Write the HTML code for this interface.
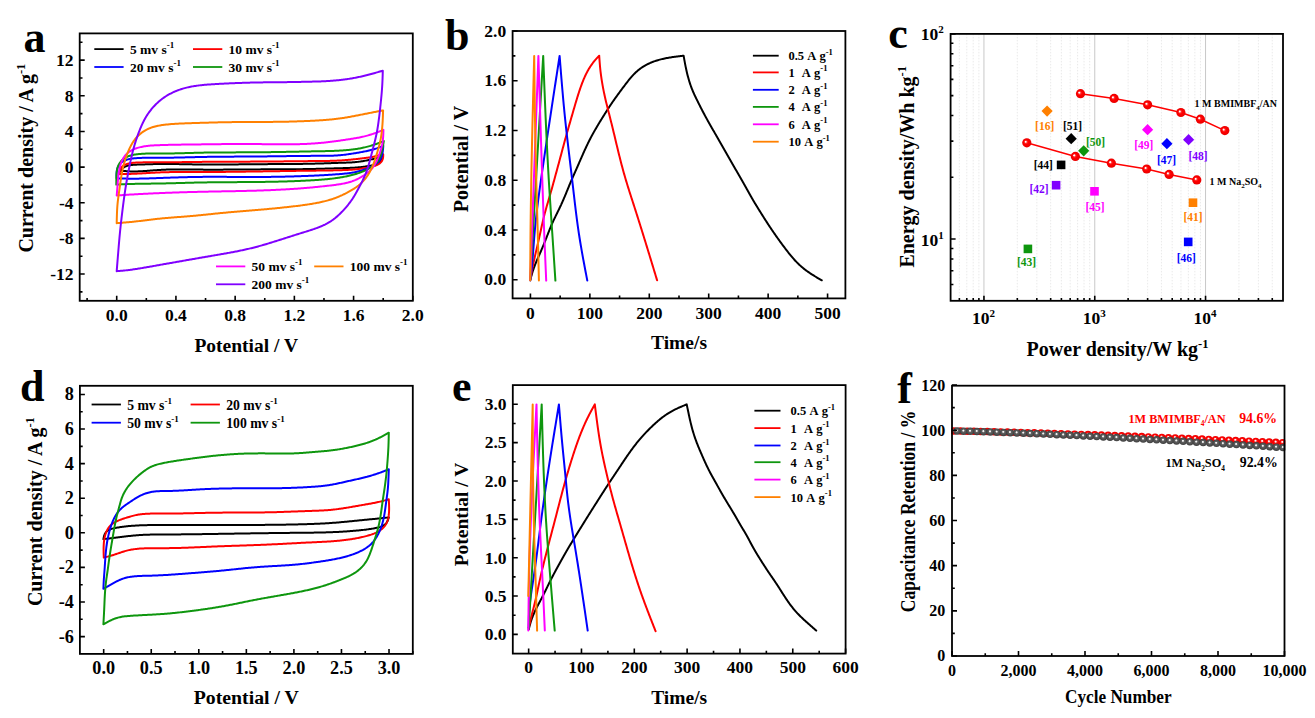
<!DOCTYPE html>
<html><head><meta charset="utf-8"><style>
html,body{margin:0;padding:0;background:#fff;}
svg{display:block;}
text{font-family:'Liberation Serif', serif;}
</style></head><body>
<svg width="1315" height="718" viewBox="0 0 1315 718" font-family="'Liberation Serif', serif">
<defs>
<radialGradient id="gr" cx="0.5" cy="0.5" r="0.5" fx="0.34" fy="0.36"><stop offset="0" stop-color="#fff"/><stop offset="0.12" stop-color="#fff"/><stop offset="0.3" stop-color="#ff3030"/><stop offset="0.5" stop-color="#ff0000"/><stop offset="1" stop-color="#e80000"/></radialGradient>
<radialGradient id="fr" cx="0.5" cy="0.5" r="0.5" fx="0.45" fy="0.36"><stop offset="0" stop-color="#fff"/><stop offset="0.16" stop-color="#ffecec"/><stop offset="0.38" stop-color="#ff1a1a"/><stop offset="0.6" stop-color="#ff0000"/><stop offset="1" stop-color="#e60000"/></radialGradient>
<radialGradient id="fg" cx="0.5" cy="0.5" r="0.5" fx="0.45" fy="0.4"><stop offset="0" stop-color="#fff"/><stop offset="0.16" stop-color="#ececec"/><stop offset="0.38" stop-color="#606060"/><stop offset="0.7" stop-color="#505050"/><stop offset="1" stop-color="#3e3e3e"/></radialGradient>
</defs>
<rect width="1315" height="718" fill="#fff"/>
<path d="M120.40,170.60 L121.01,169.85 L121.64,169.14 L122.31,168.47 L123.04,167.87 L123.82,167.33 L124.64,166.86 L125.51,166.45 L126.41,166.10 L127.34,165.80 L128.29,165.54 L129.26,165.33 L130.24,165.16 L131.24,165.02 L132.25,164.90 L133.26,164.82 L134.29,164.75 L135.32,164.70 L136.35,164.66 L137.38,164.62 L138.41,164.59 L139.43,164.56 L140.46,164.52 L141.48,164.49 L142.50,164.46 L143.51,164.42 L144.52,164.39 L145.54,164.36 L146.54,164.32 L147.55,164.29 L148.56,164.26 L149.56,164.23 L150.57,164.20 L151.57,164.17 L152.57,164.15 L153.57,164.12 L154.57,164.10 L155.57,164.08 L156.57,164.06 L157.57,164.04 L158.57,164.02 L159.57,164.01 L160.57,164.00 L161.57,163.99 L162.57,163.98 L163.57,163.98 L164.57,163.98 L165.58,163.97 L166.58,163.98 L167.58,163.98 L168.59,163.98 L169.59,163.99 L170.59,164.00 L171.60,164.01 L172.60,164.02 L173.61,164.03 L174.61,164.05 L175.62,164.06 L176.63,164.08 L177.63,164.09 L178.64,164.11 L179.65,164.13 L180.65,164.14 L181.66,164.16 L182.67,164.18 L183.68,164.20 L184.68,164.22 L185.69,164.24 L186.70,164.26 L187.71,164.28 L188.71,164.30 L189.72,164.32 L190.73,164.34 L191.74,164.36 L192.75,164.38 L193.76,164.40 L194.76,164.42 L195.77,164.44 L196.78,164.45 L197.79,164.47 L198.80,164.48 L199.80,164.50 L200.81,164.51 L201.82,164.52 L202.83,164.53 L203.83,164.54 L204.84,164.54 L205.85,164.55 L206.86,164.56 L207.86,164.56 L208.87,164.56 L209.88,164.57 L210.88,164.57 L211.89,164.57 L212.90,164.57 L213.90,164.57 L214.91,164.57 L215.92,164.56 L216.92,164.56 L217.93,164.56 L218.94,164.55 L219.94,164.55 L220.95,164.54 L221.95,164.53 L222.96,164.53 L223.97,164.52 L224.97,164.51 L225.98,164.50 L226.98,164.50 L227.99,164.49 L228.99,164.48 L230.00,164.47 L231.01,164.46 L232.01,164.45 L233.02,164.44 L234.02,164.42 L235.03,164.41 L236.03,164.40 L237.04,164.39 L238.05,164.38 L239.05,164.37 L240.06,164.36 L241.06,164.34 L242.07,164.33 L243.07,164.32 L244.08,164.31 L245.08,164.30 L246.09,164.29 L247.10,164.28 L248.10,164.27 L249.11,164.26 L250.11,164.25 L251.12,164.24 L252.12,164.23 L253.13,164.22 L254.14,164.21 L255.14,164.20 L256.15,164.19 L257.15,164.18 L258.16,164.18 L259.17,164.17 L260.17,164.16 L261.18,164.16 L262.18,164.15 L263.19,164.15 L264.20,164.14 L265.20,164.14 L266.21,164.13 L267.22,164.13 L268.22,164.12 L269.23,164.12 L270.23,164.11 L271.24,164.11 L272.25,164.11 L273.25,164.10 L274.26,164.10 L275.27,164.09 L276.27,164.09 L277.28,164.08 L278.29,164.08 L279.29,164.08 L280.30,164.07 L281.30,164.07 L282.31,164.06 L283.32,164.06 L284.32,164.05 L285.33,164.04 L286.34,164.04 L287.34,164.03 L288.35,164.03 L289.36,164.02 L290.36,164.01 L291.37,164.00 L292.37,163.99 L293.38,163.99 L294.39,163.98 L295.39,163.97 L296.40,163.96 L297.41,163.95 L298.41,163.93 L299.42,163.92 L300.42,163.91 L301.43,163.90 L302.44,163.88 L303.44,163.87 L304.45,163.85 L305.45,163.83 L306.46,163.82 L307.47,163.80 L308.47,163.78 L309.48,163.76 L310.48,163.74 L311.49,163.72 L312.49,163.70 L313.50,163.67 L314.51,163.65 L315.51,163.62 L316.52,163.60 L317.52,163.57 L318.53,163.54 L319.53,163.51 L320.54,163.48 L321.54,163.45 L322.55,163.42 L323.55,163.38 L324.56,163.35 L325.56,163.31 L326.57,163.28 L327.57,163.24 L328.58,163.21 L329.58,163.17 L330.59,163.13 L331.59,163.10 L332.60,163.06 L333.60,163.03 L334.61,162.99 L335.62,162.96 L336.62,162.92 L337.63,162.89 L338.64,162.86 L339.64,162.83 L340.65,162.80 L341.66,162.77 L342.67,162.74 L343.68,162.71 L344.68,162.68 L345.69,162.65 L346.70,162.61 L347.71,162.57 L348.71,162.53 L349.72,162.48 L350.73,162.43 L351.73,162.38 L352.73,162.31 L353.74,162.24 L354.74,162.16 L355.74,162.07 L356.74,161.98 L357.74,161.87 L358.74,161.76 L359.73,161.63 L360.73,161.49 L361.72,161.34 L362.71,161.18 L363.70,161.00 L364.69,160.82 L365.68,160.63 L366.66,160.43 L367.65,160.23 L368.63,160.02 L369.62,159.80 L370.60,159.59 L371.59,159.37 L372.57,159.15 L373.55,158.94 L374.54,158.72 L375.52,158.50 L376.50,158.29 L377.48,158.07 L378.47,157.86 L379.45,157.64 L380.43,157.43 L381.42,157.21 L382.40,157.00 M382.40,157.00 L382.00,157.93 L381.59,158.85 L381.15,159.73 L380.67,160.57 L380.14,161.35 L379.53,162.05 L378.85,162.67 L378.10,163.21 L377.28,163.68 L376.41,164.08 L375.49,164.43 L374.53,164.73 L373.55,165.00 L372.55,165.23 L371.55,165.45 L370.54,165.65 L369.53,165.85 L368.52,166.03 L367.51,166.20 L366.50,166.36 L365.50,166.52 L364.49,166.66 L363.48,166.79 L362.48,166.92 L361.47,167.03 L360.47,167.14 L359.46,167.24 L358.46,167.34 L357.45,167.42 L356.45,167.50 L355.44,167.58 L354.44,167.64 L353.44,167.71 L352.43,167.76 L351.43,167.82 L350.43,167.86 L349.42,167.91 L348.42,167.95 L347.42,167.99 L346.42,168.02 L345.41,168.05 L344.41,168.08 L343.41,168.11 L342.40,168.14 L341.40,168.17 L340.40,168.20 L339.39,168.23 L338.39,168.25 L337.39,168.28 L336.38,168.31 L335.38,168.34 L334.37,168.37 L333.37,168.40 L332.37,168.42 L331.36,168.45 L330.36,168.48 L329.35,168.51 L328.35,168.54 L327.34,168.57 L326.34,168.60 L325.34,168.62 L324.33,168.65 L323.33,168.68 L322.32,168.71 L321.32,168.73 L320.31,168.76 L319.31,168.79 L318.30,168.81 L317.30,168.84 L316.29,168.86 L315.29,168.88 L314.28,168.91 L313.28,168.93 L312.27,168.95 L311.27,168.97 L310.26,168.99 L309.26,169.01 L308.25,169.03 L307.25,169.05 L306.24,169.07 L305.24,169.08 L304.23,169.10 L303.23,169.11 L302.22,169.13 L301.22,169.14 L300.21,169.15 L299.21,169.17 L298.20,169.18 L297.20,169.19 L296.19,169.20 L295.19,169.21 L294.18,169.22 L293.18,169.23 L292.17,169.24 L291.17,169.24 L290.16,169.25 L289.16,169.26 L288.15,169.26 L287.15,169.27 L286.14,169.28 L285.14,169.28 L284.13,169.29 L283.13,169.29 L282.12,169.30 L281.12,169.30 L280.11,169.31 L279.11,169.31 L278.10,169.31 L277.10,169.32 L276.09,169.32 L275.09,169.33 L274.08,169.33 L273.08,169.33 L272.07,169.33 L271.07,169.34 L270.07,169.34 L269.06,169.34 L268.06,169.35 L267.05,169.35 L266.05,169.35 L265.04,169.36 L264.04,169.36 L263.03,169.36 L262.03,169.37 L261.02,169.37 L260.02,169.38 L259.01,169.38 L258.01,169.39 L257.00,169.39 L256.00,169.40 L254.99,169.40 L253.99,169.41 L252.98,169.41 L251.98,169.42 L250.97,169.43 L249.97,169.43 L248.96,169.44 L247.96,169.45 L246.95,169.45 L245.95,169.46 L244.94,169.47 L243.94,169.48 L242.93,169.49 L241.93,169.49 L240.92,169.50 L239.92,169.51 L238.91,169.52 L237.91,169.53 L236.90,169.53 L235.90,169.54 L234.89,169.55 L233.89,169.56 L232.88,169.56 L231.88,169.57 L230.87,169.58 L229.87,169.59 L228.86,169.59 L227.86,169.60 L226.85,169.60 L225.85,169.61 L224.84,169.62 L223.84,169.62 L222.83,169.63 L221.83,169.63 L220.82,169.64 L219.82,169.64 L218.81,169.64 L217.81,169.65 L216.80,169.65 L215.80,169.65 L214.80,169.65 L213.79,169.65 L212.79,169.65 L211.78,169.65 L210.78,169.65 L209.77,169.65 L208.77,169.65 L207.76,169.64 L206.76,169.64 L205.75,169.64 L204.75,169.63 L203.74,169.63 L202.74,169.62 L201.73,169.61 L200.73,169.60 L199.72,169.59 L198.72,169.58 L197.71,169.57 L196.71,169.56 L195.70,169.55 L194.70,169.54 L193.69,169.53 L192.69,169.51 L191.68,169.50 L190.68,169.49 L189.67,169.48 L188.67,169.47 L187.67,169.46 L186.66,169.45 L185.66,169.44 L184.65,169.43 L183.65,169.42 L182.64,169.42 L181.64,169.41 L180.63,169.41 L179.63,169.41 L178.62,169.41 L177.62,169.42 L176.61,169.42 L175.61,169.43 L174.60,169.44 L173.60,169.45 L172.59,169.46 L171.59,169.48 L170.58,169.50 L169.58,169.52 L168.57,169.55 L167.57,169.58 L166.56,169.61 L165.56,169.65 L164.55,169.68 L163.55,169.73 L162.54,169.78 L161.54,169.83 L160.53,169.88 L159.53,169.94 L158.52,170.00 L157.52,170.07 L156.51,170.14 L155.51,170.22 L154.50,170.29 L153.49,170.37 L152.49,170.44 L151.48,170.52 L150.48,170.60 L149.47,170.68 L148.47,170.76 L147.46,170.83 L146.46,170.90 L145.45,170.97 L144.45,171.04 L143.45,171.11 L142.44,171.17 L141.44,171.22 L140.43,171.28 L139.43,171.32 L138.43,171.36 L137.42,171.39 L136.42,171.42 L135.42,171.44 L134.41,171.45 L133.41,171.45 L132.41,171.44 L131.41,171.43 L130.40,171.40 L129.40,171.36 L128.40,171.32 L127.40,171.26 L126.40,171.18 L125.40,171.10 L124.40,171.01 L123.40,170.92 L122.40,170.81 L121.40,170.71 L120.40,170.60" fill="none" stroke="#000000" stroke-width="2.0" stroke-linejoin="round" stroke-linecap="round"/>
<path d="M119.70,174.10 L119.75,173.08 L119.83,172.07 L119.96,171.08 L120.16,170.13 L120.46,169.23 L120.85,168.37 L121.34,167.59 L121.93,166.87 L122.60,166.23 L123.36,165.66 L124.19,165.17 L125.07,164.73 L126.00,164.35 L126.95,164.02 L127.93,163.74 L128.91,163.50 L129.91,163.29 L130.92,163.12 L131.94,162.97 L132.96,162.86 L133.99,162.76 L135.02,162.68 L136.05,162.62 L137.08,162.57 L138.11,162.52 L139.14,162.48 L140.16,162.45 L141.19,162.42 L142.21,162.39 L143.22,162.37 L144.24,162.35 L145.25,162.33 L146.26,162.32 L147.27,162.31 L148.27,162.30 L149.28,162.30 L150.28,162.29 L151.29,162.29 L152.29,162.29 L153.29,162.29 L154.29,162.29 L155.29,162.29 L156.29,162.29 L157.29,162.29 L158.29,162.29 L159.29,162.29 L160.29,162.29 L161.29,162.29 L162.29,162.29 L163.29,162.29 L164.30,162.29 L165.30,162.28 L166.30,162.28 L167.31,162.27 L168.31,162.26 L169.31,162.26 L170.32,162.25 L171.32,162.24 L172.33,162.23 L173.33,162.22 L174.34,162.21 L175.35,162.20 L176.35,162.19 L177.36,162.18 L178.37,162.17 L179.37,162.16 L180.38,162.15 L181.39,162.13 L182.40,162.12 L183.41,162.11 L184.41,162.09 L185.42,162.08 L186.43,162.07 L187.44,162.06 L188.45,162.04 L189.46,162.03 L190.47,162.02 L191.47,162.00 L192.48,161.99 L193.49,161.98 L194.50,161.96 L195.51,161.95 L196.52,161.94 L197.53,161.93 L198.53,161.92 L199.54,161.91 L200.55,161.89 L201.56,161.88 L202.57,161.87 L203.58,161.86 L204.58,161.86 L205.59,161.85 L206.60,161.84 L207.61,161.83 L208.62,161.82 L209.62,161.81 L210.63,161.81 L211.64,161.80 L212.64,161.79 L213.65,161.79 L214.66,161.78 L215.67,161.77 L216.67,161.77 L217.68,161.76 L218.69,161.76 L219.69,161.75 L220.70,161.75 L221.71,161.74 L222.71,161.74 L223.72,161.73 L224.73,161.73 L225.73,161.72 L226.74,161.72 L227.75,161.71 L228.75,161.71 L229.76,161.71 L230.76,161.70 L231.77,161.70 L232.78,161.69 L233.78,161.69 L234.79,161.69 L235.80,161.68 L236.80,161.68 L237.81,161.68 L238.81,161.67 L239.82,161.67 L240.83,161.66 L241.83,161.66 L242.84,161.66 L243.84,161.65 L244.85,161.65 L245.85,161.64 L246.86,161.64 L247.87,161.64 L248.87,161.63 L249.88,161.63 L250.88,161.62 L251.89,161.62 L252.90,161.61 L253.90,161.61 L254.91,161.60 L255.91,161.59 L256.92,161.59 L257.93,161.58 L258.93,161.58 L259.94,161.57 L260.94,161.56 L261.95,161.56 L262.96,161.55 L263.96,161.54 L264.97,161.53 L265.98,161.53 L266.98,161.52 L267.99,161.51 L268.99,161.50 L270.00,161.50 L271.01,161.49 L272.01,161.48 L273.02,161.47 L274.03,161.46 L275.03,161.45 L276.04,161.44 L277.04,161.44 L278.05,161.43 L279.06,161.42 L280.06,161.41 L281.07,161.40 L282.08,161.39 L283.08,161.38 L284.09,161.37 L285.10,161.36 L286.10,161.35 L287.11,161.34 L288.12,161.33 L289.12,161.32 L290.13,161.31 L291.14,161.30 L292.14,161.29 L293.15,161.28 L294.16,161.27 L295.16,161.26 L296.17,161.25 L297.18,161.24 L298.18,161.23 L299.19,161.22 L300.20,161.21 L301.20,161.20 L302.21,161.19 L303.22,161.18 L304.22,161.17 L305.23,161.16 L306.24,161.14 L307.24,161.13 L308.25,161.12 L309.26,161.11 L310.27,161.10 L311.27,161.09 L312.28,161.08 L313.29,161.07 L314.29,161.06 L315.30,161.05 L316.31,161.04 L317.32,161.03 L318.32,161.02 L319.33,161.01 L320.34,161.00 L321.34,160.99 L322.35,160.98 L323.36,160.97 L324.37,160.96 L325.37,160.95 L326.38,160.93 L327.39,160.92 L328.39,160.90 L329.40,160.88 L330.41,160.86 L331.41,160.84 L332.42,160.81 L333.43,160.78 L334.43,160.75 L335.44,160.71 L336.44,160.67 L337.45,160.62 L338.45,160.58 L339.46,160.52 L340.46,160.46 L341.46,160.40 L342.47,160.33 L343.47,160.26 L344.47,160.18 L345.48,160.10 L346.48,160.02 L347.48,159.93 L348.49,159.84 L349.49,159.74 L350.49,159.65 L351.49,159.55 L352.49,159.45 L353.49,159.34 L354.50,159.24 L355.50,159.13 L356.50,159.02 L357.50,158.91 L358.50,158.80 L359.50,158.68 L360.51,158.57 L361.51,158.46 L362.51,158.34 L363.51,158.22 L364.51,158.11 L365.51,157.98 L366.51,157.85 L367.51,157.72 L368.51,157.58 L369.50,157.43 L370.50,157.27 L371.49,157.10 L372.48,156.92 L373.46,156.73 L374.45,156.52 L375.43,156.30 L376.41,156.07 L377.38,155.82 L378.35,155.57 L379.33,155.31 L380.30,155.03 L381.26,154.76 L382.23,154.48 L383.20,154.20 M383.20,154.20 L383.21,155.22 L383.18,156.23 L383.11,157.22 L382.96,158.19 L382.72,159.12 L382.39,160.01 L381.97,160.85 L381.46,161.63 L380.85,162.35 L380.16,163.00 L379.40,163.60 L378.58,164.13 L377.72,164.62 L376.82,165.05 L375.90,165.45 L374.95,165.80 L373.99,166.11 L373.00,166.40 L372.00,166.65 L370.99,166.89 L369.98,167.10 L368.96,167.30 L367.94,167.49 L366.93,167.68 L365.92,167.86 L364.91,168.03 L363.91,168.20 L362.90,168.36 L361.90,168.51 L360.90,168.66 L359.91,168.80 L358.91,168.93 L357.92,169.06 L356.92,169.17 L355.93,169.28 L354.93,169.39 L353.93,169.48 L352.93,169.57 L351.94,169.65 L350.94,169.73 L349.93,169.79 L348.93,169.85 L347.93,169.91 L346.92,169.96 L345.92,170.01 L344.91,170.05 L343.91,170.09 L342.90,170.12 L341.90,170.15 L340.89,170.18 L339.88,170.21 L338.88,170.24 L337.87,170.27 L336.87,170.29 L335.86,170.31 L334.85,170.34 L333.85,170.36 L332.84,170.38 L331.84,170.40 L330.83,170.42 L329.82,170.44 L328.82,170.45 L327.81,170.47 L326.81,170.49 L325.80,170.50 L324.80,170.52 L323.79,170.53 L322.79,170.55 L321.78,170.56 L320.77,170.57 L319.77,170.59 L318.76,170.60 L317.76,170.61 L316.75,170.62 L315.75,170.63 L314.74,170.65 L313.74,170.66 L312.73,170.67 L311.73,170.68 L310.72,170.69 L309.72,170.70 L308.71,170.72 L307.71,170.73 L306.70,170.74 L305.69,170.75 L304.69,170.77 L303.68,170.78 L302.68,170.79 L301.67,170.81 L300.67,170.82 L299.66,170.83 L298.66,170.85 L297.65,170.86 L296.65,170.87 L295.64,170.89 L294.64,170.90 L293.63,170.92 L292.62,170.93 L291.62,170.95 L290.61,170.96 L289.61,170.98 L288.60,170.99 L287.60,171.01 L286.59,171.02 L285.59,171.03 L284.58,171.05 L283.57,171.07 L282.57,171.08 L281.56,171.10 L280.56,171.11 L279.55,171.13 L278.55,171.14 L277.54,171.16 L276.53,171.17 L275.53,171.19 L274.52,171.20 L273.52,171.22 L272.51,171.23 L271.51,171.25 L270.50,171.26 L269.50,171.28 L268.49,171.30 L267.48,171.31 L266.48,171.33 L265.47,171.34 L264.47,171.36 L263.46,171.37 L262.46,171.39 L261.45,171.40 L260.45,171.42 L259.44,171.43 L258.43,171.45 L257.43,171.46 L256.42,171.48 L255.42,171.49 L254.41,171.51 L253.41,171.52 L252.40,171.54 L251.40,171.55 L250.39,171.57 L249.38,171.58 L248.38,171.60 L247.37,171.61 L246.37,171.62 L245.36,171.64 L244.36,171.65 L243.35,171.67 L242.35,171.68 L241.34,171.69 L240.33,171.71 L239.33,171.72 L238.32,171.73 L237.32,171.74 L236.31,171.76 L235.31,171.77 L234.30,171.78 L233.30,171.79 L232.29,171.80 L231.28,171.81 L230.28,171.82 L229.27,171.84 L228.27,171.85 L227.26,171.86 L226.26,171.87 L225.25,171.88 L224.25,171.88 L223.24,171.89 L222.23,171.90 L221.23,171.91 L220.22,171.92 L219.22,171.93 L218.21,171.93 L217.21,171.94 L216.20,171.95 L215.20,171.95 L214.19,171.96 L213.18,171.96 L212.18,171.97 L211.17,171.97 L210.17,171.98 L209.16,171.98 L208.16,171.99 L207.15,171.99 L206.14,171.99 L205.14,171.99 L204.13,172.00 L203.13,172.00 L202.12,172.00 L201.12,172.00 L200.11,172.00 L199.10,172.00 L198.10,172.00 L197.09,172.00 L196.09,171.99 L195.08,171.99 L194.07,171.99 L193.07,171.99 L192.06,171.99 L191.06,171.99 L190.05,171.98 L189.04,171.98 L188.04,171.98 L187.03,171.98 L186.03,171.98 L185.02,171.98 L184.02,171.98 L183.01,171.98 L182.00,171.99 L181.00,171.99 L179.99,172.00 L178.99,172.00 L177.98,172.01 L176.98,172.02 L175.97,172.03 L174.96,172.04 L173.96,172.05 L172.95,172.06 L171.95,172.08 L170.94,172.09 L169.94,172.11 L168.93,172.13 L167.93,172.16 L166.92,172.18 L165.92,172.21 L164.91,172.23 L163.91,172.26 L162.90,172.30 L161.90,172.33 L160.89,172.37 L159.89,172.41 L158.88,172.45 L157.88,172.50 L156.87,172.54 L155.87,172.59 L154.86,172.64 L153.86,172.70 L152.85,172.75 L151.85,172.81 L150.85,172.86 L149.84,172.92 L148.84,172.98 L147.83,173.03 L146.83,173.09 L145.82,173.15 L144.82,173.21 L143.82,173.27 L142.81,173.32 L141.81,173.38 L140.80,173.44 L139.80,173.49 L138.79,173.55 L137.79,173.60 L136.78,173.65 L135.78,173.70 L134.78,173.75 L133.77,173.79 L132.77,173.83 L131.76,173.87 L130.76,173.91 L129.75,173.94 L128.75,173.98 L127.74,174.00 L126.74,174.03 L125.73,174.05 L124.73,174.07 L123.72,174.08 L122.72,174.09 L121.71,174.09 L120.71,174.10 L119.70,174.10" fill="none" stroke="#FF0000" stroke-width="2.0" stroke-linejoin="round" stroke-linecap="round"/>
<path d="M116.60,178.30 L116.57,177.26 L116.55,176.22 L116.54,175.19 L116.56,174.16 L116.60,173.15 L116.67,172.14 L116.78,171.14 L116.94,170.16 L117.15,169.21 L117.41,168.28 L117.75,167.38 L118.15,166.52 L118.61,165.69 L119.14,164.91 L119.72,164.17 L120.37,163.47 L121.07,162.83 L121.82,162.23 L122.62,161.68 L123.45,161.18 L124.33,160.73 L125.23,160.32 L126.16,159.95 L127.11,159.63 L128.08,159.34 L129.06,159.10 L130.05,158.88 L131.05,158.70 L132.06,158.54 L133.07,158.41 L134.09,158.30 L135.12,158.21 L136.14,158.14 L137.17,158.07 L138.20,158.02 L139.22,157.97 L140.24,157.92 L141.26,157.89 L142.28,157.86 L143.30,157.83 L144.31,157.81 L145.32,157.79 L146.33,157.78 L147.34,157.77 L148.35,157.76 L149.36,157.75 L150.37,157.75 L151.37,157.75 L152.38,157.75 L153.38,157.76 L154.39,157.76 L155.39,157.76 L156.39,157.77 L157.40,157.77 L158.40,157.77 L159.40,157.77 L160.40,157.77 L161.41,157.77 L162.41,157.77 L163.41,157.76 L164.42,157.75 L165.42,157.75 L166.42,157.74 L167.43,157.72 L168.43,157.71 L169.43,157.70 L170.44,157.68 L171.44,157.67 L172.45,157.65 L173.45,157.63 L174.46,157.61 L175.46,157.59 L176.46,157.57 L177.47,157.55 L178.47,157.52 L179.48,157.50 L180.48,157.48 L181.49,157.45 L182.49,157.43 L183.50,157.40 L184.50,157.38 L185.51,157.35 L186.51,157.33 L187.52,157.30 L188.53,157.28 L189.53,157.25 L190.54,157.23 L191.54,157.20 L192.55,157.18 L193.55,157.15 L194.56,157.13 L195.56,157.10 L196.57,157.08 L197.57,157.06 L198.58,157.04 L199.59,157.01 L200.59,156.99 L201.60,156.97 L202.60,156.95 L203.61,156.94 L204.61,156.92 L205.62,156.90 L206.62,156.89 L207.63,156.87 L208.63,156.85 L209.64,156.84 L210.64,156.83 L211.65,156.81 L212.65,156.80 L213.66,156.79 L214.67,156.78 L215.67,156.77 L216.68,156.76 L217.68,156.75 L218.69,156.74 L219.69,156.73 L220.70,156.72 L221.70,156.71 L222.71,156.70 L223.71,156.69 L224.72,156.69 L225.72,156.68 L226.73,156.67 L227.73,156.67 L228.74,156.66 L229.74,156.65 L230.75,156.65 L231.75,156.64 L232.76,156.64 L233.76,156.63 L234.77,156.62 L235.77,156.62 L236.78,156.61 L237.78,156.61 L238.78,156.60 L239.79,156.60 L240.79,156.59 L241.80,156.59 L242.80,156.58 L243.81,156.57 L244.81,156.57 L245.82,156.56 L246.82,156.56 L247.83,156.55 L248.83,156.54 L249.84,156.54 L250.84,156.53 L251.85,156.52 L252.85,156.52 L253.86,156.51 L254.86,156.50 L255.86,156.49 L256.87,156.48 L257.87,156.47 L258.88,156.46 L259.88,156.45 L260.89,156.44 L261.89,156.43 L262.90,156.42 L263.90,156.41 L264.91,156.40 L265.91,156.39 L266.91,156.38 L267.92,156.37 L268.92,156.35 L269.93,156.34 L270.93,156.33 L271.94,156.32 L272.94,156.30 L273.95,156.29 L274.95,156.28 L275.95,156.27 L276.96,156.25 L277.96,156.24 L278.97,156.23 L279.97,156.21 L280.98,156.20 L281.98,156.19 L282.99,156.17 L283.99,156.16 L285.00,156.15 L286.00,156.14 L287.01,156.12 L288.01,156.11 L289.02,156.10 L290.02,156.09 L291.03,156.07 L292.03,156.06 L293.04,156.05 L294.04,156.04 L295.05,156.03 L296.05,156.01 L297.06,156.00 L298.06,155.99 L299.07,155.98 L300.07,155.97 L301.08,155.96 L302.08,155.95 L303.09,155.94 L304.09,155.93 L305.10,155.92 L306.10,155.91 L307.11,155.90 L308.11,155.89 L309.12,155.89 L310.13,155.88 L311.13,155.87 L312.14,155.87 L313.14,155.86 L314.15,155.85 L315.15,155.85 L316.16,155.84 L317.17,155.84 L318.17,155.84 L319.18,155.83 L320.19,155.83 L321.19,155.83 L322.20,155.82 L323.20,155.82 L324.21,155.82 L325.22,155.81 L326.22,155.80 L327.23,155.79 L328.23,155.78 L329.24,155.76 L330.25,155.74 L331.25,155.72 L332.25,155.69 L333.26,155.65 L334.26,155.61 L335.26,155.56 L336.27,155.51 L337.27,155.44 L338.27,155.37 L339.27,155.29 L340.27,155.20 L341.27,155.11 L342.27,155.00 L343.26,154.88 L344.26,154.76 L345.26,154.64 L346.25,154.50 L347.25,154.37 L348.25,154.22 L349.24,154.08 L350.24,153.93 L351.23,153.78 L352.23,153.63 L353.22,153.47 L354.21,153.31 L355.21,153.15 L356.20,152.99 L357.19,152.83 L358.19,152.66 L359.18,152.48 L360.17,152.31 L361.16,152.13 L362.15,151.94 L363.13,151.75 L364.12,151.56 L365.11,151.36 L366.09,151.15 L367.07,150.94 L368.05,150.72 L369.03,150.50 L370.01,150.27 L370.98,150.03 L371.96,149.78 L372.92,149.52 L373.89,149.25 L374.85,148.96 L375.81,148.66 L376.76,148.35 L377.70,148.01 L378.64,147.67 L379.58,147.31 L380.51,146.94 L381.44,146.57 L382.37,146.18 L383.30,145.80 M383.30,145.80 L383.22,146.83 L383.14,147.86 L383.04,148.88 L382.94,149.91 L382.83,150.92 L382.69,151.93 L382.53,152.93 L382.34,153.92 L382.11,154.88 L381.85,155.83 L381.53,156.75 L381.17,157.65 L380.75,158.52 L380.28,159.36 L379.75,160.16 L379.18,160.93 L378.55,161.65 L377.87,162.34 L377.14,162.99 L376.38,163.60 L375.58,164.19 L374.75,164.74 L373.90,165.27 L373.03,165.78 L372.15,166.26 L371.24,166.73 L370.33,167.17 L369.41,167.60 L368.47,168.01 L367.53,168.40 L366.57,168.77 L365.62,169.13 L364.65,169.47 L363.69,169.80 L362.72,170.12 L361.75,170.42 L360.78,170.71 L359.80,170.98 L358.82,171.24 L357.84,171.49 L356.86,171.73 L355.87,171.95 L354.89,172.16 L353.90,172.36 L352.91,172.54 L351.91,172.71 L350.92,172.87 L349.92,173.02 L348.93,173.16 L347.93,173.29 L346.93,173.41 L345.93,173.52 L344.93,173.62 L343.93,173.72 L342.92,173.81 L341.92,173.90 L340.92,173.98 L339.91,174.06 L338.91,174.14 L337.91,174.22 L336.90,174.29 L335.90,174.37 L334.89,174.44 L333.89,174.51 L332.89,174.58 L331.88,174.64 L330.88,174.71 L329.87,174.78 L328.87,174.84 L327.86,174.90 L326.86,174.96 L325.85,175.02 L324.85,175.08 L323.84,175.13 L322.84,175.19 L321.84,175.24 L320.83,175.30 L319.82,175.35 L318.82,175.40 L317.81,175.45 L316.81,175.50 L315.80,175.54 L314.80,175.59 L313.79,175.64 L312.79,175.68 L311.78,175.73 L310.78,175.77 L309.77,175.81 L308.77,175.85 L307.76,175.89 L306.75,175.93 L305.75,175.97 L304.74,176.01 L303.74,176.05 L302.73,176.09 L301.73,176.12 L300.72,176.16 L299.71,176.20 L298.71,176.23 L297.70,176.26 L296.70,176.30 L295.69,176.33 L294.69,176.36 L293.68,176.39 L292.67,176.42 L291.67,176.45 L290.66,176.48 L289.66,176.50 L288.65,176.53 L287.64,176.56 L286.64,176.58 L285.63,176.61 L284.63,176.63 L283.62,176.65 L282.61,176.68 L281.61,176.70 L280.60,176.72 L279.60,176.74 L278.59,176.76 L277.58,176.78 L276.58,176.79 L275.57,176.81 L274.56,176.83 L273.56,176.84 L272.55,176.86 L271.55,176.87 L270.54,176.89 L269.53,176.90 L268.53,176.91 L267.52,176.92 L266.51,176.93 L265.51,176.94 L264.50,176.95 L263.49,176.96 L262.49,176.97 L261.48,176.97 L260.48,176.98 L259.47,176.98 L258.46,176.99 L257.46,176.99 L256.45,177.00 L255.44,177.00 L254.44,177.00 L253.43,177.00 L252.42,177.00 L251.42,177.00 L250.41,177.00 L249.41,177.00 L248.40,176.99 L247.39,176.99 L246.39,176.99 L245.38,176.98 L244.37,176.98 L243.37,176.97 L242.36,176.97 L241.35,176.96 L240.35,176.96 L239.34,176.95 L238.33,176.95 L237.33,176.94 L236.32,176.93 L235.32,176.93 L234.31,176.92 L233.30,176.92 L232.30,176.91 L231.29,176.90 L230.28,176.90 L229.28,176.89 L228.27,176.88 L227.26,176.88 L226.26,176.87 L225.25,176.87 L224.25,176.86 L223.24,176.86 L222.23,176.85 L221.23,176.85 L220.22,176.84 L219.21,176.84 L218.21,176.84 L217.20,176.83 L216.20,176.83 L215.19,176.83 L214.18,176.83 L213.18,176.83 L212.17,176.83 L211.16,176.83 L210.16,176.83 L209.15,176.84 L208.15,176.84 L207.14,176.84 L206.13,176.85 L205.13,176.86 L204.12,176.86 L203.12,176.87 L202.11,176.88 L201.10,176.89 L200.10,176.90 L199.09,176.91 L198.09,176.93 L197.08,176.94 L196.07,176.96 L195.07,176.98 L194.06,176.99 L193.06,177.01 L192.05,177.03 L191.04,177.05 L190.04,177.07 L189.03,177.10 L188.03,177.12 L187.02,177.14 L186.01,177.17 L185.01,177.20 L184.00,177.22 L183.00,177.25 L181.99,177.28 L180.99,177.31 L179.98,177.33 L178.97,177.36 L177.97,177.39 L176.96,177.43 L175.96,177.46 L174.95,177.49 L173.94,177.52 L172.94,177.55 L171.93,177.59 L170.93,177.62 L169.92,177.65 L168.91,177.69 L167.91,177.72 L166.90,177.76 L165.90,177.79 L164.89,177.83 L163.88,177.87 L162.88,177.90 L161.87,177.94 L160.87,177.97 L159.86,178.01 L158.85,178.05 L157.85,178.08 L156.84,178.12 L155.83,178.15 L154.83,178.19 L153.82,178.23 L152.82,178.26 L151.81,178.29 L150.80,178.33 L149.80,178.36 L148.79,178.39 L147.78,178.42 L146.78,178.45 L145.77,178.48 L144.77,178.51 L143.76,178.53 L142.75,178.55 L141.75,178.58 L140.74,178.60 L139.73,178.61 L138.73,178.63 L137.72,178.64 L136.72,178.65 L135.71,178.66 L134.70,178.67 L133.70,178.68 L132.69,178.68 L131.69,178.68 L130.68,178.67 L129.67,178.67 L128.67,178.66 L127.66,178.64 L126.66,178.63 L125.65,178.61 L124.64,178.58 L123.64,178.56 L122.63,178.53 L121.63,178.49 L120.62,178.46 L119.62,178.42 L118.61,178.38 L117.61,178.34 L116.60,178.30" fill="none" stroke="#0000FF" stroke-width="2.0" stroke-linejoin="round" stroke-linecap="round"/>
<path d="M116.30,184.60 L116.31,183.58 L116.32,182.57 L116.33,181.55 L116.34,180.53 L116.35,179.51 L116.36,178.49 L116.38,177.47 L116.41,176.45 L116.44,175.43 L116.49,174.42 L116.56,173.41 L116.65,172.40 L116.77,171.40 L116.92,170.42 L117.11,169.44 L117.34,168.47 L117.62,167.52 L117.94,166.58 L118.30,165.67 L118.71,164.77 L119.17,163.91 L119.68,163.07 L120.24,162.27 L120.84,161.50 L121.49,160.77 L122.18,160.07 L122.91,159.42 L123.68,158.81 L124.49,158.25 L125.32,157.73 L126.19,157.25 L127.08,156.81 L128.00,156.41 L128.93,156.04 L129.88,155.72 L130.84,155.43 L131.82,155.18 L132.80,154.95 L133.80,154.75 L134.80,154.58 L135.81,154.42 L136.81,154.29 L137.82,154.17 L138.84,154.06 L139.85,153.97 L140.86,153.89 L141.87,153.81 L142.88,153.75 L143.89,153.70 L144.90,153.65 L145.91,153.62 L146.92,153.59 L147.92,153.56 L148.93,153.55 L149.94,153.53 L150.95,153.53 L151.96,153.52 L152.97,153.52 L153.98,153.53 L154.98,153.53 L155.99,153.54 L157.00,153.54 L158.01,153.55 L159.01,153.55 L160.02,153.55 L161.03,153.56 L162.03,153.55 L163.04,153.55 L164.05,153.54 L165.05,153.54 L166.06,153.53 L167.06,153.52 L168.07,153.50 L169.07,153.49 L170.08,153.47 L171.08,153.46 L172.09,153.44 L173.09,153.42 L174.10,153.40 L175.10,153.37 L176.11,153.35 L177.11,153.33 L178.11,153.30 L179.12,153.27 L180.12,153.25 L181.13,153.22 L182.13,153.19 L183.13,153.16 L184.14,153.14 L185.14,153.11 L186.15,153.08 L187.15,153.05 L188.15,153.02 L189.16,152.99 L190.16,152.96 L191.16,152.93 L192.17,152.91 L193.17,152.88 L194.17,152.85 L195.18,152.82 L196.18,152.80 L197.19,152.77 L198.19,152.75 L199.19,152.72 L200.20,152.70 L201.20,152.68 L202.20,152.66 L203.21,152.64 L204.21,152.62 L205.22,152.61 L206.22,152.59 L207.22,152.57 L208.23,152.56 L209.23,152.54 L210.24,152.53 L211.24,152.52 L212.25,152.51 L213.25,152.50 L214.26,152.49 L215.26,152.48 L216.26,152.47 L217.27,152.46 L218.27,152.45 L219.28,152.44 L220.28,152.44 L221.29,152.43 L222.29,152.43 L223.30,152.42 L224.30,152.41 L225.31,152.41 L226.31,152.41 L227.32,152.40 L228.32,152.40 L229.33,152.39 L230.33,152.39 L231.34,152.39 L232.34,152.39 L233.34,152.38 L234.35,152.38 L235.35,152.38 L236.36,152.37 L237.36,152.37 L238.37,152.37 L239.37,152.37 L240.38,152.36 L241.38,152.36 L242.39,152.36 L243.39,152.36 L244.40,152.35 L245.40,152.35 L246.41,152.34 L247.41,152.34 L248.42,152.34 L249.42,152.33 L250.43,152.33 L251.43,152.32 L252.44,152.31 L253.44,152.31 L254.45,152.30 L255.45,152.29 L256.45,152.29 L257.46,152.28 L258.46,152.27 L259.47,152.26 L260.47,152.25 L261.48,152.24 L262.48,152.23 L263.49,152.22 L264.49,152.20 L265.50,152.19 L266.50,152.18 L267.50,152.17 L268.51,152.15 L269.51,152.14 L270.52,152.13 L271.52,152.11 L272.53,152.10 L273.53,152.08 L274.53,152.07 L275.54,152.05 L276.54,152.03 L277.55,152.02 L278.55,152.00 L279.56,151.98 L280.56,151.97 L281.56,151.95 L282.57,151.93 L283.57,151.91 L284.58,151.89 L285.58,151.88 L286.59,151.86 L287.59,151.84 L288.59,151.82 L289.60,151.80 L290.60,151.78 L291.61,151.76 L292.61,151.74 L293.62,151.72 L294.62,151.70 L295.62,151.68 L296.63,151.67 L297.63,151.65 L298.64,151.63 L299.64,151.61 L300.65,151.59 L301.65,151.57 L302.66,151.55 L303.66,151.53 L304.67,151.51 L305.67,151.49 L306.67,151.47 L307.68,151.45 L308.68,151.43 L309.69,151.41 L310.69,151.39 L311.70,151.37 L312.70,151.35 L313.71,151.33 L314.71,151.31 L315.72,151.29 L316.72,151.27 L317.73,151.25 L318.73,151.24 L319.74,151.22 L320.75,151.20 L321.75,151.18 L322.76,151.16 L323.76,151.15 L324.77,151.13 L325.77,151.11 L326.78,151.09 L327.78,151.06 L328.79,151.04 L329.79,151.01 L330.80,150.99 L331.80,150.96 L332.81,150.93 L333.81,150.89 L334.82,150.85 L335.82,150.81 L336.83,150.77 L337.83,150.72 L338.83,150.67 L339.84,150.62 L340.84,150.56 L341.84,150.50 L342.84,150.43 L343.85,150.36 L344.85,150.28 L345.85,150.20 L346.85,150.11 L347.85,150.02 L348.85,149.92 L349.85,149.82 L350.85,149.71 L351.85,149.59 L352.85,149.46 L353.85,149.33 L354.85,149.19 L355.84,149.05 L356.84,148.89 L357.83,148.73 L358.82,148.56 L359.81,148.39 L360.80,148.20 L361.79,148.01 L362.77,147.80 L363.75,147.59 L364.73,147.37 L365.71,147.14 L366.69,146.90 L367.66,146.65 L368.63,146.39 L369.59,146.12 L370.56,145.84 L371.52,145.54 L372.47,145.24 L373.43,144.93 L374.38,144.61 L375.33,144.28 L376.27,143.95 L377.22,143.60 L378.16,143.26 L379.10,142.90 L380.05,142.55 L380.98,142.19 L381.92,141.83 L382.86,141.46 L383.80,141.10 M383.80,141.10 L383.64,142.09 L383.48,143.08 L383.31,144.07 L383.13,145.05 L382.95,146.04 L382.75,147.02 L382.55,148.01 L382.32,148.99 L382.09,149.97 L381.84,150.94 L381.58,151.92 L381.30,152.89 L381.01,153.85 L380.69,154.81 L380.35,155.76 L379.99,156.69 L379.60,157.61 L379.18,158.52 L378.73,159.40 L378.25,160.26 L377.74,161.09 L377.18,161.90 L376.59,162.67 L375.96,163.41 L375.29,164.10 L374.57,164.77 L373.82,165.39 L373.04,165.99 L372.23,166.56 L371.40,167.11 L370.54,167.63 L369.68,168.14 L368.80,168.63 L367.91,169.11 L367.01,169.57 L366.10,170.02 L365.19,170.45 L364.27,170.87 L363.34,171.28 L362.40,171.67 L361.46,172.05 L360.52,172.41 L359.57,172.75 L358.62,173.09 L357.66,173.40 L356.70,173.71 L355.73,174.00 L354.77,174.29 L353.80,174.56 L352.83,174.82 L351.85,175.07 L350.88,175.31 L349.90,175.55 L348.92,175.78 L347.94,175.99 L346.96,176.21 L345.97,176.41 L344.99,176.61 L344.00,176.80 L343.01,176.98 L342.02,177.16 L341.03,177.33 L340.04,177.50 L339.05,177.65 L338.06,177.81 L337.07,177.96 L336.07,178.10 L335.08,178.24 L334.08,178.37 L333.09,178.49 L332.09,178.62 L331.09,178.73 L330.10,178.85 L329.10,178.96 L328.10,179.06 L327.10,179.16 L326.10,179.26 L325.10,179.35 L324.10,179.44 L323.10,179.53 L322.09,179.61 L321.09,179.69 L320.09,179.77 L319.09,179.84 L318.09,179.91 L317.08,179.98 L316.08,180.05 L315.08,180.11 L314.07,180.17 L313.07,180.23 L312.06,180.29 L311.06,180.35 L310.06,180.41 L309.05,180.46 L308.05,180.51 L307.05,180.57 L306.04,180.62 L305.04,180.67 L304.03,180.72 L303.03,180.76 L302.03,180.81 L301.02,180.86 L300.02,180.90 L299.02,180.94 L298.01,180.99 L297.01,181.03 L296.00,181.07 L295.00,181.11 L294.00,181.14 L292.99,181.18 L291.99,181.22 L290.99,181.25 L289.98,181.29 L288.98,181.32 L287.97,181.35 L286.97,181.39 L285.97,181.42 L284.96,181.45 L283.96,181.47 L282.96,181.50 L281.95,181.53 L280.95,181.56 L279.94,181.58 L278.94,181.61 L277.94,181.63 L276.93,181.65 L275.93,181.68 L274.93,181.70 L273.92,181.72 L272.92,181.74 L271.91,181.76 L270.91,181.78 L269.91,181.80 L268.90,181.81 L267.90,181.83 L266.89,181.85 L265.89,181.86 L264.89,181.88 L263.88,181.89 L262.88,181.91 L261.88,181.92 L260.87,181.93 L259.87,181.95 L258.86,181.96 L257.86,181.97 L256.86,181.98 L255.85,181.99 L254.85,182.00 L253.84,182.01 L252.84,182.02 L251.84,182.03 L250.83,182.04 L249.83,182.04 L248.82,182.05 L247.82,182.06 L246.81,182.07 L245.81,182.07 L244.81,182.08 L243.80,182.09 L242.80,182.09 L241.79,182.10 L240.79,182.10 L239.79,182.11 L238.78,182.12 L237.78,182.12 L236.77,182.13 L235.77,182.13 L234.76,182.14 L233.76,182.14 L232.76,182.15 L231.75,182.16 L230.75,182.16 L229.74,182.17 L228.74,182.17 L227.73,182.18 L226.73,182.19 L225.73,182.19 L224.72,182.20 L223.72,182.21 L222.71,182.21 L221.71,182.22 L220.71,182.23 L219.70,182.24 L218.70,182.25 L217.69,182.25 L216.69,182.26 L215.68,182.27 L214.68,182.28 L213.68,182.30 L212.67,182.31 L211.67,182.32 L210.66,182.33 L209.66,182.34 L208.66,182.36 L207.65,182.37 L206.65,182.39 L205.64,182.40 L204.64,182.42 L203.63,182.44 L202.63,182.45 L201.63,182.47 L200.62,182.49 L199.62,182.51 L198.62,182.53 L197.61,182.55 L196.61,182.58 L195.60,182.60 L194.60,182.62 L193.60,182.65 L192.59,182.67 L191.59,182.70 L190.58,182.72 L189.58,182.75 L188.58,182.78 L187.57,182.80 L186.57,182.83 L185.56,182.86 L184.56,182.89 L183.56,182.91 L182.55,182.94 L181.55,182.97 L180.55,183.00 L179.54,183.02 L178.54,183.05 L177.53,183.08 L176.53,183.11 L175.53,183.13 L174.52,183.16 L173.52,183.19 L172.52,183.21 L171.51,183.24 L170.51,183.26 L169.50,183.29 L168.50,183.31 L167.50,183.34 L166.49,183.36 L165.49,183.38 L164.48,183.40 L163.48,183.43 L162.48,183.45 L161.47,183.47 L160.47,183.48 L159.46,183.50 L158.46,183.52 L157.45,183.53 L156.45,183.55 L155.45,183.56 L154.44,183.58 L153.44,183.59 L152.43,183.60 L151.43,183.62 L150.42,183.63 L149.42,183.64 L148.42,183.65 L147.41,183.67 L146.41,183.68 L145.40,183.69 L144.40,183.71 L143.40,183.72 L142.39,183.73 L141.39,183.75 L140.38,183.77 L139.38,183.78 L138.37,183.80 L137.37,183.82 L136.37,183.84 L135.36,183.86 L134.36,183.88 L133.36,183.91 L132.35,183.93 L131.35,183.96 L130.34,183.99 L129.34,184.02 L128.34,184.05 L127.33,184.09 L126.33,184.13 L125.33,184.16 L124.32,184.21 L123.32,184.25 L122.32,184.30 L121.31,184.34 L120.31,184.39 L119.31,184.44 L118.31,184.50 L117.30,184.55 L116.30,184.60" fill="none" stroke="#0E960E" stroke-width="2.0" stroke-linejoin="round" stroke-linecap="round"/>
<path d="M116.70,195.50 L116.79,194.50 L116.88,193.50 L116.96,192.49 L117.05,191.49 L117.13,190.49 L117.21,189.48 L117.29,188.48 L117.37,187.47 L117.44,186.47 L117.52,185.46 L117.59,184.46 L117.67,183.45 L117.75,182.44 L117.83,181.44 L117.92,180.43 L118.00,179.42 L118.10,178.42 L118.20,177.41 L118.31,176.40 L118.42,175.39 L118.54,174.39 L118.67,173.38 L118.82,172.38 L118.98,171.37 L119.15,170.37 L119.33,169.38 L119.54,168.38 L119.76,167.39 L120.00,166.41 L120.27,165.44 L120.56,164.47 L120.87,163.51 L121.21,162.57 L121.58,161.64 L121.98,160.72 L122.42,159.82 L122.88,158.94 L123.38,158.09 L123.92,157.25 L124.48,156.45 L125.09,155.67 L125.72,154.92 L126.40,154.20 L127.10,153.52 L127.84,152.87 L128.61,152.25 L129.40,151.67 L130.23,151.12 L131.08,150.61 L131.95,150.13 L132.84,149.69 L133.75,149.28 L134.67,148.90 L135.61,148.54 L136.57,148.21 L137.53,147.91 L138.50,147.63 L139.47,147.36 L140.45,147.12 L141.44,146.90 L142.44,146.70 L143.43,146.51 L144.43,146.34 L145.43,146.19 L146.44,146.05 L147.44,145.92 L148.45,145.81 L149.45,145.70 L150.46,145.61 L151.47,145.53 L152.48,145.46 L153.49,145.39 L154.50,145.34 L155.51,145.29 L156.52,145.24 L157.53,145.20 L158.54,145.16 L159.55,145.13 L160.56,145.09 L161.57,145.06 L162.58,145.03 L163.59,145.00 L164.60,144.97 L165.61,144.95 L166.62,144.92 L167.63,144.89 L168.64,144.87 L169.64,144.85 L170.65,144.82 L171.66,144.80 L172.67,144.78 L173.67,144.76 L174.68,144.74 L175.69,144.72 L176.69,144.70 L177.70,144.69 L178.71,144.67 L179.71,144.65 L180.72,144.64 L181.73,144.62 L182.73,144.61 L183.74,144.59 L184.74,144.58 L185.75,144.57 L186.75,144.55 L187.76,144.54 L188.76,144.53 L189.77,144.52 L190.77,144.50 L191.78,144.49 L192.78,144.48 L193.79,144.47 L194.79,144.46 L195.80,144.44 L196.80,144.43 L197.81,144.42 L198.82,144.41 L199.82,144.40 L200.83,144.38 L201.83,144.37 L202.84,144.36 L203.84,144.35 L204.85,144.33 L205.85,144.32 L206.86,144.31 L207.86,144.29 L208.87,144.28 L209.87,144.27 L210.88,144.25 L211.89,144.24 L212.89,144.23 L213.90,144.22 L214.90,144.20 L215.91,144.19 L216.92,144.18 L217.92,144.17 L218.93,144.15 L219.93,144.14 L220.94,144.13 L221.95,144.12 L222.95,144.11 L223.96,144.10 L224.96,144.09 L225.97,144.08 L226.98,144.07 L227.98,144.06 L228.99,144.05 L230.00,144.04 L231.00,144.03 L232.01,144.03 L233.02,144.02 L234.03,144.01 L235.03,144.01 L236.04,144.00 L237.05,144.00 L238.05,143.99 L239.06,143.99 L240.07,143.99 L241.08,143.99 L242.08,143.99 L243.09,143.99 L244.10,143.99 L245.10,143.99 L246.11,143.99 L247.12,143.99 L248.13,144.00 L249.14,144.00 L250.14,144.01 L251.15,144.02 L252.16,144.02 L253.17,144.03 L254.18,144.04 L255.18,144.05 L256.19,144.06 L257.20,144.07 L258.21,144.08 L259.22,144.10 L260.22,144.11 L261.23,144.12 L262.24,144.13 L263.25,144.15 L264.26,144.16 L265.27,144.17 L266.27,144.18 L267.28,144.20 L268.29,144.21 L269.30,144.22 L270.31,144.23 L271.31,144.25 L272.32,144.26 L273.33,144.27 L274.34,144.28 L275.35,144.29 L276.36,144.29 L277.36,144.30 L278.37,144.31 L279.38,144.31 L280.39,144.32 L281.39,144.32 L282.40,144.33 L283.41,144.33 L284.42,144.33 L285.42,144.33 L286.43,144.32 L287.44,144.32 L288.44,144.31 L289.45,144.31 L290.46,144.30 L291.47,144.29 L292.47,144.28 L293.48,144.26 L294.48,144.25 L295.49,144.23 L296.50,144.21 L297.50,144.18 L298.51,144.16 L299.51,144.13 L300.52,144.10 L301.52,144.07 L302.53,144.04 L303.53,144.00 L304.54,143.96 L305.54,143.92 L306.55,143.88 L307.55,143.83 L308.56,143.78 L309.56,143.73 L310.56,143.67 L311.57,143.61 L312.57,143.55 L313.57,143.48 L314.58,143.42 L315.58,143.34 L316.58,143.27 L317.58,143.19 L318.58,143.11 L319.59,143.02 L320.59,142.93 L321.59,142.84 L322.59,142.74 L323.59,142.64 L324.59,142.54 L325.59,142.43 L326.59,142.32 L327.59,142.21 L328.59,142.09 L329.59,141.97 L330.59,141.85 L331.59,141.73 L332.59,141.60 L333.58,141.47 L334.58,141.34 L335.58,141.21 L336.58,141.07 L337.58,140.93 L338.57,140.79 L339.57,140.65 L340.57,140.51 L341.57,140.36 L342.56,140.22 L343.56,140.07 L344.56,139.92 L345.55,139.77 L346.55,139.61 L347.54,139.46 L348.54,139.31 L349.54,139.15 L350.53,139.00 L351.53,138.84 L352.52,138.68 L353.52,138.52 L354.51,138.36 L355.51,138.19 L356.50,138.02 L357.49,137.84 L358.48,137.66 L359.47,137.46 L360.45,137.27 L361.44,137.06 L362.42,136.85 L363.40,136.62 L364.37,136.39 L365.35,136.14 L366.32,135.89 L367.29,135.62 L368.26,135.35 L369.22,135.07 L370.18,134.77 L371.14,134.47 L372.10,134.16 L373.05,133.84 L374.00,133.52 L374.95,133.18 L375.90,132.84 L376.84,132.49 L377.78,132.13 L378.72,131.77 L379.66,131.40 L380.60,131.03 L381.53,130.65 L382.47,130.28 L383.40,129.90 M383.40,129.90 L383.38,130.91 L383.35,131.91 L383.32,132.92 L383.29,133.92 L383.25,134.92 L383.20,135.93 L383.14,136.93 L383.07,137.92 L382.98,138.92 L382.88,139.91 L382.76,140.90 L382.63,141.89 L382.47,142.88 L382.30,143.86 L382.10,144.83 L381.89,145.81 L381.65,146.78 L381.40,147.74 L381.13,148.71 L380.84,149.67 L380.55,150.63 L380.25,151.59 L379.94,152.55 L379.62,153.51 L379.29,154.46 L378.94,155.41 L378.59,156.36 L378.23,157.30 L377.85,158.23 L377.46,159.16 L377.06,160.08 L376.65,161.00 L376.21,161.90 L375.76,162.79 L375.29,163.67 L374.79,164.53 L374.27,165.37 L373.73,166.20 L373.15,167.00 L372.55,167.78 L371.92,168.54 L371.26,169.28 L370.58,169.99 L369.87,170.69 L369.14,171.37 L368.39,172.03 L367.63,172.67 L366.85,173.30 L366.05,173.91 L365.24,174.50 L364.42,175.07 L363.58,175.63 L362.73,176.17 L361.87,176.70 L361.00,177.21 L360.12,177.70 L359.24,178.18 L358.34,178.64 L357.44,179.08 L356.52,179.51 L355.61,179.92 L354.68,180.31 L353.75,180.68 L352.81,181.04 L351.86,181.38 L350.91,181.69 L349.95,181.99 L348.99,182.27 L348.02,182.54 L347.05,182.78 L346.07,183.01 L345.09,183.23 L344.11,183.44 L343.12,183.63 L342.14,183.81 L341.15,183.99 L340.15,184.15 L339.16,184.31 L338.17,184.47 L337.17,184.61 L336.18,184.75 L335.18,184.89 L334.18,185.02 L333.19,185.15 L332.19,185.27 L331.19,185.39 L330.19,185.51 L329.19,185.62 L328.19,185.73 L327.20,185.84 L326.20,185.95 L325.20,186.06 L324.20,186.17 L323.20,186.27 L322.20,186.38 L321.20,186.49 L320.20,186.59 L319.20,186.69 L318.21,186.80 L317.21,186.90 L316.21,187.00 L315.21,187.10 L314.21,187.19 L313.21,187.29 L312.21,187.39 L311.21,187.48 L310.21,187.57 L309.21,187.66 L308.22,187.75 L307.22,187.84 L306.22,187.93 L305.22,188.01 L304.22,188.09 L303.22,188.17 L302.22,188.25 L301.21,188.33 L300.21,188.41 L299.21,188.49 L298.21,188.56 L297.21,188.63 L296.21,188.71 L295.21,188.78 L294.21,188.84 L293.21,188.91 L292.21,188.98 L291.20,189.04 L290.20,189.11 L289.20,189.17 L288.20,189.23 L287.20,189.29 L286.19,189.35 L285.19,189.41 L284.19,189.46 L283.19,189.52 L282.19,189.57 L281.18,189.62 L280.18,189.68 L279.18,189.73 L278.18,189.78 L277.17,189.83 L276.17,189.87 L275.17,189.92 L274.16,189.97 L273.16,190.01 L272.16,190.05 L271.16,190.10 L270.15,190.14 L269.15,190.18 L268.15,190.22 L267.14,190.26 L266.14,190.29 L265.14,190.33 L264.13,190.37 L263.13,190.40 L262.13,190.44 L261.12,190.47 L260.12,190.51 L259.12,190.54 L258.11,190.57 L257.11,190.60 L256.11,190.63 L255.10,190.66 L254.10,190.69 L253.10,190.72 L252.09,190.74 L251.09,190.77 L250.08,190.80 L249.08,190.82 L248.08,190.85 L247.07,190.87 L246.07,190.90 L245.07,190.92 L244.06,190.94 L243.06,190.97 L242.06,190.99 L241.05,191.01 L240.05,191.03 L239.05,191.05 L238.04,191.07 L237.04,191.09 L236.04,191.11 L235.03,191.13 L234.03,191.15 L233.02,191.17 L232.02,191.19 L231.02,191.21 L230.01,191.23 L229.01,191.24 L228.01,191.26 L227.00,191.28 L226.00,191.30 L225.00,191.32 L223.99,191.33 L222.99,191.35 L221.99,191.37 L220.98,191.39 L219.98,191.41 L218.98,191.42 L217.97,191.44 L216.97,191.46 L215.97,191.48 L214.96,191.50 L213.96,191.51 L212.96,191.53 L211.95,191.55 L210.95,191.57 L209.95,191.59 L208.94,191.61 L207.94,191.63 L206.94,191.65 L205.93,191.67 L204.93,191.69 L203.93,191.71 L202.92,191.74 L201.92,191.76 L200.92,191.78 L199.91,191.80 L198.91,191.83 L197.91,191.85 L196.90,191.88 L195.90,191.90 L194.90,191.93 L193.89,191.95 L192.89,191.98 L191.89,192.01 L190.88,192.04 L189.88,192.06 L188.88,192.09 L187.87,192.12 L186.87,192.15 L185.87,192.18 L184.86,192.21 L183.86,192.24 L182.86,192.27 L181.85,192.31 L180.85,192.34 L179.85,192.37 L178.85,192.40 L177.84,192.44 L176.84,192.47 L175.84,192.51 L174.83,192.54 L173.83,192.58 L172.83,192.61 L171.82,192.65 L170.82,192.69 L169.82,192.72 L168.82,192.76 L167.81,192.80 L166.81,192.84 L165.81,192.87 L164.80,192.91 L163.80,192.95 L162.80,192.99 L161.79,193.03 L160.79,193.07 L159.79,193.11 L158.79,193.16 L157.78,193.20 L156.78,193.24 L155.78,193.28 L154.77,193.33 L153.77,193.37 L152.77,193.41 L151.77,193.46 L150.76,193.50 L149.76,193.55 L148.76,193.60 L147.76,193.64 L146.75,193.69 L145.75,193.74 L144.75,193.79 L143.75,193.84 L142.74,193.89 L141.74,193.94 L140.74,193.99 L139.74,194.05 L138.73,194.10 L137.73,194.15 L136.73,194.21 L135.73,194.26 L134.73,194.32 L133.72,194.38 L132.72,194.44 L131.72,194.50 L130.72,194.56 L129.72,194.62 L128.72,194.68 L127.71,194.75 L126.71,194.81 L125.71,194.88 L124.71,194.94 L123.71,195.01 L122.71,195.08 L121.71,195.15 L120.70,195.22 L119.70,195.29 L118.70,195.36 L117.70,195.43 L116.70,195.50" fill="none" stroke="#FF00FF" stroke-width="2.0" stroke-linejoin="round" stroke-linecap="round"/>
<path d="M116.70,223.20 L116.72,222.19 L116.74,221.19 L116.76,220.18 L116.79,219.18 L116.81,218.17 L116.84,217.17 L116.87,216.16 L116.90,215.16 L116.93,214.16 L116.97,213.15 L117.01,212.15 L117.06,211.15 L117.11,210.15 L117.16,209.14 L117.23,208.14 L117.29,207.14 L117.36,206.14 L117.44,205.14 L117.53,204.14 L117.62,203.15 L117.73,202.15 L117.83,201.15 L117.95,200.16 L118.07,199.16 L118.20,198.17 L118.34,197.18 L118.47,196.18 L118.61,195.19 L118.76,194.20 L118.90,193.20 L119.04,192.21 L119.19,191.22 L119.33,190.22 L119.46,189.23 L119.60,188.24 L119.73,187.24 L119.87,186.25 L120.00,185.25 L120.13,184.26 L120.27,183.26 L120.41,182.27 L120.55,181.27 L120.69,180.28 L120.84,179.29 L120.99,178.29 L121.15,177.30 L121.31,176.31 L121.48,175.32 L121.65,174.33 L121.83,173.34 L122.02,172.36 L122.22,171.37 L122.42,170.39 L122.63,169.40 L122.85,168.42 L123.07,167.44 L123.31,166.47 L123.55,165.49 L123.80,164.52 L124.06,163.54 L124.33,162.58 L124.62,161.61 L124.91,160.64 L125.21,159.68 L125.51,158.72 L125.83,157.76 L126.16,156.81 L126.50,155.86 L126.85,154.91 L127.21,153.96 L127.57,153.02 L127.95,152.09 L128.34,151.15 L128.74,150.23 L129.15,149.30 L129.58,148.39 L130.01,147.48 L130.46,146.58 L130.92,145.68 L131.40,144.80 L131.89,143.92 L132.40,143.06 L132.93,142.21 L133.48,141.38 L134.05,140.56 L134.64,139.76 L135.25,138.98 L135.89,138.21 L136.54,137.46 L137.22,136.73 L137.91,136.02 L138.63,135.33 L139.36,134.65 L140.11,134.00 L140.87,133.37 L141.66,132.76 L142.46,132.17 L143.27,131.60 L144.10,131.06 L144.95,130.54 L145.81,130.05 L146.69,129.59 L147.58,129.15 L148.48,128.74 L149.40,128.35 L150.33,127.98 L151.26,127.64 L152.21,127.32 L153.16,127.02 L154.13,126.74 L155.10,126.48 L156.07,126.23 L157.05,126.01 L158.04,125.80 L159.02,125.61 L160.02,125.43 L161.01,125.26 L162.01,125.10 L163.01,124.96 L164.01,124.83 L165.01,124.70 L166.02,124.59 L167.02,124.48 L168.03,124.38 L169.03,124.28 L170.04,124.20 L171.04,124.11 L172.05,124.04 L173.05,123.96 L174.06,123.89 L175.07,123.83 L176.07,123.77 L177.08,123.71 L178.08,123.65 L179.09,123.60 L180.09,123.55 L181.10,123.51 L182.10,123.46 L183.10,123.42 L184.11,123.38 L185.11,123.34 L186.12,123.31 L187.12,123.27 L188.13,123.24 L189.13,123.20 L190.13,123.17 L191.14,123.14 L192.14,123.11 L193.15,123.07 L194.15,123.04 L195.15,123.01 L196.16,122.98 L197.16,122.95 L198.17,122.92 L199.17,122.90 L200.17,122.87 L201.18,122.84 L202.18,122.81 L203.19,122.78 L204.19,122.75 L205.19,122.72 L206.20,122.69 L207.20,122.67 L208.21,122.64 L209.21,122.61 L210.21,122.58 L211.22,122.55 L212.22,122.52 L213.22,122.50 L214.23,122.47 L215.23,122.44 L216.24,122.41 L217.24,122.39 L218.24,122.36 L219.25,122.34 L220.25,122.32 L221.26,122.30 L222.26,122.28 L223.27,122.26 L224.27,122.24 L225.27,122.22 L226.28,122.20 L227.28,122.19 L228.29,122.17 L229.29,122.16 L230.30,122.15 L231.30,122.13 L232.30,122.12 L233.31,122.11 L234.31,122.10 L235.32,122.09 L236.32,122.08 L237.33,122.07 L238.33,122.07 L239.33,122.06 L240.34,122.05 L241.34,122.04 L242.35,122.04 L243.35,122.03 L244.36,122.03 L245.36,122.02 L246.37,122.02 L247.37,122.01 L248.37,122.01 L249.38,122.00 L250.38,122.00 L251.39,121.99 L252.39,121.99 L253.40,121.99 L254.40,121.98 L255.41,121.98 L256.41,121.97 L257.42,121.97 L258.42,121.97 L259.42,121.96 L260.43,121.96 L261.43,121.95 L262.44,121.95 L263.44,121.94 L264.45,121.94 L265.45,121.93 L266.46,121.92 L267.46,121.92 L268.46,121.91 L269.47,121.90 L270.47,121.90 L271.48,121.89 L272.48,121.88 L273.49,121.87 L274.49,121.86 L275.49,121.85 L276.50,121.83 L277.50,121.82 L278.51,121.81 L279.51,121.79 L280.52,121.78 L281.52,121.76 L282.52,121.75 L283.53,121.73 L284.53,121.71 L285.54,121.69 L286.54,121.67 L287.55,121.65 L288.55,121.63 L289.55,121.60 L290.56,121.58 L291.56,121.55 L292.57,121.52 L293.57,121.49 L294.57,121.46 L295.58,121.43 L296.58,121.40 L297.59,121.37 L298.59,121.33 L299.59,121.30 L300.60,121.26 L301.60,121.23 L302.61,121.19 L303.61,121.15 L304.61,121.11 L305.62,121.07 L306.62,121.03 L307.62,120.98 L308.63,120.94 L309.63,120.90 L310.64,120.85 L311.64,120.80 L312.64,120.75 L313.65,120.70 L314.65,120.65 L315.65,120.60 L316.66,120.54 L317.66,120.48 L318.66,120.42 L319.66,120.36 L320.67,120.30 L321.67,120.23 L322.67,120.16 L323.67,120.09 L324.67,120.02 L325.68,119.94 L326.68,119.86 L327.68,119.78 L328.68,119.69 L329.68,119.60 L330.68,119.51 L331.68,119.41 L332.68,119.31 L333.68,119.20 L334.67,119.10 L335.67,118.98 L336.67,118.86 L337.66,118.74 L338.66,118.61 L339.65,118.48 L340.65,118.34 L341.64,118.19 L342.64,118.05 L343.63,117.89 L344.62,117.73 L345.61,117.57 L346.60,117.41 L347.59,117.24 L348.58,117.06 L349.57,116.89 L350.56,116.71 L351.54,116.53 L352.53,116.35 L353.52,116.16 L354.51,115.97 L355.49,115.78 L356.48,115.59 L357.47,115.40 L358.45,115.21 L359.44,115.02 L360.42,114.82 L361.41,114.63 L362.39,114.43 L363.38,114.24 L364.37,114.04 L365.35,113.85 L366.34,113.65 L367.32,113.46 L368.31,113.26 L369.29,113.07 L370.28,112.87 L371.26,112.68 L372.25,112.48 L373.24,112.29 L374.22,112.10 L375.21,111.91 L376.19,111.72 L377.18,111.53 L378.17,111.34 L379.15,111.15 L380.14,110.96 L381.13,110.78 L382.11,110.59 L383.10,110.40 M383.10,110.40 L383.07,111.40 L383.03,112.41 L383.00,113.41 L382.96,114.42 L382.93,115.42 L382.89,116.42 L382.85,117.43 L382.80,118.43 L382.75,119.43 L382.70,120.44 L382.65,121.44 L382.59,122.44 L382.52,123.44 L382.46,124.44 L382.38,125.44 L382.30,126.45 L382.22,127.44 L382.13,128.44 L382.03,129.44 L381.93,130.44 L381.82,131.43 L381.70,132.43 L381.57,133.42 L381.44,134.42 L381.29,135.41 L381.14,136.39 L380.97,137.38 L380.80,138.37 L380.61,139.35 L380.41,140.33 L380.20,141.31 L379.99,142.28 L379.76,143.26 L379.52,144.23 L379.27,145.20 L379.01,146.17 L378.75,147.14 L378.48,148.10 L378.21,149.07 L377.93,150.04 L377.65,151.00 L377.37,151.97 L377.09,152.93 L376.80,153.90 L376.51,154.86 L376.21,155.82 L375.91,156.78 L375.61,157.74 L375.29,158.70 L374.98,159.65 L374.65,160.61 L374.32,161.56 L373.98,162.50 L373.63,163.45 L373.27,164.38 L372.89,165.32 L372.51,166.24 L372.11,167.17 L371.69,168.08 L371.27,168.99 L370.83,169.89 L370.37,170.78 L369.90,171.66 L369.41,172.54 L368.90,173.40 L368.38,174.25 L367.85,175.10 L367.29,175.93 L366.72,176.75 L366.13,177.55 L365.53,178.35 L364.91,179.12 L364.27,179.89 L363.61,180.64 L362.94,181.37 L362.25,182.09 L361.55,182.79 L360.82,183.47 L360.09,184.14 L359.33,184.79 L358.57,185.43 L357.78,186.05 L356.99,186.65 L356.18,187.23 L355.35,187.80 L354.52,188.36 L353.68,188.91 L352.83,189.44 L351.97,189.96 L351.11,190.47 L350.24,190.97 L349.36,191.47 L348.48,191.95 L347.59,192.43 L346.70,192.90 L345.80,193.35 L344.90,193.81 L344.00,194.25 L343.09,194.68 L342.18,195.11 L341.26,195.52 L340.34,195.93 L339.42,196.33 L338.49,196.72 L337.56,197.10 L336.63,197.47 L335.69,197.84 L334.76,198.19 L333.81,198.53 L332.87,198.86 L331.92,199.19 L330.97,199.50 L330.01,199.79 L329.05,200.08 L328.09,200.36 L327.12,200.62 L326.15,200.88 L325.18,201.13 L324.21,201.36 L323.23,201.59 L322.26,201.82 L321.28,202.03 L320.30,202.24 L319.32,202.45 L318.33,202.65 L317.35,202.84 L316.36,203.03 L315.38,203.21 L314.39,203.39 L313.40,203.57 L312.41,203.74 L311.42,203.91 L310.43,204.07 L309.44,204.23 L308.45,204.38 L307.46,204.54 L306.46,204.68 L305.47,204.83 L304.48,204.97 L303.48,205.11 L302.48,205.25 L301.49,205.38 L300.49,205.51 L299.49,205.64 L298.50,205.76 L297.50,205.89 L296.50,206.01 L295.50,206.13 L294.50,206.25 L293.51,206.36 L292.51,206.48 L291.51,206.59 L290.51,206.70 L289.51,206.82 L288.51,206.93 L287.51,207.04 L286.52,207.14 L285.52,207.25 L284.52,207.36 L283.52,207.46 L282.52,207.57 L281.52,207.67 L280.52,207.78 L279.52,207.88 L278.53,207.98 L277.53,208.08 L276.53,208.18 L275.53,208.28 L274.53,208.38 L273.53,208.47 L272.53,208.57 L271.53,208.67 L270.54,208.76 L269.54,208.85 L268.54,208.95 L267.54,209.04 L266.54,209.13 L265.54,209.22 L264.54,209.31 L263.54,209.40 L262.54,209.49 L261.54,209.58 L260.54,209.67 L259.54,209.76 L258.55,209.84 L257.55,209.93 L256.55,210.01 L255.55,210.10 L254.55,210.18 L253.55,210.26 L252.55,210.35 L251.55,210.43 L250.55,210.51 L249.55,210.59 L248.55,210.68 L247.55,210.76 L246.55,210.84 L245.55,210.92 L244.55,211.00 L243.55,211.08 L242.55,211.16 L241.55,211.25 L240.55,211.33 L239.55,211.41 L238.55,211.49 L237.55,211.58 L236.55,211.66 L235.55,211.74 L234.55,211.83 L233.55,211.91 L232.55,212.00 L231.55,212.09 L230.55,212.18 L229.55,212.26 L228.55,212.35 L227.55,212.44 L226.55,212.53 L225.55,212.63 L224.55,212.72 L223.55,212.82 L222.55,212.91 L221.55,213.01 L220.56,213.11 L219.56,213.21 L218.56,213.31 L217.56,213.41 L216.56,213.51 L215.56,213.61 L214.57,213.71 L213.57,213.82 L212.57,213.92 L211.57,214.03 L210.57,214.13 L209.57,214.23 L208.58,214.34 L207.58,214.44 L206.58,214.55 L205.58,214.65 L204.58,214.75 L203.59,214.85 L202.59,214.96 L201.59,215.06 L200.59,215.16 L199.59,215.26 L198.59,215.36 L197.59,215.45 L196.60,215.55 L195.60,215.64 L194.60,215.74 L193.60,215.83 L192.60,215.92 L191.60,216.01 L190.60,216.10 L189.60,216.18 L188.60,216.27 L187.60,216.35 L186.60,216.43 L185.60,216.51 L184.60,216.58 L183.60,216.66 L182.60,216.74 L181.60,216.81 L180.60,216.89 L179.60,216.96 L178.60,217.04 L177.59,217.11 L176.59,217.19 L175.59,217.26 L174.59,217.34 L173.59,217.41 L172.59,217.49 L171.59,217.57 L170.59,217.65 L169.59,217.73 L168.59,217.81 L167.59,217.89 L166.59,217.98 L165.59,218.07 L164.59,218.15 L163.59,218.25 L162.59,218.34 L161.60,218.44 L160.60,218.54 L159.60,218.64 L158.60,218.75 L157.61,218.86 L156.61,218.97 L155.61,219.08 L154.61,219.19 L153.62,219.31 L152.62,219.43 L151.63,219.55 L150.63,219.67 L149.63,219.79 L148.64,219.91 L147.64,220.04 L146.65,220.16 L145.65,220.28 L144.65,220.41 L143.66,220.53 L142.66,220.65 L141.67,220.77 L140.67,220.89 L139.67,221.01 L138.68,221.12 L137.68,221.24 L136.68,221.35 L135.69,221.46 L134.69,221.57 L133.69,221.67 L132.69,221.78 L131.69,221.88 L130.69,221.98 L129.70,222.07 L128.70,222.17 L127.70,222.26 L126.70,222.35 L125.70,222.44 L124.70,222.53 L123.70,222.61 L122.70,222.70 L121.70,222.78 L120.70,222.87 L119.70,222.95 L118.70,223.03 L117.70,223.12 L116.70,223.20" fill="none" stroke="#FF8000" stroke-width="2.0" stroke-linejoin="round" stroke-linecap="round"/>
<path d="M116.70,271.20 L116.78,270.20 L116.86,269.20 L116.94,268.20 L117.02,267.20 L117.10,266.20 L117.18,265.20 L117.26,264.20 L117.34,263.20 L117.42,262.20 L117.50,261.20 L117.58,260.20 L117.66,259.21 L117.74,258.21 L117.82,257.21 L117.90,256.21 L117.99,255.21 L118.07,254.21 L118.15,253.21 L118.23,252.21 L118.31,251.21 L118.40,250.21 L118.48,249.21 L118.56,248.21 L118.64,247.21 L118.73,246.21 L118.81,245.21 L118.90,244.21 L118.98,243.22 L119.07,242.22 L119.16,241.22 L119.24,240.22 L119.33,239.22 L119.42,238.22 L119.51,237.22 L119.61,236.22 L119.70,235.23 L119.80,234.23 L119.89,233.23 L119.99,232.23 L120.09,231.23 L120.19,230.24 L120.29,229.24 L120.40,228.24 L120.50,227.24 L120.61,226.25 L120.71,225.25 L120.82,224.25 L120.93,223.26 L121.05,222.26 L121.16,221.26 L121.27,220.27 L121.39,219.27 L121.50,218.28 L121.62,217.28 L121.74,216.28 L121.86,215.29 L121.98,214.29 L122.10,213.30 L122.22,212.30 L122.34,211.31 L122.46,210.31 L122.59,209.32 L122.71,208.32 L122.84,207.33 L122.97,206.33 L123.09,205.34 L123.22,204.34 L123.35,203.35 L123.48,202.35 L123.61,201.36 L123.75,200.36 L123.88,199.37 L124.02,198.38 L124.15,197.38 L124.29,196.39 L124.43,195.40 L124.57,194.41 L124.72,193.41 L124.86,192.42 L125.01,191.43 L125.16,190.44 L125.31,189.45 L125.47,188.46 L125.62,187.47 L125.78,186.48 L125.94,185.49 L126.10,184.50 L126.27,183.51 L126.43,182.52 L126.60,181.53 L126.77,180.54 L126.94,179.55 L127.12,178.57 L127.30,177.58 L127.47,176.59 L127.65,175.60 L127.84,174.62 L128.02,173.63 L128.21,172.65 L128.40,171.66 L128.59,170.68 L128.78,169.69 L128.97,168.71 L129.17,167.73 L129.37,166.74 L129.57,165.76 L129.77,164.78 L129.97,163.80 L130.18,162.81 L130.39,161.83 L130.60,160.85 L130.81,159.87 L131.02,158.89 L131.24,157.91 L131.46,156.93 L131.69,155.96 L131.92,154.98 L132.15,154.01 L132.39,153.03 L132.63,152.06 L132.88,151.09 L133.13,150.12 L133.38,149.15 L133.65,148.18 L133.92,147.21 L134.19,146.25 L134.47,145.29 L134.75,144.32 L135.04,143.36 L135.34,142.40 L135.64,141.45 L135.95,140.49 L136.26,139.54 L136.58,138.59 L136.91,137.64 L137.24,136.69 L137.57,135.74 L137.91,134.79 L138.26,133.85 L138.61,132.91 L138.97,131.97 L139.33,131.03 L139.70,130.10 L140.07,129.17 L140.45,128.24 L140.83,127.31 L141.23,126.38 L141.63,125.46 L142.04,124.55 L142.45,123.64 L142.88,122.73 L143.32,121.83 L143.77,120.94 L144.23,120.05 L144.71,119.17 L145.20,118.29 L145.70,117.43 L146.21,116.57 L146.74,115.72 L147.28,114.88 L147.84,114.05 L148.40,113.22 L148.98,112.41 L149.58,111.60 L150.18,110.80 L150.80,110.01 L151.43,109.23 L152.07,108.46 L152.72,107.70 L153.39,106.95 L154.06,106.21 L154.75,105.48 L155.44,104.76 L156.15,104.05 L156.87,103.35 L157.60,102.66 L158.34,101.99 L159.10,101.33 L159.86,100.68 L160.63,100.04 L161.42,99.42 L162.22,98.82 L163.02,98.23 L163.84,97.65 L164.67,97.08 L165.51,96.53 L166.35,95.99 L167.21,95.47 L168.07,94.96 L168.94,94.46 L169.82,93.98 L170.71,93.51 L171.60,93.06 L172.50,92.62 L173.41,92.19 L174.32,91.78 L175.24,91.38 L176.16,90.99 L177.09,90.61 L178.03,90.25 L178.97,89.91 L179.92,89.57 L180.87,89.25 L181.82,88.95 L182.78,88.65 L183.74,88.37 L184.71,88.11 L185.68,87.85 L186.65,87.61 L187.63,87.37 L188.61,87.15 L189.59,86.94 L190.57,86.75 L191.55,86.56 L192.54,86.38 L193.53,86.21 L194.52,86.05 L195.51,85.90 L196.51,85.76 L197.50,85.62 L198.50,85.50 L199.49,85.38 L200.49,85.26 L201.49,85.16 L202.49,85.05 L203.49,84.96 L204.49,84.87 L205.49,84.78 L206.49,84.70 L207.49,84.62 L208.49,84.54 L209.49,84.47 L210.49,84.40 L211.49,84.34 L212.49,84.27 L213.49,84.21 L214.49,84.15 L215.50,84.09 L216.50,84.04 L217.50,83.98 L218.50,83.93 L219.50,83.87 L220.51,83.82 L221.51,83.77 L222.51,83.72 L223.51,83.67 L224.51,83.62 L225.52,83.57 L226.52,83.52 L227.52,83.47 L228.52,83.42 L229.52,83.37 L230.52,83.33 L231.53,83.28 L232.53,83.24 L233.53,83.19 L234.53,83.15 L235.53,83.11 L236.54,83.07 L237.54,83.03 L238.54,82.99 L239.54,82.95 L240.54,82.91 L241.55,82.88 L242.55,82.84 L243.55,82.81 L244.55,82.77 L245.55,82.74 L246.56,82.71 L247.56,82.68 L248.56,82.65 L249.56,82.63 L250.56,82.60 L251.57,82.58 L252.57,82.55 L253.57,82.53 L254.57,82.51 L255.58,82.49 L256.58,82.47 L257.58,82.46 L258.58,82.44 L259.59,82.42 L260.59,82.41 L261.59,82.39 L262.59,82.38 L263.60,82.37 L264.60,82.36 L265.60,82.34 L266.60,82.33 L267.61,82.32 L268.61,82.31 L269.61,82.30 L270.62,82.29 L271.62,82.28 L272.62,82.27 L273.62,82.26 L274.63,82.25 L275.63,82.24 L276.63,82.23 L277.63,82.22 L278.64,82.21 L279.64,82.20 L280.64,82.19 L281.65,82.18 L282.65,82.17 L283.65,82.16 L284.65,82.15 L285.66,82.14 L286.66,82.13 L287.66,82.11 L288.66,82.10 L289.67,82.08 L290.67,82.07 L291.67,82.05 L292.68,82.03 L293.68,82.02 L294.68,82.00 L295.68,81.98 L296.69,81.96 L297.69,81.94 L298.69,81.92 L299.69,81.90 L300.70,81.88 L301.70,81.86 L302.70,81.84 L303.70,81.81 L304.71,81.79 L305.71,81.77 L306.71,81.75 L307.72,81.73 L308.72,81.71 L309.72,81.69 L310.72,81.67 L311.73,81.65 L312.73,81.62 L313.73,81.60 L314.73,81.57 L315.74,81.55 L316.74,81.52 L317.74,81.49 L318.74,81.46 L319.75,81.42 L320.75,81.39 L321.75,81.35 L322.75,81.30 L323.75,81.26 L324.76,81.21 L325.76,81.16 L326.76,81.10 L327.76,81.04 L328.76,80.98 L329.76,80.91 L330.76,80.85 L331.76,80.77 L332.76,80.69 L333.76,80.61 L334.76,80.53 L335.76,80.44 L336.76,80.34 L337.76,80.25 L338.75,80.15 L339.75,80.04 L340.75,79.93 L341.74,79.81 L342.74,79.69 L343.73,79.57 L344.73,79.44 L345.72,79.30 L346.72,79.17 L347.71,79.02 L348.70,78.87 L349.69,78.72 L350.68,78.56 L351.67,78.39 L352.66,78.22 L353.64,78.05 L354.63,77.87 L355.61,77.68 L356.60,77.49 L357.58,77.29 L358.56,77.08 L359.54,76.88 L360.52,76.66 L361.50,76.44 L362.47,76.22 L363.45,75.99 L364.43,75.75 L365.40,75.51 L366.37,75.27 L367.34,75.03 L368.32,74.78 L369.29,74.52 L370.26,74.26 L371.22,74.00 L372.19,73.74 L373.16,73.47 L374.13,73.20 L375.09,72.93 L376.06,72.66 L377.02,72.38 L377.98,72.10 L378.95,71.83 L379.91,71.54 L380.87,71.26 L381.84,70.98 L382.80,70.70 M382.80,70.70 L382.77,71.70 L382.74,72.71 L382.71,73.71 L382.68,74.72 L382.65,75.72 L382.62,76.72 L382.58,77.73 L382.55,78.73 L382.51,79.74 L382.47,80.74 L382.42,81.74 L382.38,82.75 L382.33,83.75 L382.27,84.75 L382.21,85.75 L382.15,86.76 L382.09,87.76 L382.02,88.76 L381.94,89.76 L381.87,90.76 L381.79,91.76 L381.71,92.76 L381.62,93.77 L381.53,94.77 L381.44,95.77 L381.35,96.77 L381.25,97.77 L381.16,98.77 L381.06,99.77 L380.96,100.77 L380.86,101.77 L380.76,102.77 L380.65,103.76 L380.55,104.76 L380.44,105.76 L380.33,106.76 L380.23,107.76 L380.12,108.76 L380.01,109.76 L379.89,110.76 L379.78,111.76 L379.67,112.75 L379.55,113.75 L379.43,114.75 L379.31,115.75 L379.19,116.75 L379.07,117.74 L378.94,118.74 L378.81,119.74 L378.68,120.73 L378.55,121.73 L378.41,122.72 L378.27,123.72 L378.13,124.71 L377.98,125.70 L377.83,126.69 L377.67,127.69 L377.51,128.68 L377.34,129.66 L377.16,130.65 L376.98,131.64 L376.78,132.62 L376.59,133.61 L376.38,134.59 L376.17,135.57 L375.96,136.55 L375.74,137.53 L375.51,138.51 L375.28,139.48 L375.04,140.46 L374.80,141.44 L374.56,142.41 L374.32,143.38 L374.07,144.36 L373.82,145.33 L373.57,146.31 L373.32,147.28 L373.06,148.25 L372.81,149.23 L372.56,150.20 L372.31,151.17 L372.06,152.15 L371.81,153.12 L371.57,154.10 L371.32,155.07 L371.07,156.05 L370.82,157.02 L370.56,157.99 L370.30,158.97 L370.05,159.94 L369.78,160.91 L369.52,161.88 L369.25,162.85 L368.97,163.81 L368.69,164.78 L368.40,165.74 L368.11,166.70 L367.81,167.65 L367.50,168.60 L367.18,169.55 L366.85,170.50 L366.52,171.44 L366.17,172.38 L365.82,173.31 L365.46,174.24 L365.08,175.16 L364.69,176.07 L364.30,176.98 L363.89,177.89 L363.47,178.79 L363.04,179.68 L362.61,180.57 L362.17,181.46 L361.72,182.34 L361.26,183.22 L360.80,184.09 L360.34,184.97 L359.87,185.84 L359.41,186.72 L358.94,187.59 L358.48,188.47 L358.01,189.34 L357.54,190.22 L357.06,191.09 L356.58,191.96 L356.10,192.83 L355.61,193.70 L355.11,194.57 L354.60,195.43 L354.08,196.28 L353.56,197.13 L353.02,197.98 L352.48,198.82 L351.92,199.65 L351.35,200.47 L350.77,201.29 L350.18,202.10 L349.58,202.91 L348.98,203.71 L348.36,204.50 L347.73,205.28 L347.09,206.06 L346.44,206.83 L345.79,207.59 L345.12,208.35 L344.45,209.10 L343.78,209.85 L343.09,210.59 L342.40,211.32 L341.70,212.04 L340.99,212.76 L340.27,213.47 L339.55,214.17 L338.82,214.86 L338.08,215.54 L337.34,216.21 L336.58,216.87 L335.82,217.52 L335.04,218.16 L334.26,218.78 L333.47,219.39 L332.66,219.98 L331.85,220.55 L331.02,221.11 L330.18,221.65 L329.33,222.17 L328.47,222.68 L327.61,223.17 L326.73,223.65 L325.84,224.11 L324.95,224.56 L324.05,224.99 L323.14,225.41 L322.22,225.82 L321.30,226.22 L320.38,226.61 L319.45,226.99 L318.51,227.36 L317.58,227.72 L316.64,228.07 L315.69,228.41 L314.74,228.75 L313.79,229.09 L312.84,229.41 L311.89,229.73 L310.93,230.05 L309.97,230.36 L309.01,230.67 L308.05,230.97 L307.09,231.28 L306.13,231.58 L305.16,231.87 L304.20,232.17 L303.24,232.47 L302.27,232.77 L301.31,233.06 L300.35,233.36 L299.39,233.66 L298.42,233.96 L297.46,234.26 L296.50,234.57 L295.54,234.87 L294.59,235.17 L293.63,235.48 L292.67,235.78 L291.71,236.09 L290.75,236.39 L289.79,236.70 L288.84,237.00 L287.88,237.31 L286.92,237.61 L285.97,237.92 L285.01,238.23 L284.05,238.53 L283.10,238.84 L282.14,239.14 L281.18,239.45 L280.23,239.75 L279.27,240.06 L278.31,240.36 L277.35,240.67 L276.40,240.97 L275.44,241.27 L274.48,241.57 L273.52,241.87 L272.56,242.17 L271.60,242.47 L270.64,242.76 L269.68,243.06 L268.72,243.35 L267.76,243.64 L266.80,243.93 L265.83,244.22 L264.87,244.50 L263.91,244.78 L262.94,245.06 L261.98,245.34 L261.01,245.61 L260.04,245.88 L259.07,246.15 L258.11,246.41 L257.14,246.67 L256.16,246.93 L255.19,247.18 L254.22,247.43 L253.25,247.68 L252.27,247.92 L251.30,248.16 L250.32,248.40 L249.34,248.63 L248.37,248.86 L247.39,249.09 L246.41,249.31 L245.43,249.53 L244.45,249.75 L243.47,249.97 L242.49,250.18 L241.50,250.39 L240.52,250.60 L239.54,250.80 L238.55,251.00 L237.57,251.20 L236.58,251.40 L235.60,251.59 L234.61,251.79 L233.62,251.97 L232.64,252.16 L231.65,252.35 L230.66,252.53 L229.67,252.71 L228.69,252.89 L227.70,253.07 L226.71,253.25 L225.72,253.42 L224.73,253.60 L223.74,253.77 L222.75,253.94 L221.76,254.11 L220.77,254.28 L219.78,254.45 L218.79,254.62 L217.80,254.79 L216.81,254.96 L215.82,255.13 L214.83,255.30 L213.84,255.47 L212.85,255.63 L211.86,255.80 L210.87,255.97 L209.88,256.14 L208.89,256.31 L207.90,256.48 L206.91,256.65 L205.92,256.82 L204.93,256.99 L203.94,257.16 L202.95,257.34 L201.96,257.51 L200.97,257.68 L199.98,257.85 L198.99,258.02 L198.00,258.20 L197.01,258.37 L196.02,258.54 L195.03,258.72 L194.04,258.89 L193.05,259.06 L192.06,259.24 L191.07,259.41 L190.08,259.58 L189.09,259.76 L188.11,259.93 L187.12,260.10 L186.13,260.28 L185.14,260.45 L184.15,260.62 L183.16,260.80 L182.17,260.97 L181.18,261.15 L180.19,261.32 L179.20,261.49 L178.21,261.67 L177.22,261.84 L176.23,262.02 L175.24,262.19 L174.26,262.37 L173.27,262.54 L172.28,262.72 L171.29,262.89 L170.30,263.06 L169.31,263.24 L168.32,263.41 L167.33,263.59 L166.34,263.76 L165.35,263.94 L164.36,264.11 L163.37,264.29 L162.38,264.46 L161.40,264.64 L160.41,264.81 L159.42,264.99 L158.43,265.16 L157.44,265.34 L156.45,265.52 L155.46,265.69 L154.47,265.87 L153.48,266.04 L152.49,266.22 L151.50,266.39 L150.51,266.57 L149.52,266.75 L148.53,266.92 L147.54,267.10 L146.55,267.27 L145.56,267.44 L144.57,267.61 L143.58,267.78 L142.59,267.95 L141.60,268.12 L140.61,268.28 L139.62,268.45 L138.63,268.61 L137.64,268.76 L136.64,268.92 L135.65,269.07 L134.66,269.22 L133.66,269.36 L132.67,269.50 L131.68,269.64 L130.68,269.77 L129.69,269.90 L128.69,270.02 L127.69,270.14 L126.70,270.26 L125.70,270.37 L124.70,270.47 L123.70,270.57 L122.70,270.67 L121.70,270.76 L120.70,270.85 L119.70,270.94 L118.70,271.03 L117.70,271.12 L116.70,271.20" fill="none" stroke="#8000FF" stroke-width="2.0" stroke-linejoin="round" stroke-linecap="round"/>
<path d="M116.71,300.80v-5M175.93,300.80v-5M235.15,300.80v-5M294.36,300.80v-5M353.58,300.80v-5M412.80,300.80v-5M87.10,300.80v-2.8M146.32,300.80v-2.8M205.54,300.80v-2.8M264.76,300.80v-2.8M323.97,300.80v-2.8M383.19,300.80v-2.8M79.70,274.06h5M79.70,238.41h5M79.70,202.75h5M79.70,167.10h5M79.70,131.45h5M79.70,95.79h5M79.70,60.14h5M79.70,291.89h2.8M79.70,256.23h2.8M79.70,220.58h2.8M79.70,184.93h2.8M79.70,149.27h2.8M79.70,113.62h2.8M79.70,77.97h2.8M79.70,42.31h2.8" stroke="#000" stroke-width="1.6" fill="none"/>
<rect x="79.70" y="33.40" width="333.10" height="267.40" fill="none" stroke="#000" stroke-width="1.8"/>
<text x="116.71" y="320.80" font-size="17.5" text-anchor="middle" fill="#000000" font-weight="bold" >0.0</text>
<text x="175.93" y="320.80" font-size="17.5" text-anchor="middle" fill="#000000" font-weight="bold" >0.4</text>
<text x="235.15" y="320.80" font-size="17.5" text-anchor="middle" fill="#000000" font-weight="bold" >0.8</text>
<text x="294.36" y="320.80" font-size="17.5" text-anchor="middle" fill="#000000" font-weight="bold" >1.2</text>
<text x="353.58" y="320.80" font-size="17.5" text-anchor="middle" fill="#000000" font-weight="bold" >1.6</text>
<text x="412.80" y="320.80" font-size="17.5" text-anchor="middle" fill="#000000" font-weight="bold" >2.0</text>
<text x="73.60" y="279.86" font-size="17.5" text-anchor="end" fill="#000000" font-weight="bold" >-12</text>
<text x="73.60" y="244.21" font-size="17.5" text-anchor="end" fill="#000000" font-weight="bold" >-8</text>
<text x="73.60" y="208.55" font-size="17.5" text-anchor="end" fill="#000000" font-weight="bold" >-4</text>
<text x="73.60" y="172.90" font-size="17.5" text-anchor="end" fill="#000000" font-weight="bold" >0</text>
<text x="73.60" y="137.25" font-size="17.5" text-anchor="end" fill="#000000" font-weight="bold" >4</text>
<text x="73.60" y="101.59" font-size="17.5" text-anchor="end" fill="#000000" font-weight="bold" >8</text>
<text x="73.60" y="65.94" font-size="17.5" text-anchor="end" fill="#000000" font-weight="bold" >12</text>
<text x="246.20" y="351.60" font-size="19.5" text-anchor="middle" fill="#000000" font-weight="bold" >Potential / V</text>
<text transform="translate(32.8,252.6) rotate(-90)" font-size="20" font-weight="bold">Current density / A g<tspan font-size="12.5" dy="-8">-1</tspan></text>
<text x="23.60" y="51.70" font-size="44" text-anchor="start" fill="#000000" font-weight="bold" >a</text>
<line x1="94.3" y1="49.1" x2="123.6" y2="49.1" stroke="#000000" stroke-width="1.8"/>
<text x="129.9" y="54.1" font-size="13.5" font-weight="bold">5 mv s<tspan font-size="9" dy="-6">-1</tspan></text>
<line x1="193" y1="49.1" x2="222.3" y2="49.1" stroke="#FF0000" stroke-width="1.8"/>
<text x="228.6" y="54.1" font-size="13.5" font-weight="bold">10 mv s<tspan font-size="9" dy="-6">-1</tspan></text>
<line x1="94.3" y1="67" x2="123.6" y2="67" stroke="#0000FF" stroke-width="1.8"/>
<text x="129.9" y="72" font-size="13.5" font-weight="bold">20 mv s<tspan font-size="9" dy="-6">-1</tspan></text>
<line x1="193" y1="67" x2="222.3" y2="67" stroke="#0E960E" stroke-width="1.8"/>
<text x="228.6" y="72" font-size="13.5" font-weight="bold">30 mv s<tspan font-size="9" dy="-6">-1</tspan></text>
<line x1="216" y1="266.4" x2="245.3" y2="266.4" stroke="#FF00FF" stroke-width="1.8"/>
<text x="251.6" y="271.4" font-size="13.5" font-weight="bold">50 mv s<tspan font-size="9" dy="-6">-1</tspan></text>
<line x1="314.2" y1="266.4" x2="343.5" y2="266.4" stroke="#FF8000" stroke-width="1.8"/>
<text x="349.8" y="271.4" font-size="13.5" font-weight="bold">100 mv s<tspan font-size="9" dy="-6">-1</tspan></text>
<line x1="216" y1="284.3" x2="245.3" y2="284.3" stroke="#8000FF" stroke-width="1.8"/>
<text x="251.6" y="289.3" font-size="13.5" font-weight="bold">200 mv s<tspan font-size="9" dy="-6">-1</tspan></text>
<path d="M530.20,280.20 L530.46,279.23 L530.73,278.26 L530.99,277.29 L531.26,276.33 L531.54,275.36 L531.81,274.40 L532.10,273.43 L532.39,272.48 L532.69,271.52 L532.99,270.56 L533.31,269.61 L533.64,268.67 L533.97,267.72 L534.32,266.78 L534.67,265.84 L535.03,264.91 L535.40,263.98 L535.77,263.05 L536.16,262.12 L536.54,261.19 L536.94,260.27 L537.33,259.35 L537.73,258.43 L538.14,257.51 L538.54,256.59 L538.95,255.67 L539.35,254.75 L539.76,253.83 L540.16,252.91 L540.56,251.99 L540.96,251.07 L541.36,250.14 L541.75,249.22 L542.14,248.30 L542.53,247.37 L542.92,246.44 L543.31,245.52 L543.69,244.59 L544.07,243.66 L544.45,242.73 L544.82,241.80 L545.19,240.86 L545.57,239.93 L545.94,239.00 L546.30,238.06 L546.67,237.13 L547.03,236.19 L547.40,235.25 L547.76,234.32 L548.12,233.38 L548.48,232.45 L548.85,231.51 L549.21,230.58 L549.58,229.64 L549.95,228.71 L550.33,227.78 L550.71,226.85 L551.09,225.93 L551.49,225.00 L551.89,224.09 L552.29,223.17 L552.71,222.26 L553.13,221.35 L553.55,220.44 L553.98,219.53 L554.41,218.63 L554.85,217.72 L555.29,216.82 L555.73,215.92 L556.18,215.02 L556.62,214.12 L557.06,213.22 L557.51,212.32 L557.95,211.41 L558.39,210.51 L558.83,209.61 L559.26,208.70 L559.69,207.80 L560.12,206.89 L560.54,205.98 L560.97,205.07 L561.38,204.15 L561.80,203.24 L562.21,202.32 L562.62,201.40 L563.02,200.49 L563.42,199.57 L563.82,198.64 L564.22,197.72 L564.61,196.80 L565.00,195.87 L565.39,194.95 L565.78,194.02 L566.16,193.09 L566.54,192.16 L566.92,191.23 L567.30,190.30 L567.68,189.37 L568.05,188.44 L568.43,187.51 L568.81,186.58 L569.19,185.65 L569.57,184.72 L569.96,183.80 L570.34,182.87 L570.73,181.94 L571.12,181.02 L571.51,180.09 L571.91,179.17 L572.31,178.25 L572.71,177.33 L573.12,176.41 L573.53,175.50 L573.94,174.58 L574.35,173.66 L574.76,172.75 L575.17,171.83 L575.58,170.91 L575.98,170.00 L576.39,169.08 L576.80,168.16 L577.20,167.24 L577.60,166.32 L578.01,165.40 L578.41,164.48 L578.81,163.56 L579.21,162.64 L579.61,161.72 L580.01,160.80 L580.41,159.88 L580.82,158.96 L581.22,158.04 L581.62,157.12 L582.03,156.20 L582.43,155.28 L582.84,154.36 L583.25,153.44 L583.66,152.53 L584.07,151.61 L584.48,150.69 L584.90,149.78 L585.32,148.87 L585.74,147.96 L586.17,147.05 L586.59,146.14 L587.02,145.23 L587.46,144.33 L587.90,143.42 L588.34,142.52 L588.78,141.62 L589.23,140.72 L589.69,139.83 L590.14,138.93 L590.61,138.04 L591.07,137.16 L591.54,136.27 L592.02,135.39 L592.50,134.50 L592.98,133.62 L593.47,132.75 L593.96,131.87 L594.46,131.00 L594.96,130.12 L595.46,129.25 L595.96,128.39 L596.47,127.52 L596.98,126.65 L597.49,125.79 L598.01,124.93 L598.53,124.07 L599.05,123.21 L599.57,122.35 L600.09,121.49 L600.62,120.64 L601.14,119.78 L601.67,118.93 L602.20,118.08 L602.73,117.22 L603.26,116.37 L603.80,115.52 L604.33,114.67 L604.86,113.82 L605.40,112.97 L605.93,112.12 L606.47,111.27 L607.01,110.42 L607.55,109.57 L608.09,108.73 L608.64,107.89 L609.18,107.04 L609.73,106.21 L610.29,105.37 L610.85,104.53 L611.41,103.70 L611.97,102.87 L612.54,102.05 L613.12,101.22 L613.69,100.40 L614.27,99.58 L614.85,98.76 L615.44,97.94 L616.02,97.13 L616.61,96.31 L617.20,95.50 L617.79,94.69 L618.38,93.88 L618.98,93.06 L619.57,92.25 L620.17,91.44 L620.77,90.64 L621.37,89.83 L621.97,89.02 L622.57,88.21 L623.17,87.41 L623.78,86.60 L624.38,85.80 L624.99,84.99 L625.60,84.19 L626.21,83.39 L626.82,82.59 L627.44,81.79 L628.06,81.00 L628.69,80.21 L629.32,79.43 L629.96,78.65 L630.61,77.88 L631.26,77.12 L631.92,76.37 L632.60,75.62 L633.28,74.89 L633.97,74.16 L634.67,73.45 L635.39,72.75 L636.12,72.06 L636.86,71.39 L637.61,70.74 L638.37,70.10 L639.15,69.48 L639.95,68.87 L640.75,68.28 L641.57,67.72 L642.41,67.16 L643.25,66.63 L644.10,66.11 L644.97,65.60 L645.84,65.11 L646.72,64.64 L647.62,64.18 L648.51,63.74 L649.42,63.31 L650.34,62.90 L651.26,62.50 L652.18,62.12 L653.12,61.76 L654.06,61.41 L655.01,61.08 L655.96,60.76 L656.92,60.46 L657.88,60.17 L658.85,59.89 L659.82,59.63 L660.79,59.38 L661.76,59.14 L662.74,58.91 L663.72,58.69 L664.71,58.48 L665.69,58.28 L666.68,58.09 L667.67,57.91 L668.66,57.74 L669.65,57.57 L670.64,57.41 L671.64,57.26 L672.63,57.11 L673.63,56.97 L674.62,56.83 L675.62,56.69 L676.62,56.56 L677.61,56.43 L678.61,56.31 L679.61,56.18 L680.61,56.06 L681.60,55.94 L682.60,55.82 L683.60,55.70 M683.60,55.70 L683.77,56.69 L683.95,57.68 L684.13,58.67 L684.30,59.66 L684.48,60.65 L684.67,61.64 L684.85,62.63 L685.04,63.62 L685.23,64.61 L685.42,65.59 L685.62,66.58 L685.82,67.56 L686.03,68.55 L686.24,69.53 L686.46,70.51 L686.68,71.49 L686.91,72.47 L687.14,73.45 L687.38,74.42 L687.63,75.40 L687.89,76.37 L688.15,77.34 L688.42,78.31 L688.69,79.27 L688.97,80.24 L689.26,81.20 L689.56,82.16 L689.87,83.11 L690.18,84.07 L690.51,85.02 L690.84,85.96 L691.18,86.91 L691.53,87.85 L691.89,88.78 L692.26,89.71 L692.64,90.64 L693.03,91.57 L693.43,92.49 L693.84,93.40 L694.25,94.32 L694.67,95.23 L695.10,96.14 L695.53,97.04 L695.97,97.95 L696.41,98.85 L696.86,99.75 L697.31,100.65 L697.75,101.55 L698.20,102.45 L698.65,103.35 L699.10,104.25 L699.55,105.15 L700.01,106.05 L700.46,106.95 L700.92,107.84 L701.38,108.74 L701.84,109.63 L702.30,110.52 L702.76,111.42 L703.23,112.31 L703.70,113.20 L704.17,114.09 L704.64,114.97 L705.12,115.86 L705.60,116.74 L706.08,117.62 L706.56,118.50 L707.05,119.38 L707.53,120.26 L708.02,121.14 L708.52,122.02 L709.01,122.89 L709.51,123.77 L710.00,124.64 L710.50,125.51 L711.00,126.39 L711.49,127.26 L711.99,128.13 L712.49,129.01 L712.99,129.88 L713.49,130.75 L713.99,131.62 L714.49,132.49 L714.99,133.37 L715.49,134.24 L715.99,135.11 L716.49,135.98 L716.99,136.86 L717.49,137.73 L717.99,138.60 L718.48,139.47 L718.98,140.34 L719.48,141.22 L719.98,142.09 L720.48,142.96 L720.98,143.83 L721.48,144.71 L721.98,145.58 L722.48,146.45 L722.98,147.32 L723.48,148.19 L723.98,149.07 L724.48,149.94 L724.98,150.81 L725.48,151.68 L725.98,152.56 L726.48,153.43 L726.97,154.30 L727.47,155.17 L727.97,156.04 L728.47,156.92 L728.97,157.79 L729.47,158.66 L729.97,159.53 L730.47,160.41 L730.96,161.28 L731.46,162.15 L731.96,163.03 L732.46,163.90 L732.96,164.77 L733.46,165.64 L733.96,166.52 L734.46,167.39 L734.96,168.26 L735.46,169.13 L735.96,170.00 L736.46,170.87 L736.96,171.75 L737.46,172.62 L737.96,173.49 L738.46,174.36 L738.97,175.23 L739.47,176.10 L739.97,176.97 L740.47,177.84 L740.97,178.71 L741.47,179.59 L741.97,180.46 L742.47,181.33 L742.97,182.20 L743.46,183.08 L743.96,183.95 L744.45,184.83 L744.94,185.70 L745.44,186.58 L745.92,187.46 L746.41,188.34 L746.90,189.21 L747.39,190.09 L747.88,190.97 L748.36,191.85 L748.85,192.73 L749.34,193.61 L749.83,194.48 L750.33,195.36 L750.82,196.23 L751.32,197.10 L751.82,197.98 L752.32,198.85 L752.83,199.71 L753.34,200.58 L753.85,201.44 L754.37,202.30 L754.89,203.17 L755.41,204.02 L755.93,204.88 L756.46,205.74 L756.98,206.60 L757.51,207.45 L758.04,208.31 L758.57,209.16 L759.10,210.01 L759.63,210.87 L760.16,211.72 L760.70,212.57 L761.23,213.42 L761.76,214.28 L762.29,215.13 L762.83,215.98 L763.37,216.83 L763.90,217.68 L764.44,218.53 L764.98,219.37 L765.52,220.22 L766.07,221.07 L766.61,221.91 L767.16,222.76 L767.71,223.60 L768.26,224.44 L768.81,225.28 L769.36,226.12 L769.92,226.95 L770.48,227.79 L771.04,228.62 L771.60,229.46 L772.16,230.29 L772.73,231.12 L773.30,231.95 L773.87,232.78 L774.44,233.60 L775.01,234.43 L775.59,235.25 L776.16,236.08 L776.74,236.90 L777.32,237.72 L777.91,238.54 L778.49,239.36 L779.08,240.17 L779.67,240.99 L780.26,241.80 L780.85,242.61 L781.44,243.43 L782.04,244.24 L782.64,245.05 L783.24,245.85 L783.84,246.66 L784.44,247.46 L785.05,248.27 L785.66,249.07 L786.27,249.87 L786.89,250.66 L787.51,251.46 L788.13,252.25 L788.75,253.04 L789.38,253.82 L790.01,254.61 L790.65,255.39 L791.29,256.16 L791.94,256.93 L792.59,257.70 L793.25,258.46 L793.91,259.21 L794.58,259.96 L795.26,260.70 L795.95,261.43 L796.64,262.15 L797.35,262.87 L798.06,263.57 L798.78,264.27 L799.51,264.95 L800.25,265.63 L801.00,266.29 L801.76,266.95 L802.53,267.59 L803.30,268.23 L804.08,268.86 L804.87,269.48 L805.67,270.09 L806.47,270.69 L807.29,271.28 L808.10,271.86 L808.93,272.43 L809.76,273.00 L810.59,273.55 L811.44,274.10 L812.28,274.65 L813.13,275.18 L813.99,275.71 L814.85,276.24 L815.71,276.76 L816.57,277.27 L817.44,277.78 L818.31,278.29 L819.18,278.80 L820.05,279.30 L820.93,279.80 L821.80,280.30" fill="none" stroke="#000000" stroke-width="2.0" stroke-linejoin="round" stroke-linecap="round"/>
<path d="M530.20,280.20 L530.37,279.21 L530.55,278.22 L530.73,277.23 L530.90,276.23 L531.08,275.24 L531.26,274.25 L531.44,273.26 L531.62,272.27 L531.80,271.28 L531.99,270.29 L532.18,269.31 L532.37,268.32 L532.57,267.33 L532.77,266.34 L532.97,265.36 L533.17,264.37 L533.38,263.39 L533.58,262.40 L533.80,261.42 L534.01,260.44 L534.23,259.45 L534.44,258.47 L534.66,257.49 L534.88,256.51 L535.11,255.52 L535.33,254.54 L535.56,253.56 L535.79,252.58 L536.01,251.60 L536.24,250.62 L536.47,249.64 L536.70,248.66 L536.93,247.68 L537.16,246.70 L537.39,245.72 L537.61,244.74 L537.84,243.76 L538.07,242.78 L538.29,241.79 L538.51,240.81 L538.73,239.83 L538.95,238.85 L539.17,237.87 L539.39,236.88 L539.61,235.90 L539.83,234.92 L540.04,233.93 L540.26,232.95 L540.47,231.97 L540.68,230.98 L540.90,230.00 L541.11,229.02 L541.32,228.03 L541.54,227.05 L541.75,226.06 L541.97,225.08 L542.19,224.10 L542.41,223.12 L542.63,222.14 L542.85,221.15 L543.08,220.17 L543.31,219.20 L543.55,218.22 L543.79,217.24 L544.03,216.26 L544.28,215.29 L544.53,214.31 L544.79,213.34 L545.04,212.37 L545.31,211.40 L545.57,210.43 L545.84,209.46 L546.11,208.49 L546.39,207.52 L546.66,206.55 L546.94,205.58 L547.22,204.62 L547.50,203.65 L547.78,202.68 L548.06,201.72 L548.34,200.75 L548.62,199.78 L548.90,198.82 L549.19,197.85 L549.47,196.88 L549.75,195.92 L550.03,194.95 L550.31,193.98 L550.59,193.02 L550.87,192.05 L551.14,191.08 L551.42,190.11 L551.69,189.14 L551.97,188.17 L552.24,187.21 L552.51,186.24 L552.78,185.27 L553.04,184.30 L553.31,183.33 L553.58,182.35 L553.84,181.38 L554.11,180.41 L554.37,179.44 L554.64,178.47 L554.90,177.50 L555.17,176.53 L555.43,175.56 L555.70,174.59 L555.96,173.61 L556.23,172.64 L556.49,171.67 L556.76,170.70 L557.02,169.73 L557.28,168.76 L557.55,167.79 L557.81,166.81 L558.07,165.84 L558.33,164.87 L558.60,163.90 L558.86,162.93 L559.12,161.96 L559.38,160.98 L559.64,160.01 L559.90,159.04 L560.17,158.07 L560.43,157.09 L560.69,156.12 L560.95,155.15 L561.21,154.18 L561.47,153.21 L561.73,152.23 L561.99,151.26 L562.25,150.29 L562.51,149.32 L562.77,148.34 L563.03,147.37 L563.29,146.40 L563.55,145.43 L563.81,144.45 L564.08,143.48 L564.34,142.51 L564.60,141.54 L564.87,140.57 L565.13,139.60 L565.40,138.63 L565.67,137.66 L565.94,136.69 L566.21,135.72 L566.48,134.75 L566.75,133.78 L567.02,132.81 L567.30,131.84 L567.57,130.87 L567.85,129.91 L568.12,128.94 L568.40,127.97 L568.68,127.00 L568.96,126.03 L569.23,125.07 L569.51,124.10 L569.79,123.13 L570.07,122.17 L570.35,121.20 L570.63,120.23 L570.90,119.26 L571.18,118.30 L571.46,117.33 L571.74,116.36 L572.02,115.39 L572.30,114.43 L572.58,113.46 L572.86,112.49 L573.14,111.53 L573.42,110.56 L573.70,109.59 L573.98,108.63 L574.26,107.66 L574.54,106.69 L574.83,105.73 L575.11,104.76 L575.40,103.79 L575.68,102.83 L575.97,101.86 L576.26,100.90 L576.55,99.93 L576.84,98.97 L577.13,98.00 L577.43,97.04 L577.73,96.08 L578.03,95.12 L578.33,94.15 L578.64,93.19 L578.95,92.24 L579.26,91.28 L579.58,90.32 L579.91,89.36 L580.23,88.41 L580.56,87.46 L580.90,86.50 L581.24,85.55 L581.59,84.61 L581.95,83.66 L582.31,82.72 L582.67,81.78 L583.05,80.84 L583.43,79.91 L583.82,78.98 L584.22,78.05 L584.63,77.13 L585.04,76.21 L585.47,75.30 L585.91,74.40 L586.35,73.50 L586.81,72.60 L587.28,71.71 L587.76,70.83 L588.25,69.96 L588.75,69.09 L589.27,68.23 L589.80,67.38 L590.34,66.54 L590.89,65.71 L591.46,64.88 L592.04,64.07 L592.63,63.26 L593.24,62.46 L593.85,61.67 L594.48,60.90 L595.13,60.13 L595.79,59.38 L596.45,58.63 L597.13,57.89 L597.82,57.16 L598.51,56.43 L599.20,55.70 M599.20,55.70 L599.27,56.70 L599.34,57.71 L599.41,58.71 L599.48,59.72 L599.56,60.72 L599.63,61.72 L599.71,62.73 L599.79,63.73 L599.87,64.73 L599.96,65.73 L600.05,66.74 L600.14,67.74 L600.24,68.74 L600.34,69.74 L600.45,70.74 L600.56,71.74 L600.68,72.74 L600.80,73.74 L600.93,74.73 L601.07,75.73 L601.20,76.73 L601.35,77.72 L601.49,78.72 L601.64,79.71 L601.80,80.70 L601.96,81.70 L602.13,82.69 L602.30,83.68 L602.47,84.67 L602.65,85.66 L602.83,86.65 L603.01,87.64 L603.20,88.63 L603.39,89.62 L603.59,90.60 L603.79,91.59 L603.99,92.58 L604.20,93.56 L604.41,94.54 L604.62,95.53 L604.84,96.51 L605.06,97.49 L605.28,98.47 L605.51,99.45 L605.74,100.43 L605.97,101.41 L606.21,102.39 L606.44,103.37 L606.68,104.34 L606.92,105.32 L607.17,106.30 L607.41,107.27 L607.66,108.25 L607.90,109.23 L608.15,110.20 L608.40,111.18 L608.64,112.15 L608.89,113.13 L609.14,114.10 L609.38,115.08 L609.63,116.05 L609.88,117.03 L610.13,118.00 L610.37,118.98 L610.62,119.95 L610.86,120.93 L611.11,121.91 L611.35,122.88 L611.60,123.86 L611.84,124.83 L612.08,125.81 L612.32,126.79 L612.56,127.77 L612.80,128.74 L613.04,129.72 L613.28,130.70 L613.51,131.68 L613.75,132.65 L613.98,133.63 L614.22,134.61 L614.45,135.59 L614.69,136.57 L614.92,137.55 L615.15,138.52 L615.39,139.50 L615.62,140.48 L615.85,141.46 L616.09,142.44 L616.32,143.42 L616.55,144.40 L616.79,145.37 L617.02,146.35 L617.26,147.33 L617.49,148.31 L617.73,149.29 L617.97,150.27 L618.20,151.24 L618.44,152.22 L618.68,153.20 L618.92,154.17 L619.17,155.15 L619.41,156.13 L619.65,157.10 L619.90,158.08 L620.14,159.06 L620.39,160.03 L620.64,161.01 L620.89,161.98 L621.14,162.95 L621.40,163.93 L621.65,164.90 L621.91,165.87 L622.17,166.85 L622.43,167.82 L622.69,168.79 L622.96,169.76 L623.22,170.73 L623.49,171.70 L623.76,172.67 L624.03,173.64 L624.31,174.60 L624.59,175.57 L624.87,176.54 L625.15,177.50 L625.43,178.47 L625.72,179.43 L626.00,180.39 L626.29,181.36 L626.58,182.32 L626.88,183.28 L627.17,184.25 L627.47,185.21 L627.76,186.17 L628.06,187.13 L628.36,188.09 L628.66,189.05 L628.97,190.01 L629.27,190.97 L629.57,191.93 L629.88,192.89 L630.18,193.84 L630.49,194.80 L630.80,195.76 L631.11,196.72 L631.41,197.68 L631.72,198.63 L632.03,199.59 L632.34,200.55 L632.65,201.51 L632.96,202.47 L633.27,203.42 L633.58,204.38 L633.89,205.34 L634.20,206.30 L634.50,207.25 L634.81,208.21 L635.12,209.17 L635.43,210.13 L635.73,211.09 L636.04,212.05 L636.34,213.00 L636.65,213.96 L636.96,214.92 L637.26,215.88 L637.56,216.84 L637.87,217.80 L638.17,218.76 L638.48,219.72 L638.78,220.68 L639.08,221.64 L639.38,222.60 L639.68,223.56 L639.99,224.52 L640.29,225.48 L640.59,226.44 L640.89,227.40 L641.19,228.36 L641.49,229.32 L641.79,230.28 L642.09,231.24 L642.39,232.20 L642.69,233.16 L642.98,234.12 L643.28,235.08 L643.58,236.04 L643.88,237.00 L644.18,237.96 L644.47,238.92 L644.77,239.89 L645.07,240.85 L645.36,241.81 L645.66,242.77 L645.96,243.73 L646.25,244.69 L646.55,245.65 L646.84,246.62 L647.14,247.58 L647.43,248.54 L647.73,249.50 L648.02,250.46 L648.32,251.43 L648.61,252.39 L648.91,253.35 L649.20,254.31 L649.49,255.27 L649.79,256.24 L650.08,257.20 L650.37,258.16 L650.67,259.12 L650.96,260.09 L651.25,261.05 L651.55,262.01 L651.84,262.97 L652.13,263.93 L652.43,264.90 L652.72,265.86 L653.01,266.82 L653.30,267.79 L653.60,268.75 L653.89,269.71 L654.18,270.67 L654.47,271.64 L654.76,272.60 L655.06,273.56 L655.35,274.52 L655.64,275.49 L655.93,276.45 L656.22,277.41 L656.52,278.37 L656.81,279.34 L657.10,280.30" fill="none" stroke="#FF0000" stroke-width="2.0" stroke-linejoin="round" stroke-linecap="round"/>
<path d="M530.20,280.20 L530.33,279.20 L530.47,278.21 L530.60,277.21 L530.73,276.21 L530.86,275.22 L530.99,274.22 L531.11,273.22 L531.24,272.22 L531.36,271.22 L531.48,270.23 L531.59,269.23 L531.70,268.23 L531.81,267.23 L531.91,266.23 L532.02,265.23 L532.11,264.23 L532.21,263.23 L532.30,262.23 L532.39,261.22 L532.48,260.22 L532.57,259.22 L532.65,258.22 L532.74,257.22 L532.82,256.21 L532.90,255.21 L532.98,254.21 L533.05,253.21 L533.13,252.20 L533.21,251.20 L533.28,250.20 L533.35,249.19 L533.43,248.19 L533.50,247.19 L533.57,246.18 L533.65,245.18 L533.72,244.18 L533.79,243.17 L533.87,242.17 L533.94,241.17 L534.02,240.16 L534.09,239.16 L534.17,238.16 L534.25,237.16 L534.33,236.15 L534.41,235.15 L534.50,234.15 L534.58,233.15 L534.67,232.14 L534.76,231.14 L534.85,230.14 L534.94,229.14 L535.03,228.14 L535.13,227.14 L535.23,226.14 L535.32,225.14 L535.42,224.14 L535.53,223.13 L535.63,222.13 L535.73,221.13 L535.84,220.13 L535.94,219.13 L536.05,218.13 L536.16,217.13 L536.27,216.14 L536.39,215.14 L536.50,214.14 L536.61,213.14 L536.73,212.14 L536.85,211.14 L536.96,210.14 L537.08,209.14 L537.20,208.14 L537.33,207.15 L537.45,206.15 L537.57,205.15 L537.70,204.15 L537.82,203.15 L537.95,202.15 L538.08,201.16 L538.20,200.16 L538.33,199.16 L538.46,198.16 L538.59,197.17 L538.73,196.17 L538.86,195.17 L538.99,194.18 L539.13,193.18 L539.26,192.18 L539.40,191.18 L539.53,190.19 L539.67,189.19 L539.81,188.19 L539.95,187.20 L540.08,186.20 L540.22,185.20 L540.36,184.21 L540.50,183.21 L540.64,182.22 L540.78,181.22 L540.93,180.22 L541.07,179.23 L541.21,178.23 L541.35,177.24 L541.50,176.24 L541.64,175.24 L541.78,174.25 L541.93,173.25 L542.07,172.26 L542.21,171.26 L542.36,170.27 L542.50,169.27 L542.65,168.27 L542.79,167.28 L542.94,166.28 L543.08,165.29 L543.23,164.29 L543.37,163.30 L543.52,162.30 L543.66,161.31 L543.81,160.31 L543.95,159.31 L544.10,158.32 L544.25,157.32 L544.39,156.33 L544.54,155.33 L544.69,154.34 L544.83,153.34 L544.98,152.35 L545.13,151.35 L545.27,150.36 L545.42,149.36 L545.57,148.37 L545.71,147.37 L545.86,146.38 L546.01,145.38 L546.16,144.39 L546.31,143.39 L546.45,142.40 L546.60,141.40 L546.75,140.41 L546.90,139.41 L547.05,138.42 L547.19,137.42 L547.34,136.43 L547.49,135.43 L547.64,134.44 L547.79,133.44 L547.94,132.45 L548.09,131.45 L548.24,130.46 L548.39,129.47 L548.53,128.47 L548.68,127.48 L548.83,126.48 L548.98,125.49 L549.13,124.49 L549.28,123.50 L549.43,122.50 L549.58,121.51 L549.73,120.51 L549.88,119.52 L550.03,118.53 L550.18,117.53 L550.33,116.54 L550.48,115.54 L550.63,114.55 L550.78,113.55 L550.93,112.56 L551.09,111.57 L551.24,110.57 L551.39,109.58 L551.54,108.58 L551.69,107.59 L551.84,106.59 L551.99,105.60 L552.14,104.61 L552.29,103.61 L552.44,102.62 L552.60,101.62 L552.75,100.63 L552.90,99.63 L553.05,98.64 L553.20,97.65 L553.35,96.65 L553.51,95.66 L553.66,94.66 L553.81,93.67 L553.96,92.68 L554.11,91.68 L554.26,90.69 L554.42,89.69 L554.57,88.70 L554.72,87.71 L554.87,86.71 L555.02,85.72 L555.18,84.72 L555.33,83.73 L555.48,82.74 L555.63,81.74 L555.79,80.75 L555.94,79.75 L556.09,78.76 L556.24,77.77 L556.40,76.77 L556.55,75.78 L556.70,74.78 L556.85,73.79 L557.01,72.80 L557.16,71.80 L557.31,70.81 L557.46,69.81 L557.62,68.82 L557.77,67.83 L557.92,66.83 L558.07,65.84 L558.23,64.84 L558.38,63.85 L558.53,62.86 L558.68,61.86 L558.84,60.87 L558.99,59.88 L559.14,58.88 L559.29,57.89 L559.45,56.89 L559.60,55.90 M559.60,55.90 L559.68,56.90 L559.76,57.91 L559.84,58.91 L559.92,59.91 L560.00,60.92 L560.08,61.92 L560.16,62.93 L560.24,63.93 L560.32,64.93 L560.40,65.94 L560.48,66.94 L560.56,67.94 L560.65,68.95 L560.73,69.95 L560.81,70.95 L560.89,71.96 L560.97,72.96 L561.05,73.97 L561.14,74.97 L561.22,75.97 L561.30,76.98 L561.38,77.98 L561.47,78.98 L561.55,79.99 L561.63,80.99 L561.72,81.99 L561.80,83.00 L561.89,84.00 L561.97,85.00 L562.06,86.01 L562.14,87.01 L562.23,88.01 L562.31,89.01 L562.40,90.02 L562.49,91.02 L562.58,92.02 L562.66,93.03 L562.75,94.03 L562.84,95.03 L562.93,96.04 L563.02,97.04 L563.11,98.04 L563.20,99.04 L563.29,100.05 L563.38,101.05 L563.48,102.05 L563.57,103.05 L563.66,104.05 L563.76,105.06 L563.85,106.06 L563.95,107.06 L564.04,108.06 L564.14,109.07 L564.24,110.07 L564.33,111.07 L564.43,112.07 L564.53,113.07 L564.63,114.07 L564.73,115.08 L564.83,116.08 L564.93,117.08 L565.04,118.08 L565.14,119.08 L565.24,120.08 L565.35,121.08 L565.45,122.08 L565.56,123.09 L565.67,124.09 L565.78,125.09 L565.88,126.09 L565.99,127.09 L566.10,128.09 L566.21,129.09 L566.32,130.09 L566.43,131.09 L566.55,132.09 L566.66,133.09 L566.77,134.09 L566.88,135.09 L567.00,136.09 L567.11,137.09 L567.23,138.09 L567.34,139.09 L567.46,140.09 L567.57,141.09 L567.69,142.09 L567.81,143.09 L567.92,144.09 L568.04,145.09 L568.16,146.09 L568.28,147.09 L568.39,148.09 L568.51,149.09 L568.63,150.09 L568.75,151.09 L568.87,152.09 L568.99,153.09 L569.11,154.09 L569.23,155.09 L569.35,156.09 L569.47,157.09 L569.58,158.09 L569.70,159.09 L569.82,160.09 L569.94,161.09 L570.06,162.09 L570.18,163.09 L570.30,164.09 L570.42,165.08 L570.54,166.08 L570.66,167.08 L570.78,168.08 L570.90,169.08 L571.02,170.08 L571.14,171.08 L571.26,172.08 L571.38,173.08 L571.50,174.08 L571.61,175.08 L571.73,176.08 L571.85,177.08 L571.97,178.08 L572.08,179.08 L572.20,180.08 L572.32,181.08 L572.43,182.08 L572.55,183.08 L572.67,184.09 L572.78,185.09 L572.90,186.09 L573.01,187.09 L573.13,188.09 L573.24,189.09 L573.36,190.09 L573.47,191.09 L573.59,192.09 L573.70,193.09 L573.82,194.09 L573.94,195.09 L574.05,196.09 L574.17,197.09 L574.28,198.09 L574.40,199.09 L574.52,200.09 L574.63,201.09 L574.75,202.09 L574.87,203.09 L574.99,204.09 L575.11,205.09 L575.23,206.09 L575.35,207.09 L575.47,208.09 L575.59,209.09 L575.71,210.09 L575.84,211.09 L575.96,212.09 L576.09,213.09 L576.21,214.08 L576.34,215.08 L576.47,216.08 L576.60,217.08 L576.72,218.08 L576.86,219.08 L576.99,220.07 L577.12,221.07 L577.25,222.07 L577.39,223.07 L577.52,224.06 L577.66,225.06 L577.80,226.06 L577.94,227.06 L578.08,228.05 L578.23,229.05 L578.37,230.04 L578.52,231.04 L578.66,232.04 L578.81,233.03 L578.96,234.03 L579.11,235.02 L579.27,236.01 L579.42,237.01 L579.58,238.00 L579.74,239.00 L579.90,239.99 L580.06,240.98 L580.22,241.98 L580.39,242.97 L580.55,243.96 L580.72,244.96 L580.89,245.95 L581.06,246.94 L581.23,247.93 L581.40,248.92 L581.57,249.92 L581.74,250.91 L581.92,251.90 L582.10,252.89 L582.27,253.88 L582.45,254.87 L582.63,255.86 L582.81,256.85 L582.99,257.84 L583.17,258.83 L583.35,259.82 L583.54,260.81 L583.72,261.80 L583.90,262.79 L584.09,263.78 L584.28,264.77 L584.46,265.76 L584.65,266.75 L584.84,267.74 L585.02,268.73 L585.21,269.72 L585.40,270.71 L585.59,271.70 L585.78,272.69 L585.97,273.68 L586.16,274.67 L586.35,275.66 L586.54,276.64 L586.73,277.63 L586.92,278.62 L587.11,279.61 L587.30,280.60" fill="none" stroke="#0000FF" stroke-width="2.0" stroke-linejoin="round" stroke-linecap="round"/>
<path d="M530.20,280.20 L543.20,55.90 M543.20,55.90 L543.24,56.90 L543.28,57.91 L543.31,58.91 L543.35,59.92 L543.39,60.92 L543.43,61.92 L543.47,62.93 L543.50,63.93 L543.54,64.94 L543.58,65.94 L543.62,66.94 L543.66,67.95 L543.69,68.95 L543.73,69.96 L543.77,70.96 L543.81,71.96 L543.85,72.97 L543.89,73.97 L543.92,74.98 L543.96,75.98 L544.00,76.98 L544.04,77.99 L544.08,78.99 L544.12,80.00 L544.16,81.00 L544.20,82.00 L544.23,83.01 L544.27,84.01 L544.31,85.02 L544.35,86.02 L544.39,87.02 L544.43,88.03 L544.47,89.03 L544.51,90.04 L544.55,91.04 L544.59,92.04 L544.63,93.05 L544.67,94.05 L544.71,95.06 L544.75,96.06 L544.79,97.06 L544.83,98.07 L544.87,99.07 L544.91,100.08 L544.95,101.08 L544.99,102.08 L545.03,103.09 L545.08,104.09 L545.12,105.09 L545.16,106.10 L545.20,107.10 L545.24,108.11 L545.28,109.11 L545.33,110.11 L545.37,111.12 L545.41,112.12 L545.45,113.13 L545.50,114.13 L545.54,115.13 L545.58,116.14 L545.62,117.14 L545.67,118.14 L545.71,119.15 L545.76,120.15 L545.80,121.16 L545.84,122.16 L545.89,123.16 L545.93,124.17 L545.98,125.17 L546.02,126.17 L546.07,127.18 L546.11,128.18 L546.16,129.18 L546.20,130.19 L546.25,131.19 L546.30,132.20 L546.34,133.20 L546.39,134.20 L546.44,135.21 L546.48,136.21 L546.53,137.21 L546.58,138.22 L546.63,139.22 L546.67,140.22 L546.72,141.23 L546.77,142.23 L546.82,143.23 L546.87,144.24 L546.92,145.24 L546.97,146.24 L547.02,147.25 L547.07,148.25 L547.12,149.25 L547.17,150.26 L547.22,151.26 L547.27,152.26 L547.32,153.27 L547.37,154.27 L547.42,155.27 L547.48,156.28 L547.53,157.28 L547.58,158.28 L547.63,159.29 L547.69,160.29 L547.74,161.29 L547.80,162.30 L547.85,163.30 L547.90,164.30 L547.96,165.31 L548.01,166.31 L548.07,167.31 L548.13,168.32 L548.18,169.32 L548.24,170.32 L548.29,171.32 L548.35,172.33 L548.41,173.33 L548.47,174.33 L548.53,175.34 L548.58,176.34 L548.64,177.34 L548.70,178.34 L548.76,179.35 L548.82,180.35 L548.88,181.35 L548.94,182.36 L549.00,183.36 L549.06,184.36 L549.13,185.36 L549.19,186.37 L549.25,187.37 L549.31,188.37 L549.37,189.37 L549.44,190.38 L549.50,191.38 L549.56,192.38 L549.63,193.39 L549.69,194.39 L549.76,195.39 L549.82,196.39 L549.89,197.40 L549.95,198.40 L550.02,199.40 L550.08,200.40 L550.15,201.41 L550.21,202.41 L550.28,203.41 L550.34,204.41 L550.41,205.42 L550.48,206.42 L550.54,207.42 L550.61,208.42 L550.68,209.43 L550.74,210.43 L550.81,211.43 L550.88,212.43 L550.95,213.44 L551.01,214.44 L551.08,215.44 L551.15,216.44 L551.22,217.44 L551.28,218.45 L551.35,219.45 L551.42,220.45 L551.49,221.45 L551.55,222.46 L551.62,223.46 L551.69,224.46 L551.76,225.46 L551.82,226.47 L551.89,227.47 L551.96,228.47 L552.03,229.47 L552.10,230.48 L552.16,231.48 L552.23,232.48 L552.30,233.48 L552.37,234.49 L552.43,235.49 L552.50,236.49 L552.57,237.49 L552.63,238.50 L552.70,239.50 L552.77,240.50 L552.83,241.50 L552.90,242.51 L552.97,243.51 L553.03,244.51 L553.10,245.51 L553.17,246.51 L553.23,247.52 L553.30,248.52 L553.37,249.52 L553.43,250.52 L553.50,251.53 L553.56,252.53 L553.63,253.53 L553.70,254.53 L553.76,255.54 L553.83,256.54 L553.89,257.54 L553.96,258.54 L554.03,259.55 L554.09,260.55 L554.16,261.55 L554.22,262.55 L554.29,263.56 L554.35,264.56 L554.42,265.56 L554.49,266.56 L554.55,267.57 L554.62,268.57 L554.68,269.57 L554.75,270.57 L554.81,271.58 L554.88,272.58 L554.94,273.58 L555.01,274.58 L555.07,275.59 L555.14,276.59 L555.20,277.59 L555.27,278.59 L555.33,279.60 L555.40,280.60" fill="none" stroke="#0E960E" stroke-width="2.0" stroke-linejoin="round" stroke-linecap="round"/>
<path d="M530.20,280.20 L538.40,55.90 M538.40,55.90 L538.43,56.91 L538.46,57.92 L538.49,58.92 L538.52,59.93 L538.55,60.94 L538.58,61.95 L538.61,62.95 L538.64,63.96 L538.67,64.97 L538.70,65.98 L538.73,66.99 L538.76,67.99 L538.80,69.00 L538.83,70.01 L538.86,71.02 L538.89,72.02 L538.92,73.03 L538.95,74.04 L538.98,75.05 L539.01,76.06 L539.04,77.06 L539.07,78.07 L539.10,79.08 L539.13,80.09 L539.16,81.09 L539.19,82.10 L539.22,83.11 L539.25,84.12 L539.28,85.13 L539.31,86.13 L539.34,87.14 L539.38,88.15 L539.41,89.16 L539.44,90.16 L539.47,91.17 L539.50,92.18 L539.53,93.19 L539.56,94.20 L539.59,95.20 L539.62,96.21 L539.65,97.22 L539.68,98.23 L539.71,99.23 L539.74,100.24 L539.78,101.25 L539.81,102.26 L539.84,103.27 L539.87,104.27 L539.90,105.28 L539.93,106.29 L539.96,107.30 L539.99,108.30 L540.02,109.31 L540.05,110.32 L540.09,111.33 L540.12,112.34 L540.15,113.34 L540.18,114.35 L540.21,115.36 L540.24,116.37 L540.27,117.37 L540.30,118.38 L540.34,119.39 L540.37,120.40 L540.40,121.41 L540.43,122.41 L540.46,123.42 L540.49,124.43 L540.53,125.44 L540.56,126.44 L540.59,127.45 L540.62,128.46 L540.65,129.47 L540.68,130.47 L540.72,131.48 L540.75,132.49 L540.78,133.50 L540.81,134.51 L540.84,135.51 L540.87,136.52 L540.91,137.53 L540.94,138.54 L540.97,139.54 L541.00,140.55 L541.04,141.56 L541.07,142.57 L541.10,143.58 L541.13,144.58 L541.16,145.59 L541.20,146.60 L541.23,147.61 L541.26,148.61 L541.29,149.62 L541.33,150.63 L541.36,151.64 L541.39,152.64 L541.43,153.65 L541.46,154.66 L541.49,155.67 L541.52,156.68 L541.56,157.68 L541.59,158.69 L541.62,159.70 L541.66,160.71 L541.69,161.71 L541.72,162.72 L541.76,163.73 L541.79,164.74 L541.82,165.74 L541.86,166.75 L541.89,167.76 L541.92,168.77 L541.96,169.78 L541.99,170.78 L542.02,171.79 L542.06,172.80 L542.09,173.81 L542.12,174.81 L542.16,175.82 L542.19,176.83 L542.23,177.84 L542.26,178.84 L542.29,179.85 L542.33,180.86 L542.36,181.87 L542.40,182.88 L542.43,183.88 L542.47,184.89 L542.50,185.90 L542.54,186.91 L542.57,187.91 L542.61,188.92 L542.64,189.93 L542.68,190.94 L542.71,191.94 L542.75,192.95 L542.78,193.96 L542.82,194.97 L542.85,195.97 L542.89,196.98 L542.92,197.99 L542.96,199.00 L542.99,200.00 L543.03,201.01 L543.06,202.02 L543.10,203.03 L543.14,204.04 L543.17,205.04 L543.21,206.05 L543.25,207.06 L543.28,208.07 L543.32,209.07 L543.36,210.08 L543.39,211.09 L543.43,212.10 L543.47,213.10 L543.50,214.11 L543.54,215.12 L543.58,216.13 L543.62,217.13 L543.65,218.14 L543.69,219.15 L543.73,220.16 L543.77,221.16 L543.80,222.17 L543.84,223.18 L543.88,224.19 L543.92,225.19 L543.96,226.20 L544.00,227.21 L544.04,228.22 L544.07,229.22 L544.11,230.23 L544.15,231.24 L544.19,232.25 L544.23,233.25 L544.27,234.26 L544.31,235.27 L544.35,236.28 L544.39,237.28 L544.43,238.29 L544.47,239.30 L544.51,240.31 L544.55,241.31 L544.59,242.32 L544.63,243.33 L544.67,244.34 L544.72,245.34 L544.76,246.35 L544.80,247.36 L544.84,248.37 L544.88,249.37 L544.92,250.38 L544.96,251.39 L545.01,252.39 L545.05,253.40 L545.09,254.41 L545.13,255.42 L545.17,256.42 L545.22,257.43 L545.26,258.44 L545.30,259.45 L545.34,260.45 L545.39,261.46 L545.43,262.47 L545.47,263.48 L545.51,264.48 L545.56,265.49 L545.60,266.50 L545.64,267.50 L545.68,268.51 L545.73,269.52 L545.77,270.53 L545.81,271.53 L545.86,272.54 L545.90,273.55 L545.94,274.56 L545.98,275.56 L546.03,276.57 L546.07,277.58 L546.11,278.59 L546.16,279.59 L546.20,280.60" fill="none" stroke="#FF00FF" stroke-width="2.0" stroke-linejoin="round" stroke-linecap="round"/>
<path d="M530.20,280.20 L530.21,279.19 L530.21,278.19 L530.22,277.18 L530.22,276.18 L530.23,275.17 L530.23,274.16 L530.24,273.16 L530.24,272.15 L530.25,271.15 L530.25,270.14 L530.26,269.13 L530.26,268.13 L530.27,267.12 L530.28,266.12 L530.28,265.11 L530.29,264.10 L530.29,263.10 L530.30,262.09 L530.30,261.09 L530.31,260.08 L530.32,259.07 L530.32,258.07 L530.33,257.06 L530.34,256.06 L530.34,255.05 L530.35,254.04 L530.36,253.04 L530.36,252.03 L530.37,251.03 L530.38,250.02 L530.38,249.01 L530.39,248.01 L530.40,247.00 L530.41,246.00 L530.41,244.99 L530.42,243.98 L530.43,242.98 L530.44,241.97 L530.45,240.97 L530.46,239.96 L530.46,238.95 L530.47,237.95 L530.48,236.94 L530.49,235.94 L530.50,234.93 L530.51,233.92 L530.52,232.92 L530.53,231.91 L530.54,230.91 L530.55,229.90 L530.56,228.90 L530.57,227.89 L530.58,226.88 L530.59,225.88 L530.61,224.87 L530.62,223.87 L530.63,222.86 L530.64,221.85 L530.65,220.85 L530.66,219.84 L530.68,218.84 L530.69,217.83 L530.70,216.82 L530.71,215.82 L530.73,214.81 L530.74,213.81 L530.75,212.80 L530.77,211.79 L530.78,210.79 L530.80,209.78 L530.81,208.78 L530.82,207.77 L530.84,206.77 L530.85,205.76 L530.87,204.75 L530.88,203.75 L530.90,202.74 L530.91,201.74 L530.93,200.73 L530.94,199.72 L530.96,198.72 L530.97,197.71 L530.99,196.71 L531.01,195.70 L531.02,194.69 L531.04,193.69 L531.06,192.68 L531.07,191.68 L531.09,190.67 L531.11,189.67 L531.12,188.66 L531.14,187.65 L531.16,186.65 L531.17,185.64 L531.19,184.64 L531.21,183.63 L531.23,182.62 L531.25,181.62 L531.26,180.61 L531.28,179.61 L531.30,178.60 L531.32,177.60 L531.34,176.59 L531.36,175.58 L531.38,174.58 L531.39,173.57 L531.41,172.57 L531.43,171.56 L531.45,170.55 L531.47,169.55 L531.49,168.54 L531.51,167.54 L531.53,166.53 L531.55,165.53 L531.57,164.52 L531.59,163.51 L531.61,162.51 L531.63,161.50 L531.65,160.50 L531.67,159.49 L531.69,158.49 L531.72,157.48 L531.74,156.47 L531.76,155.47 L531.78,154.46 L531.80,153.46 L531.82,152.45 L531.84,151.44 L531.87,150.44 L531.89,149.43 L531.91,148.43 L531.93,147.42 L531.95,146.42 L531.97,145.41 L532.00,144.40 L532.02,143.40 L532.04,142.39 L532.06,141.39 L532.09,140.38 L532.11,139.38 L532.13,138.37 L532.16,137.36 L532.18,136.36 L532.20,135.35 L532.22,134.35 L532.25,133.34 L532.27,132.34 L532.29,131.33 L532.32,130.32 L532.34,129.32 L532.36,128.31 L532.39,127.31 L532.41,126.30 L532.44,125.30 L532.46,124.29 L532.48,123.28 L532.51,122.28 L532.53,121.27 L532.56,120.27 L532.58,119.26 L532.60,118.25 L532.63,117.25 L532.65,116.24 L532.68,115.24 L532.70,114.23 L532.73,113.23 L532.75,112.22 L532.78,111.21 L532.80,110.21 L532.83,109.20 L532.85,108.20 L532.88,107.19 L532.90,106.19 L532.93,105.18 L532.95,104.17 L532.98,103.17 L533.00,102.16 L533.03,101.16 L533.05,100.15 L533.08,99.15 L533.10,98.14 L533.13,97.13 L533.16,96.13 L533.18,95.12 L533.21,94.12 L533.23,93.11 L533.26,92.11 L533.28,91.10 L533.31,90.09 L533.33,89.09 L533.36,88.08 L533.39,87.08 L533.41,86.07 L533.44,85.07 L533.46,84.06 L533.49,83.05 L533.52,82.05 L533.54,81.04 L533.57,80.04 L533.59,79.03 L533.62,78.03 L533.65,77.02 L533.67,76.01 L533.70,75.01 L533.73,74.00 L533.75,73.00 L533.78,71.99 L533.80,70.99 L533.83,69.98 L533.86,68.97 L533.88,67.97 L533.91,66.96 L533.94,65.96 L533.96,64.95 L533.99,63.95 L534.02,62.94 L534.04,61.93 L534.07,60.93 L534.09,59.92 L534.12,58.92 L534.15,57.91 L534.17,56.91 L534.20,55.90 M534.20,55.90 L534.21,56.91 L534.22,57.92 L534.23,58.92 L534.25,59.93 L534.26,60.94 L534.27,61.95 L534.28,62.95 L534.29,63.96 L534.30,64.97 L534.32,65.98 L534.33,66.99 L534.34,67.99 L534.35,69.00 L534.36,70.01 L534.37,71.02 L534.39,72.03 L534.40,73.03 L534.41,74.04 L534.42,75.05 L534.43,76.06 L534.44,77.06 L534.46,78.07 L534.47,79.08 L534.48,80.09 L534.49,81.10 L534.51,82.10 L534.52,83.11 L534.53,84.12 L534.54,85.13 L534.55,86.13 L534.57,87.14 L534.58,88.15 L534.59,89.16 L534.60,90.17 L534.62,91.17 L534.63,92.18 L534.64,93.19 L534.66,94.20 L534.67,95.20 L534.68,96.21 L534.70,97.22 L534.71,98.23 L534.72,99.24 L534.74,100.24 L534.75,101.25 L534.76,102.26 L534.78,103.27 L534.79,104.27 L534.80,105.28 L534.82,106.29 L534.83,107.30 L534.85,108.31 L534.86,109.31 L534.88,110.32 L534.89,111.33 L534.90,112.34 L534.92,113.34 L534.93,114.35 L534.95,115.36 L534.96,116.37 L534.98,117.38 L534.99,118.38 L535.01,119.39 L535.03,120.40 L535.04,121.41 L535.06,122.41 L535.07,123.42 L535.09,124.43 L535.11,125.44 L535.12,126.45 L535.14,127.45 L535.16,128.46 L535.17,129.47 L535.19,130.48 L535.21,131.48 L535.22,132.49 L535.24,133.50 L535.26,134.51 L535.28,135.51 L535.30,136.52 L535.31,137.53 L535.33,138.54 L535.35,139.55 L535.37,140.55 L535.39,141.56 L535.41,142.57 L535.43,143.58 L535.45,144.58 L535.47,145.59 L535.49,146.60 L535.51,147.61 L535.53,148.61 L535.55,149.62 L535.57,150.63 L535.59,151.64 L535.61,152.64 L535.63,153.65 L535.65,154.66 L535.67,155.67 L535.69,156.68 L535.72,157.68 L535.74,158.69 L535.76,159.70 L535.78,160.71 L535.80,161.71 L535.83,162.72 L535.85,163.73 L535.87,164.74 L535.90,165.74 L535.92,166.75 L535.95,167.76 L535.97,168.77 L535.99,169.77 L536.02,170.78 L536.04,171.79 L536.07,172.80 L536.09,173.80 L536.12,174.81 L536.15,175.82 L536.17,176.83 L536.20,177.83 L536.22,178.84 L536.25,179.85 L536.28,180.86 L536.31,181.86 L536.33,182.87 L536.36,183.88 L536.39,184.89 L536.41,185.89 L536.44,186.90 L536.47,187.91 L536.50,188.92 L536.53,189.92 L536.55,190.93 L536.58,191.94 L536.61,192.95 L536.64,193.95 L536.67,194.96 L536.70,195.97 L536.72,196.98 L536.75,197.98 L536.78,198.99 L536.81,200.00 L536.84,201.01 L536.87,202.01 L536.90,203.02 L536.93,204.03 L536.96,205.04 L536.98,206.04 L537.01,207.05 L537.04,208.06 L537.07,209.07 L537.10,210.07 L537.13,211.08 L537.16,212.09 L537.19,213.10 L537.22,214.10 L537.25,215.11 L537.27,216.12 L537.30,217.12 L537.33,218.13 L537.36,219.14 L537.39,220.15 L537.42,221.15 L537.45,222.16 L537.48,223.17 L537.50,224.18 L537.53,225.18 L537.56,226.19 L537.59,227.20 L537.62,228.21 L537.64,229.21 L537.67,230.22 L537.70,231.23 L537.73,232.24 L537.75,233.24 L537.78,234.25 L537.81,235.26 L537.83,236.27 L537.86,237.27 L537.89,238.28 L537.91,239.29 L537.94,240.30 L537.96,241.30 L537.99,242.31 L538.02,243.32 L538.04,244.33 L538.07,245.33 L538.09,246.34 L538.12,247.35 L538.14,248.36 L538.17,249.36 L538.19,250.37 L538.22,251.38 L538.24,252.39 L538.27,253.40 L538.29,254.40 L538.31,255.41 L538.34,256.42 L538.36,257.43 L538.39,258.43 L538.41,259.44 L538.43,260.45 L538.46,261.46 L538.48,262.46 L538.51,263.47 L538.53,264.48 L538.55,265.49 L538.58,266.49 L538.60,267.50 L538.62,268.51 L538.65,269.52 L538.67,270.52 L538.69,271.53 L538.72,272.54 L538.74,273.55 L538.76,274.55 L538.78,275.56 L538.81,276.57 L538.83,277.58 L538.85,278.58 L538.88,279.59 L538.90,280.60" fill="none" stroke="#FF8000" stroke-width="2.0" stroke-linejoin="round" stroke-linecap="round"/>
<path d="M530.43,298.40v-5M589.86,298.40v-5M649.29,298.40v-5M708.71,298.40v-5M768.14,298.40v-5M827.57,298.40v-5M560.14,298.40v-2.8M619.57,298.40v-2.8M679.00,298.40v-2.8M738.43,298.40v-2.8M797.86,298.40v-2.8M512.60,279.74h5M512.60,230.00h5M512.60,180.25h5M512.60,130.50h5M512.60,80.75h5M512.60,31.00h5M512.60,254.87h2.8M512.60,205.12h2.8M512.60,155.37h2.8M512.60,105.62h2.8M512.60,55.87h2.8" stroke="#000" stroke-width="1.6" fill="none"/>
<rect x="512.60" y="31.00" width="332.80" height="267.40" fill="none" stroke="#000" stroke-width="1.8"/>
<text x="530.43" y="318.70" font-size="17.5" text-anchor="middle" fill="#000000" font-weight="bold" >0</text>
<text x="589.86" y="318.70" font-size="17.5" text-anchor="middle" fill="#000000" font-weight="bold" >100</text>
<text x="649.29" y="318.70" font-size="17.5" text-anchor="middle" fill="#000000" font-weight="bold" >200</text>
<text x="708.71" y="318.70" font-size="17.5" text-anchor="middle" fill="#000000" font-weight="bold" >300</text>
<text x="768.14" y="318.70" font-size="17.5" text-anchor="middle" fill="#000000" font-weight="bold" >400</text>
<text x="827.57" y="318.70" font-size="17.5" text-anchor="middle" fill="#000000" font-weight="bold" >500</text>
<text x="506.20" y="285.34" font-size="17.5" text-anchor="end" fill="#000000" font-weight="bold" >0.0</text>
<text x="506.20" y="235.60" font-size="17.5" text-anchor="end" fill="#000000" font-weight="bold" >0.4</text>
<text x="506.20" y="185.85" font-size="17.5" text-anchor="end" fill="#000000" font-weight="bold" >0.8</text>
<text x="506.20" y="136.10" font-size="17.5" text-anchor="end" fill="#000000" font-weight="bold" >1.2</text>
<text x="506.20" y="86.35" font-size="17.5" text-anchor="end" fill="#000000" font-weight="bold" >1.6</text>
<text x="506.20" y="36.60" font-size="17.5" text-anchor="end" fill="#000000" font-weight="bold" >2.0</text>
<text x="679.00" y="349.00" font-size="19.5" text-anchor="middle" fill="#000000" font-weight="bold" >Time/s</text>
<text transform="translate(468,212.2) rotate(-90)" font-size="20" font-weight="bold">Potential / V</text>
<text x="445.10" y="49.60" font-size="44" text-anchor="start" fill="#000000" font-weight="bold" >b</text>
<line x1="752.9" y1="55.7" x2="778.7" y2="55.7" stroke="#000000" stroke-width="1.8"/>
<text x="788.4" y="60.2" font-size="12.5" font-weight="bold" word-spacing="0.8" xml:space="preserve">0.5 A g<tspan font-size="8.5" dy="-5.5">-1</tspan></text>
<line x1="752.9" y1="72.4" x2="778.7" y2="72.4" stroke="#FF0000" stroke-width="1.8"/>
<text x="788.4" y="76.9" font-size="12.5" font-weight="bold" word-spacing="0.8" xml:space="preserve">1  A g<tspan font-size="8.5" dy="-5.5">-1</tspan></text>
<line x1="752.9" y1="89.8" x2="778.7" y2="89.8" stroke="#0000FF" stroke-width="1.8"/>
<text x="788.4" y="94.3" font-size="12.5" font-weight="bold" word-spacing="0.8" xml:space="preserve">2  A g<tspan font-size="8.5" dy="-5.5">-1</tspan></text>
<line x1="752.9" y1="106.9" x2="778.7" y2="106.9" stroke="#0E960E" stroke-width="1.8"/>
<text x="788.4" y="111.4" font-size="12.5" font-weight="bold" word-spacing="0.8" xml:space="preserve">4  A g<tspan font-size="8.5" dy="-5.5">-1</tspan></text>
<line x1="752.9" y1="124.3" x2="778.7" y2="124.3" stroke="#FF00FF" stroke-width="1.8"/>
<text x="788.4" y="128.8" font-size="12.5" font-weight="bold" word-spacing="0.8" xml:space="preserve">6  A g<tspan font-size="8.5" dy="-5.5">-1</tspan></text>
<line x1="752.9" y1="141.7" x2="778.7" y2="141.7" stroke="#FF8000" stroke-width="1.8"/>
<text x="788.4" y="146.2" font-size="12.5" font-weight="bold" word-spacing="0.8" xml:space="preserve">10 A g<tspan font-size="8.5" dy="-5.5">-1</tspan></text>
<path d="M959.37,33.9V300.8M966.79,33.9V300.8M973.22,33.9V300.8M978.88,33.9V300.8M1017.31,33.9V300.8M1036.82,33.9V300.8M1050.66,33.9V300.8M1061.40,33.9V300.8M1070.17,33.9V300.8M1077.59,33.9V300.8M1084.02,33.9V300.8M1089.68,33.9V300.8M1128.11,33.9V300.8M1147.62,33.9V300.8M1161.46,33.9V300.8M1172.20,33.9V300.8M1180.97,33.9V300.8M1188.39,33.9V300.8M1194.82,33.9V300.8M1200.48,33.9V300.8M1238.91,33.9V300.8M1258.42,33.9V300.8M1272.26,33.9V300.8" stroke="#e4e4e4" stroke-width="0.8" stroke-dasharray="1.5,1.5" fill="none"/>
<path d="M983.95,33.9V300.8M1094.75,33.9V300.8M1205.55,33.9V300.8" stroke="#c8c8c8" stroke-width="1" fill="none"/>
<path d="M983.95,300.80v-5M1094.75,300.80v-5M1205.55,300.80v-5M959.37,300.80v-2.8M966.79,300.80v-2.8M973.22,300.80v-2.8M978.88,300.80v-2.8M1017.31,300.80v-2.8M1036.82,300.80v-2.8M1050.66,300.80v-2.8M1061.40,300.80v-2.8M1070.17,300.80v-2.8M1077.59,300.80v-2.8M1084.02,300.80v-2.8M1089.68,300.80v-2.8M1128.11,300.80v-2.8M1147.62,300.80v-2.8M1161.46,300.80v-2.8M1172.20,300.80v-2.8M1180.97,300.80v-2.8M1188.39,300.80v-2.8M1194.82,300.80v-2.8M1200.48,300.80v-2.8M1238.91,300.80v-2.8M1258.42,300.80v-2.8M1272.26,300.80v-2.8M950.60,239.05h5M950.60,33.90h5M950.60,284.56h2.8M950.60,270.82h2.8M950.60,258.93h2.8M950.60,248.43h2.8M950.60,177.29h2.8M950.60,141.17h2.8M950.60,115.54h2.8M950.60,95.65h2.8M950.60,79.41h2.8M950.60,65.68h2.8M950.60,53.78h2.8M950.60,43.29h2.8" stroke="#000" stroke-width="1.6" fill="none"/>
<rect x="950.60" y="33.90" width="332.40" height="266.90" fill="none" stroke="#000" stroke-width="1.8"/>
<path d="M1080.5,93.7 L1114.1,98.4 L1147.6,104.8 L1180.9,112.5 L1200.4,119.2 L1224.8,130.6" stroke="#FF0000" stroke-width="1.5" fill="none"/>
<circle cx="1080.5" cy="93.7" r="4.6" fill="url(#gr)"/>
<circle cx="1114.1" cy="98.4" r="4.6" fill="url(#gr)"/>
<circle cx="1147.6" cy="104.8" r="4.6" fill="url(#gr)"/>
<circle cx="1180.9" cy="112.5" r="4.6" fill="url(#gr)"/>
<circle cx="1200.4" cy="119.2" r="4.6" fill="url(#gr)"/>
<circle cx="1224.8" cy="130.6" r="4.6" fill="url(#gr)"/>
<path d="M1026.8,142.8 L1075.4,156.4 L1111.4,163.2 L1146.7,169 L1169.1,174.4 L1196.8,179.9" stroke="#FF0000" stroke-width="1.5" fill="none"/>
<circle cx="1026.8" cy="142.8" r="4.6" fill="url(#gr)"/>
<circle cx="1075.4" cy="156.4" r="4.6" fill="url(#gr)"/>
<circle cx="1111.4" cy="163.2" r="4.6" fill="url(#gr)"/>
<circle cx="1146.7" cy="169" r="4.6" fill="url(#gr)"/>
<circle cx="1169.1" cy="174.4" r="4.6" fill="url(#gr)"/>
<circle cx="1196.8" cy="179.9" r="4.6" fill="url(#gr)"/>
<path d="M1047.1,105.5L1052.6999999999998,111.1L1047.1,116.69999999999999L1041.5,111.1Z" fill="#FF8000"/>
<path d="M1071.2,133.1L1076.8,138.7L1071.2,144.29999999999998L1065.6000000000001,138.7Z" fill="#000000"/>
<path d="M1083.7,145.20000000000002L1089.3,150.8L1083.7,156.4L1078.1000000000001,150.8Z" fill="#0E960E"/>
<path d="M1147.6,124.1L1153.1999999999998,129.7L1147.6,135.29999999999998L1142.0,129.7Z" fill="#FF00FF"/>
<path d="M1166.9,138.1L1172.5,143.7L1166.9,149.29999999999998L1161.3000000000002,143.7Z" fill="#0000FF"/>
<path d="M1188.6,134.1L1194.1999999999998,139.7L1188.6,145.29999999999998L1183.0,139.7Z" fill="#8000FF"/>
<rect x="1056.8" y="160.6" width="8.6" height="8.6" fill="#000000"/>
<rect x="1051.8" y="180.89999999999998" width="8.6" height="8.6" fill="#8000FF"/>
<rect x="1090.2" y="187.0" width="8.6" height="8.6" fill="#FF00FF"/>
<rect x="1188.7" y="198.39999999999998" width="8.6" height="8.6" fill="#FF8000"/>
<rect x="1183.9" y="237.6" width="8.6" height="8.6" fill="#0000FF"/>
<rect x="1023.6000000000001" y="244.6" width="8.6" height="8.6" fill="#0E960E"/>
<text x="1044.70" y="129.80" font-size="11.5" text-anchor="middle" fill="#FF8000" font-weight="bold" >[16]</text>
<text x="1072.60" y="129.80" font-size="11.5" text-anchor="middle" fill="#000000" font-weight="bold" >[51]</text>
<text x="1095.60" y="145.80" font-size="11.5" text-anchor="middle" fill="#0E960E" font-weight="bold" >[50]</text>
<text x="1043.30" y="168.80" font-size="11.5" text-anchor="middle" fill="#000000" font-weight="bold" >[44]</text>
<text x="1039.10" y="192.60" font-size="11.5" text-anchor="middle" fill="#8000FF" font-weight="bold" >[42]</text>
<text x="1095.10" y="211.10" font-size="11.5" text-anchor="middle" fill="#FF00FF" font-weight="bold" >[45]</text>
<text x="1143.80" y="149.10" font-size="11.5" text-anchor="middle" fill="#FF00FF" font-weight="bold" >[49]</text>
<text x="1166.60" y="164.00" font-size="11.5" text-anchor="middle" fill="#0000FF" font-weight="bold" >[47]</text>
<text x="1198.00" y="159.60" font-size="11.5" text-anchor="middle" fill="#8000FF" font-weight="bold" >[48]</text>
<text x="1193.00" y="221.00" font-size="11.5" text-anchor="middle" fill="#FF8000" font-weight="bold" >[41]</text>
<text x="1186.30" y="261.80" font-size="11.5" text-anchor="middle" fill="#0000FF" font-weight="bold" >[46]</text>
<text x="1026.60" y="266.20" font-size="11.5" text-anchor="middle" fill="#0E960E" font-weight="bold" >[43]</text>
<text x="1194.6" y="107.1" font-size="10" font-weight="bold">1 M BMIMBF<tspan font-size="7" dy="3">4</tspan><tspan dy="-3">/AN</tspan></text>
<text x="1209.5" y="185.3" font-size="10" font-weight="bold">1 M Na<tspan font-size="7" dy="3">2</tspan><tspan dy="-3">SO</tspan><tspan font-size="7" dy="3">4</tspan></text>
<text x="971.9541235195692" y="324.3" font-size="17.5" font-weight="bold">10<tspan font-size="11" dy="-7">2</tspan></text>
<text x="1082.754123519569" y="324.3" font-size="17.5" font-weight="bold">10<tspan font-size="11" dy="-7">3</tspan></text>
<text x="1193.5541235195692" y="324.3" font-size="17.5" font-weight="bold">10<tspan font-size="11" dy="-7">4</tspan></text>
<text x="920.7" y="245.5451549076603" font-size="17.5" font-weight="bold">10<tspan font-size="11" dy="-7">1</tspan></text>
<text x="920.7" y="40.39999999999998" font-size="17.5" font-weight="bold">10<tspan font-size="11" dy="-7">2</tspan></text>
<text x="1026.6" y="355.6" font-size="20" font-weight="bold">Power density/W kg<tspan font-size="12.5" dy="-8">-1</tspan></text>
<text transform="translate(913.6,267.6) rotate(-90)" font-size="20" font-weight="bold">Energy density/Wh kg<tspan font-size="12.5" dy="-8">-1</tspan></text>
<text x="888.20" y="48.40" font-size="44" text-anchor="start" fill="#000000" font-weight="bold" >c</text>
<path d="M103.40,539.10 L103.58,538.13 L103.77,537.18 L104.00,536.25 L104.27,535.35 L104.59,534.49 L104.98,533.68 L105.45,532.92 L105.99,532.22 L106.60,531.58 L107.28,530.99 L108.01,530.47 L108.81,530.00 L109.65,529.59 L110.53,529.22 L111.45,528.90 L112.41,528.61 L113.39,528.36 L114.39,528.13 L115.40,527.93 L116.42,527.74 L117.45,527.56 L118.47,527.39 L119.50,527.23 L120.52,527.08 L121.54,526.93 L122.56,526.80 L123.58,526.67 L124.60,526.54 L125.62,526.42 L126.63,526.31 L127.65,526.21 L128.66,526.11 L129.67,526.02 L130.69,525.93 L131.70,525.85 L132.71,525.77 L133.72,525.70 L134.73,525.63 L135.74,525.57 L136.75,525.51 L137.76,525.46 L138.76,525.41 L139.77,525.36 L140.78,525.32 L141.79,525.28 L142.79,525.24 L143.80,525.21 L144.80,525.18 L145.81,525.15 L146.82,525.13 L147.82,525.10 L148.83,525.09 L149.83,525.07 L150.84,525.05 L151.84,525.04 L152.85,525.03 L153.85,525.02 L154.85,525.01 L155.86,525.01 L156.86,525.00 L157.87,525.00 L158.87,525.00 L159.87,524.99 L160.88,524.99 L161.88,524.99 L162.89,524.99 L163.89,524.99 L164.89,524.99 L165.90,524.99 L166.90,524.99 L167.91,524.99 L168.91,524.99 L169.91,524.99 L170.92,524.99 L171.92,524.99 L172.93,524.99 L173.93,525.00 L174.94,525.00 L175.94,525.00 L176.95,525.00 L177.95,525.00 L178.96,525.00 L179.96,525.00 L180.97,525.00 L181.97,525.00 L182.98,525.00 L183.98,525.00 L184.99,525.01 L185.99,525.01 L187.00,525.01 L188.00,525.01 L189.01,525.01 L190.01,525.01 L191.02,525.01 L192.02,525.01 L193.03,525.01 L194.03,525.02 L195.04,525.02 L196.04,525.02 L197.05,525.02 L198.06,525.02 L199.06,525.02 L200.07,525.02 L201.07,525.02 L202.08,525.02 L203.08,525.02 L204.09,525.03 L205.09,525.03 L206.10,525.03 L207.11,525.03 L208.11,525.03 L209.12,525.03 L210.12,525.03 L211.13,525.03 L212.14,525.03 L213.14,525.03 L214.15,525.03 L215.15,525.03 L216.16,525.03 L217.16,525.03 L218.17,525.03 L219.18,525.03 L220.18,525.03 L221.19,525.03 L222.19,525.03 L223.20,525.03 L224.21,525.03 L225.21,525.03 L226.22,525.03 L227.22,525.03 L228.23,525.03 L229.24,525.03 L230.24,525.02 L231.25,525.02 L232.25,525.02 L233.26,525.02 L234.26,525.02 L235.27,525.02 L236.28,525.01 L237.28,525.01 L238.29,525.01 L239.29,525.01 L240.30,525.01 L241.31,525.00 L242.31,525.00 L243.32,525.00 L244.32,524.99 L245.33,524.99 L246.33,524.99 L247.34,524.98 L248.34,524.98 L249.35,524.97 L250.36,524.97 L251.36,524.97 L252.37,524.96 L253.37,524.96 L254.38,524.95 L255.38,524.95 L256.39,524.94 L257.39,524.93 L258.40,524.93 L259.40,524.92 L260.41,524.91 L261.42,524.91 L262.42,524.90 L263.43,524.89 L264.43,524.88 L265.44,524.87 L266.44,524.87 L267.45,524.86 L268.45,524.85 L269.46,524.84 L270.46,524.83 L271.47,524.82 L272.47,524.81 L273.48,524.79 L274.48,524.78 L275.49,524.77 L276.49,524.76 L277.50,524.75 L278.51,524.73 L279.51,524.72 L280.52,524.70 L281.52,524.69 L282.53,524.67 L283.53,524.66 L284.54,524.64 L285.54,524.63 L286.55,524.61 L287.55,524.59 L288.56,524.57 L289.56,524.55 L290.57,524.54 L291.57,524.52 L292.58,524.50 L293.58,524.47 L294.59,524.45 L295.60,524.43 L296.60,524.41 L297.61,524.39 L298.61,524.36 L299.62,524.34 L300.62,524.31 L301.63,524.29 L302.63,524.26 L303.64,524.23 L304.64,524.21 L305.65,524.18 L306.65,524.15 L307.66,524.12 L308.66,524.08 L309.67,524.05 L310.67,524.02 L311.68,523.98 L312.68,523.94 L313.69,523.90 L314.69,523.86 L315.70,523.82 L316.70,523.78 L317.71,523.74 L318.71,523.69 L319.72,523.64 L320.72,523.59 L321.73,523.54 L322.73,523.49 L323.73,523.44 L324.74,523.38 L325.74,523.32 L326.75,523.26 L327.75,523.20 L328.75,523.14 L329.76,523.07 L330.76,523.00 L331.76,522.93 L332.76,522.86 L333.77,522.78 L334.77,522.71 L335.77,522.63 L336.77,522.55 L337.77,522.46 L338.78,522.38 L339.78,522.29 L340.78,522.20 L341.78,522.11 L342.78,522.01 L343.78,521.92 L344.78,521.83 L345.78,521.73 L346.79,521.63 L347.79,521.54 L348.79,521.44 L349.79,521.34 L350.79,521.24 L351.79,521.14 L352.79,521.04 L353.79,520.94 L354.79,520.84 L355.79,520.74 L356.79,520.64 L357.79,520.54 L358.79,520.44 L359.79,520.34 L360.79,520.24 L361.79,520.15 L362.79,520.05 L363.79,519.95 L364.79,519.85 L365.80,519.75 L366.80,519.65 L367.80,519.56 L368.80,519.46 L369.80,519.36 L370.80,519.27 L371.80,519.17 L372.80,519.07 L373.80,518.97 L374.80,518.88 L375.80,518.78 L376.80,518.68 L377.80,518.58 L378.80,518.48 L379.80,518.37 L380.80,518.27 L381.80,518.16 L382.80,518.06 L383.80,517.95 L384.80,517.84 L385.80,517.73 L386.80,517.62 L387.80,517.51 L388.80,517.40 M388.80,517.40 L388.53,518.34 L388.23,519.26 L387.91,520.15 L387.54,521.02 L387.11,521.84 L386.62,522.62 L386.07,523.34 L385.46,524.01 L384.79,524.61 L384.06,525.15 L383.27,525.64 L382.44,526.07 L381.56,526.45 L380.64,526.79 L379.70,527.10 L378.73,527.37 L377.74,527.62 L376.74,527.84 L375.73,528.05 L374.72,528.24 L373.70,528.43 L372.69,528.61 L371.68,528.78 L370.66,528.94 L369.65,529.09 L368.64,529.24 L367.62,529.38 L366.61,529.51 L365.59,529.64 L364.58,529.76 L363.57,529.88 L362.56,529.99 L361.54,530.10 L360.53,530.20 L359.52,530.30 L358.51,530.40 L357.50,530.49 L356.49,530.58 L355.49,530.67 L354.48,530.76 L353.47,530.85 L352.47,530.93 L351.46,531.01 L350.46,531.09 L349.46,531.17 L348.45,531.25 L347.45,531.32 L346.45,531.39 L345.45,531.46 L344.45,531.53 L343.44,531.59 L342.44,531.65 L341.44,531.71 L340.44,531.77 L339.44,531.83 L338.43,531.88 L337.43,531.93 L336.43,531.98 L335.43,532.03 L334.42,532.07 L333.42,532.11 L332.42,532.15 L331.41,532.19 L330.41,532.23 L329.40,532.26 L328.40,532.30 L327.40,532.33 L326.39,532.36 L325.39,532.39 L324.38,532.42 L323.38,532.44 L322.37,532.47 L321.37,532.49 L320.36,532.51 L319.36,532.53 L318.35,532.55 L317.34,532.57 L316.34,532.59 L315.33,532.60 L314.33,532.62 L313.32,532.63 L312.31,532.65 L311.31,532.66 L310.30,532.67 L309.30,532.68 L308.29,532.70 L307.28,532.71 L306.28,532.72 L305.27,532.73 L304.26,532.74 L303.26,532.75 L302.25,532.76 L301.25,532.76 L300.24,532.77 L299.23,532.78 L298.23,532.79 L297.22,532.80 L296.21,532.81 L295.21,532.82 L294.20,532.83 L293.20,532.84 L292.19,532.85 L291.18,532.86 L290.18,532.87 L289.17,532.88 L288.17,532.89 L287.16,532.90 L286.15,532.91 L285.15,532.92 L284.14,532.93 L283.14,532.94 L282.13,532.95 L281.13,532.97 L280.12,532.98 L279.11,532.99 L278.11,533.00 L277.10,533.01 L276.10,533.03 L275.09,533.04 L274.09,533.05 L273.08,533.06 L272.08,533.07 L271.07,533.09 L270.07,533.10 L269.06,533.11 L268.05,533.13 L267.05,533.14 L266.04,533.15 L265.04,533.17 L264.03,533.18 L263.03,533.19 L262.02,533.21 L261.02,533.22 L260.01,533.23 L259.01,533.25 L258.00,533.26 L257.00,533.28 L255.99,533.29 L254.99,533.31 L253.98,533.32 L252.98,533.34 L251.97,533.35 L250.97,533.37 L249.96,533.38 L248.96,533.40 L247.95,533.41 L246.95,533.43 L245.94,533.44 L244.94,533.46 L243.93,533.47 L242.93,533.49 L241.92,533.50 L240.91,533.52 L239.91,533.53 L238.90,533.55 L237.90,533.57 L236.89,533.58 L235.89,533.60 L234.88,533.61 L233.88,533.63 L232.87,533.65 L231.87,533.66 L230.86,533.68 L229.86,533.70 L228.85,533.71 L227.85,533.73 L226.84,533.74 L225.84,533.76 L224.83,533.78 L223.83,533.79 L222.82,533.81 L221.82,533.82 L220.81,533.84 L219.81,533.86 L218.80,533.87 L217.79,533.89 L216.79,533.90 L215.78,533.92 L214.78,533.94 L213.77,533.95 L212.77,533.97 L211.76,533.98 L210.76,534.00 L209.75,534.01 L208.75,534.03 L207.74,534.04 L206.74,534.06 L205.73,534.07 L204.72,534.09 L203.72,534.10 L202.71,534.12 L201.71,534.13 L200.70,534.14 L199.70,534.16 L198.69,534.17 L197.69,534.18 L196.68,534.20 L195.68,534.21 L194.67,534.22 L193.66,534.24 L192.66,534.25 L191.65,534.26 L190.65,534.27 L189.64,534.28 L188.64,534.29 L187.63,534.31 L186.63,534.32 L185.62,534.33 L184.61,534.34 L183.61,534.35 L182.60,534.36 L181.60,534.37 L180.59,534.38 L179.59,534.39 L178.58,534.39 L177.58,534.40 L176.57,534.41 L175.56,534.42 L174.56,534.43 L173.55,534.43 L172.55,534.44 L171.54,534.45 L170.54,534.45 L169.53,534.46 L168.52,534.46 L167.52,534.47 L166.51,534.47 L165.51,534.48 L164.50,534.48 L163.49,534.49 L162.49,534.49 L161.48,534.49 L160.48,534.49 L159.47,534.50 L158.47,534.50 L157.46,534.51 L156.45,534.52 L155.45,534.53 L154.44,534.54 L153.44,534.55 L152.43,534.57 L151.43,534.59 L150.42,534.61 L149.42,534.63 L148.41,534.66 L147.41,534.69 L146.40,534.73 L145.40,534.77 L144.39,534.82 L143.39,534.87 L142.39,534.92 L141.38,534.98 L140.38,535.04 L139.37,535.11 L138.37,535.18 L137.37,535.25 L136.37,535.33 L135.36,535.41 L134.36,535.50 L133.36,535.59 L132.36,535.68 L131.36,535.78 L130.36,535.88 L129.36,535.98 L128.36,536.09 L127.36,536.20 L126.36,536.32 L125.36,536.44 L124.36,536.56 L123.36,536.68 L122.37,536.81 L121.37,536.94 L120.37,537.07 L119.37,537.20 L118.38,537.33 L117.38,537.45 L116.38,537.58 L115.39,537.71 L114.39,537.84 L113.39,537.96 L112.39,538.08 L111.39,538.20 L110.40,538.32 L109.40,538.43 L108.40,538.55 L107.40,538.66 L106.40,538.77 L105.40,538.88 L104.40,538.99 L103.40,539.10" fill="none" stroke="#000000" stroke-width="2.0" stroke-linejoin="round" stroke-linecap="round"/>
<path d="M103.80,557.60 L103.76,556.59 L103.73,555.58 L103.69,554.57 L103.66,553.56 L103.63,552.55 L103.62,551.54 L103.60,550.53 L103.60,549.52 L103.60,548.51 L103.62,547.50 L103.65,546.49 L103.69,545.47 L103.75,544.46 L103.82,543.45 L103.91,542.44 L104.01,541.42 L104.14,540.41 L104.29,539.41 L104.46,538.41 L104.65,537.41 L104.87,536.43 L105.12,535.45 L105.40,534.48 L105.71,533.53 L106.05,532.58 L106.43,531.65 L106.83,530.74 L107.28,529.85 L107.76,528.99 L108.27,528.15 L108.83,527.35 L109.42,526.57 L110.06,525.84 L110.74,525.15 L111.45,524.50 L112.21,523.89 L113.01,523.33 L113.83,522.80 L114.69,522.30 L115.57,521.83 L116.46,521.39 L117.38,520.97 L118.30,520.57 L119.24,520.19 L120.18,519.82 L121.13,519.47 L122.09,519.13 L123.05,518.80 L124.02,518.48 L124.99,518.17 L125.96,517.86 L126.94,517.56 L127.91,517.26 L128.88,516.96 L129.85,516.67 L130.82,516.39 L131.79,516.12 L132.77,515.85 L133.74,515.60 L134.72,515.36 L135.70,515.14 L136.68,514.94 L137.66,514.75 L138.65,514.58 L139.64,514.43 L140.63,514.30 L141.63,514.18 L142.62,514.07 L143.62,513.98 L144.62,513.90 L145.62,513.83 L146.63,513.77 L147.63,513.72 L148.63,513.68 L149.64,513.64 L150.64,513.61 L151.64,513.59 L152.65,513.57 L153.66,513.55 L154.66,513.55 L155.67,513.54 L156.67,513.54 L157.68,513.54 L158.69,513.54 L159.69,513.54 L160.70,513.55 L161.71,513.55 L162.71,513.56 L163.72,513.56 L164.73,513.56 L165.73,513.56 L166.74,513.56 L167.75,513.56 L168.75,513.56 L169.76,513.55 L170.77,513.54 L171.77,513.54 L172.78,513.53 L173.78,513.52 L174.79,513.51 L175.79,513.49 L176.80,513.48 L177.81,513.46 L178.81,513.45 L179.82,513.43 L180.82,513.41 L181.83,513.40 L182.83,513.38 L183.84,513.36 L184.84,513.34 L185.85,513.32 L186.85,513.30 L187.86,513.27 L188.86,513.25 L189.87,513.23 L190.87,513.21 L191.87,513.18 L192.88,513.16 L193.88,513.14 L194.89,513.11 L195.89,513.09 L196.90,513.07 L197.90,513.04 L198.91,513.02 L199.91,512.99 L200.91,512.97 L201.92,512.95 L202.92,512.93 L203.93,512.90 L204.93,512.88 L205.94,512.86 L206.94,512.84 L207.95,512.82 L208.95,512.80 L209.95,512.78 L210.96,512.77 L211.96,512.75 L212.97,512.73 L213.97,512.72 L214.98,512.70 L215.98,512.69 L216.99,512.68 L217.99,512.66 L219.00,512.65 L220.00,512.64 L221.01,512.63 L222.01,512.63 L223.02,512.62 L224.02,512.61 L225.03,512.60 L226.03,512.60 L227.04,512.59 L228.04,512.59 L229.05,512.58 L230.05,512.58 L231.06,512.58 L232.06,512.57 L233.07,512.57 L234.07,512.57 L235.08,512.56 L236.08,512.56 L237.09,512.56 L238.09,512.56 L239.10,512.55 L240.10,512.55 L241.11,512.55 L242.12,512.55 L243.12,512.54 L244.13,512.54 L245.13,512.54 L246.14,512.54 L247.14,512.53 L248.15,512.53 L249.15,512.52 L250.16,512.52 L251.16,512.51 L252.17,512.51 L253.17,512.50 L254.18,512.50 L255.18,512.49 L256.19,512.48 L257.19,512.47 L258.20,512.46 L259.20,512.45 L260.21,512.44 L261.21,512.43 L262.22,512.42 L263.22,512.40 L264.23,512.39 L265.23,512.37 L266.24,512.36 L267.24,512.34 L268.25,512.32 L269.25,512.30 L270.26,512.28 L271.26,512.26 L272.27,512.23 L273.27,512.21 L274.28,512.18 L275.28,512.15 L276.28,512.13 L277.29,512.10 L278.29,512.07 L279.30,512.04 L280.30,512.01 L281.31,511.97 L282.31,511.94 L283.32,511.91 L284.32,511.87 L285.32,511.84 L286.33,511.80 L287.33,511.77 L288.34,511.73 L289.34,511.70 L290.35,511.66 L291.35,511.62 L292.36,511.59 L293.36,511.55 L294.36,511.51 L295.37,511.47 L296.37,511.44 L297.38,511.40 L298.38,511.36 L299.39,511.32 L300.39,511.29 L301.40,511.25 L302.40,511.21 L303.41,511.17 L304.41,511.14 L305.42,511.10 L306.42,511.07 L307.43,511.03 L308.43,511.00 L309.44,510.96 L310.44,510.93 L311.45,510.90 L312.45,510.87 L313.46,510.83 L314.46,510.80 L315.47,510.77 L316.47,510.73 L317.48,510.70 L318.48,510.66 L319.49,510.62 L320.49,510.57 L321.49,510.53 L322.50,510.48 L323.50,510.42 L324.51,510.37 L325.51,510.31 L326.51,510.24 L327.51,510.17 L328.51,510.09 L329.51,510.00 L330.51,509.91 L331.51,509.82 L332.51,509.71 L333.51,509.61 L334.51,509.49 L335.51,509.37 L336.50,509.25 L337.50,509.12 L338.50,508.98 L339.49,508.85 L340.49,508.70 L341.48,508.56 L342.48,508.41 L343.47,508.25 L344.46,508.10 L345.46,507.94 L346.45,507.78 L347.44,507.62 L348.44,507.45 L349.43,507.29 L350.42,507.12 L351.41,506.95 L352.40,506.78 L353.39,506.61 L354.38,506.44 L355.37,506.26 L356.36,506.09 L357.35,505.92 L358.34,505.74 L359.33,505.57 L360.32,505.39 L361.31,505.21 L362.30,505.04 L363.29,504.86 L364.28,504.69 L365.27,504.51 L366.26,504.34 L367.25,504.16 L368.24,503.99 L369.23,503.81 L370.22,503.64 L371.21,503.46 L372.20,503.27 L373.19,503.09 L374.17,502.90 L375.16,502.71 L376.15,502.51 L377.13,502.30 L378.11,502.09 L379.09,501.87 L380.07,501.64 L381.04,501.41 L382.02,501.16 L382.99,500.91 L383.96,500.65 L384.93,500.39 L385.90,500.12 L386.87,499.85 L387.83,499.58 L388.80,499.30 M388.80,499.30 L388.85,500.31 L388.90,501.32 L388.95,502.34 L389.00,503.35 L389.04,504.36 L389.07,505.37 L389.09,506.38 L389.11,507.40 L389.11,508.41 L389.11,509.43 L389.08,510.44 L389.05,511.45 L388.99,512.47 L388.92,513.48 L388.83,514.49 L388.71,515.49 L388.56,516.49 L388.38,517.47 L388.17,518.45 L387.92,519.41 L387.63,520.36 L387.31,521.30 L386.94,522.21 L386.53,523.10 L386.08,523.97 L385.58,524.81 L385.04,525.62 L384.45,526.39 L383.81,527.13 L383.14,527.84 L382.43,528.51 L381.68,529.15 L380.90,529.76 L380.09,530.33 L379.27,530.88 L378.42,531.40 L377.55,531.89 L376.66,532.35 L375.75,532.79 L374.83,533.20 L373.90,533.60 L372.95,533.97 L372.00,534.32 L371.03,534.66 L370.06,534.97 L369.08,535.28 L368.09,535.57 L367.11,535.85 L366.12,536.11 L365.13,536.37 L364.15,536.62 L363.16,536.86 L362.17,537.09 L361.18,537.32 L360.19,537.53 L359.20,537.74 L358.21,537.94 L357.22,538.13 L356.23,538.32 L355.24,538.50 L354.25,538.67 L353.26,538.84 L352.27,539.00 L351.28,539.15 L350.29,539.30 L349.30,539.45 L348.30,539.59 L347.31,539.72 L346.31,539.86 L345.32,539.98 L344.32,540.11 L343.33,540.23 L342.33,540.34 L341.33,540.45 L340.33,540.56 L339.34,540.66 L338.34,540.75 L337.34,540.85 L336.34,540.93 L335.34,541.02 L334.34,541.10 L333.34,541.18 L332.34,541.25 L331.34,541.33 L330.34,541.39 L329.33,541.46 L328.33,541.52 L327.33,541.59 L326.33,541.64 L325.32,541.70 L324.32,541.76 L323.32,541.81 L322.32,541.86 L321.31,541.91 L320.31,541.96 L319.30,542.01 L318.30,542.06 L317.30,542.10 L316.29,542.15 L315.29,542.20 L314.29,542.24 L313.28,542.29 L312.28,542.33 L311.28,542.38 L310.27,542.43 L309.27,542.48 L308.27,542.52 L307.26,542.57 L306.26,542.62 L305.26,542.67 L304.25,542.72 L303.25,542.77 L302.25,542.82 L301.24,542.87 L300.24,542.93 L299.24,542.98 L298.24,543.03 L297.23,543.08 L296.23,543.14 L295.23,543.19 L294.22,543.24 L293.22,543.30 L292.22,543.35 L291.22,543.40 L290.21,543.46 L289.21,543.51 L288.21,543.56 L287.21,543.62 L286.20,543.67 L285.20,543.72 L284.20,543.77 L283.20,543.83 L282.19,543.88 L281.19,543.93 L280.19,543.98 L279.19,544.03 L278.18,544.08 L277.18,544.13 L276.18,544.18 L275.18,544.23 L274.17,544.28 L273.17,544.33 L272.17,544.37 L271.17,544.42 L270.16,544.47 L269.16,544.51 L268.16,544.56 L267.15,544.60 L266.15,544.64 L265.15,544.69 L264.14,544.73 L263.14,544.77 L262.14,544.81 L261.13,544.85 L260.13,544.89 L259.13,544.93 L258.12,544.96 L257.12,545.00 L256.12,545.04 L255.11,545.08 L254.11,545.11 L253.11,545.15 L252.10,545.19 L251.10,545.22 L250.10,545.26 L249.09,545.29 L248.09,545.33 L247.09,545.36 L246.08,545.39 L245.08,545.43 L244.08,545.46 L243.07,545.50 L242.07,545.53 L241.06,545.56 L240.06,545.60 L239.06,545.63 L238.05,545.66 L237.05,545.70 L236.05,545.73 L235.04,545.77 L234.04,545.80 L233.04,545.83 L232.03,545.87 L231.03,545.90 L230.03,545.94 L229.02,545.97 L228.02,546.01 L227.02,546.04 L226.01,546.08 L225.01,546.11 L224.01,546.15 L223.00,546.18 L222.00,546.22 L221.00,546.26 L219.99,546.30 L218.99,546.34 L217.99,546.37 L216.99,546.41 L215.98,546.45 L214.98,546.49 L213.98,546.53 L212.97,546.58 L211.97,546.62 L210.97,546.66 L209.97,546.70 L208.96,546.75 L207.96,546.79 L206.96,546.83 L205.96,546.88 L204.95,546.92 L203.95,546.97 L202.95,547.01 L201.95,547.05 L200.94,547.10 L199.94,547.14 L198.94,547.19 L197.94,547.23 L196.93,547.27 L195.93,547.31 L194.93,547.36 L193.93,547.40 L192.92,547.44 L191.92,547.48 L190.92,547.52 L189.92,547.56 L188.91,547.60 L187.91,547.64 L186.91,547.67 L185.90,547.71 L184.90,547.75 L183.90,547.78 L182.89,547.81 L181.89,547.85 L180.89,547.88 L179.88,547.91 L178.88,547.93 L177.87,547.96 L176.87,547.99 L175.87,548.01 L174.86,548.03 L173.86,548.06 L172.85,548.08 L171.85,548.09 L170.84,548.11 L169.84,548.12 L168.83,548.14 L167.82,548.15 L166.82,548.16 L165.81,548.16 L164.81,548.17 L163.80,548.17 L162.79,548.17 L161.79,548.17 L160.78,548.17 L159.77,548.17 L158.77,548.16 L157.76,548.16 L156.75,548.16 L155.74,548.16 L154.74,548.16 L153.73,548.16 L152.72,548.16 L151.72,548.17 L150.71,548.18 L149.71,548.19 L148.70,548.21 L147.70,548.23 L146.69,548.26 L145.69,548.29 L144.69,548.33 L143.68,548.38 L142.68,548.43 L141.68,548.49 L140.68,548.55 L139.68,548.62 L138.68,548.71 L137.68,548.80 L136.69,548.90 L135.69,549.01 L134.70,549.13 L133.70,549.26 L132.71,549.40 L131.72,549.56 L130.74,549.74 L129.76,549.93 L128.78,550.13 L127.80,550.36 L126.83,550.60 L125.87,550.86 L124.91,551.14 L123.95,551.43 L122.99,551.73 L122.04,552.05 L121.09,552.37 L120.14,552.69 L119.19,553.02 L118.24,553.34 L117.29,553.67 L116.34,553.99 L115.38,554.31 L114.43,554.62 L113.47,554.93 L112.51,555.23 L111.55,555.52 L110.59,555.80 L109.63,556.08 L108.66,556.35 L107.69,556.61 L106.72,556.86 L105.75,557.11 L104.77,557.36 L103.80,557.60" fill="none" stroke="#FF0000" stroke-width="2.0" stroke-linejoin="round" stroke-linecap="round"/>
<path d="M103.40,588.80 L103.44,587.80 L103.48,586.79 L103.52,585.79 L103.56,584.79 L103.61,583.78 L103.66,582.78 L103.71,581.78 L103.76,580.78 L103.82,579.77 L103.88,578.77 L103.95,577.77 L104.03,576.77 L104.10,575.77 L104.18,574.77 L104.26,573.77 L104.34,572.77 L104.41,571.77 L104.49,570.77 L104.56,569.76 L104.63,568.76 L104.70,567.76 L104.76,566.76 L104.83,565.76 L104.89,564.75 L104.96,563.75 L105.02,562.75 L105.09,561.75 L105.15,560.74 L105.22,559.74 L105.29,558.74 L105.37,557.74 L105.44,556.74 L105.52,555.73 L105.60,554.73 L105.69,553.73 L105.78,552.73 L105.88,551.73 L105.98,550.73 L106.08,549.73 L106.19,548.74 L106.31,547.74 L106.43,546.74 L106.57,545.75 L106.70,544.75 L106.85,543.76 L107.00,542.77 L107.16,541.77 L107.33,540.78 L107.51,539.80 L107.70,538.81 L107.89,537.82 L108.10,536.84 L108.31,535.86 L108.53,534.87 L108.76,533.90 L109.00,532.92 L109.25,531.94 L109.51,530.97 L109.78,530.00 L110.06,529.03 L110.35,528.07 L110.65,527.10 L110.97,526.15 L111.29,525.19 L111.63,524.24 L111.98,523.29 L112.34,522.35 L112.72,521.42 L113.12,520.49 L113.53,519.57 L113.95,518.66 L114.40,517.76 L114.87,516.88 L115.36,516.00 L115.87,515.14 L116.40,514.30 L116.95,513.47 L117.53,512.66 L118.13,511.87 L118.76,511.10 L119.41,510.35 L120.09,509.62 L120.79,508.92 L121.52,508.24 L122.27,507.58 L123.03,506.95 L123.82,506.33 L124.62,505.72 L125.43,505.13 L126.25,504.55 L127.08,503.97 L127.91,503.40 L128.75,502.84 L129.59,502.28 L130.43,501.72 L131.27,501.15 L132.11,500.60 L132.95,500.04 L133.80,499.49 L134.65,498.95 L135.51,498.42 L136.37,497.89 L137.23,497.38 L138.11,496.88 L138.99,496.40 L139.87,495.93 L140.77,495.48 L141.67,495.05 L142.58,494.63 L143.50,494.24 L144.43,493.88 L145.37,493.54 L146.32,493.22 L147.27,492.93 L148.23,492.67 L149.20,492.43 L150.17,492.21 L151.15,492.01 L152.13,491.84 L153.12,491.69 L154.11,491.56 L155.11,491.45 L156.10,491.36 L157.10,491.28 L158.11,491.21 L159.11,491.16 L160.11,491.12 L161.12,491.09 L162.13,491.07 L163.14,491.05 L164.15,491.04 L165.16,491.02 L166.17,491.01 L167.18,491.00 L168.19,490.99 L169.20,490.97 L170.21,490.95 L171.22,490.92 L172.22,490.89 L173.23,490.86 L174.24,490.82 L175.24,490.78 L176.25,490.74 L177.25,490.69 L178.26,490.65 L179.26,490.60 L180.26,490.55 L181.27,490.49 L182.27,490.44 L183.27,490.38 L184.28,490.32 L185.28,490.26 L186.28,490.20 L187.28,490.14 L188.28,490.08 L189.28,490.02 L190.29,489.96 L191.29,489.90 L192.29,489.83 L193.29,489.77 L194.29,489.71 L195.29,489.65 L196.29,489.59 L197.29,489.53 L198.29,489.47 L199.30,489.41 L200.30,489.36 L201.30,489.30 L202.30,489.25 L203.30,489.20 L204.30,489.15 L205.31,489.10 L206.31,489.06 L207.31,489.01 L208.31,488.97 L209.32,488.93 L210.32,488.89 L211.32,488.85 L212.33,488.82 L213.33,488.78 L214.33,488.75 L215.34,488.72 L216.34,488.69 L217.34,488.66 L218.35,488.63 L219.35,488.61 L220.36,488.58 L221.36,488.56 L222.37,488.53 L223.37,488.51 L224.37,488.49 L225.38,488.47 L226.38,488.46 L227.39,488.44 L228.39,488.42 L229.40,488.41 L230.40,488.39 L231.41,488.38 L232.41,488.37 L233.42,488.36 L234.42,488.35 L235.43,488.34 L236.43,488.33 L237.43,488.33 L238.44,488.32 L239.44,488.31 L240.45,488.31 L241.45,488.30 L242.46,488.30 L243.46,488.30 L244.47,488.30 L245.47,488.29 L246.48,488.29 L247.48,488.29 L248.49,488.29 L249.49,488.29 L250.50,488.29 L251.50,488.29 L252.50,488.29 L253.51,488.29 L254.51,488.29 L255.52,488.29 L256.52,488.29 L257.53,488.29 L258.53,488.29 L259.54,488.29 L260.54,488.29 L261.54,488.29 L262.55,488.29 L263.55,488.29 L264.56,488.29 L265.56,488.29 L266.56,488.28 L267.57,488.28 L268.57,488.28 L269.58,488.27 L270.58,488.26 L271.59,488.26 L272.59,488.25 L273.59,488.24 L274.60,488.23 L275.60,488.22 L276.60,488.21 L277.61,488.20 L278.61,488.18 L279.62,488.16 L280.62,488.15 L281.62,488.13 L282.63,488.11 L283.63,488.09 L284.64,488.06 L285.64,488.04 L286.64,488.01 L287.65,487.99 L288.65,487.96 L289.65,487.93 L290.66,487.89 L291.66,487.86 L292.66,487.82 L293.67,487.79 L294.67,487.75 L295.67,487.71 L296.68,487.66 L297.68,487.62 L298.68,487.58 L299.69,487.53 L300.69,487.48 L301.69,487.43 L302.70,487.38 L303.70,487.33 L304.70,487.27 L305.71,487.22 L306.71,487.16 L307.71,487.10 L308.72,487.04 L309.72,486.98 L310.72,486.91 L311.73,486.85 L312.73,486.78 L313.73,486.71 L314.74,486.64 L315.74,486.56 L316.74,486.48 L317.74,486.40 L318.74,486.31 L319.74,486.22 L320.74,486.13 L321.74,486.02 L322.74,485.92 L323.74,485.81 L324.73,485.69 L325.73,485.56 L326.73,485.43 L327.72,485.29 L328.71,485.15 L329.70,484.99 L330.69,484.83 L331.68,484.66 L332.67,484.48 L333.65,484.30 L334.64,484.11 L335.62,483.91 L336.61,483.71 L337.59,483.51 L338.57,483.30 L339.55,483.08 L340.53,482.87 L341.51,482.65 L342.49,482.43 L343.48,482.21 L344.46,481.98 L345.44,481.76 L346.42,481.54 L347.40,481.32 L348.38,481.10 L349.36,480.88 L350.34,480.66 L351.32,480.44 L352.30,480.23 L353.28,480.01 L354.27,479.80 L355.25,479.58 L356.23,479.36 L357.21,479.14 L358.19,478.92 L359.17,478.70 L360.14,478.47 L361.12,478.24 L362.10,478.01 L363.07,477.77 L364.05,477.53 L365.02,477.28 L365.99,477.03 L366.97,476.78 L367.93,476.51 L368.90,476.25 L369.87,475.97 L370.83,475.69 L371.79,475.41 L372.76,475.11 L373.71,474.82 L374.67,474.51 L375.63,474.21 L376.58,473.89 L377.53,473.57 L378.48,473.24 L379.43,472.91 L380.37,472.57 L381.31,472.22 L382.25,471.87 L383.19,471.51 L384.13,471.15 L385.07,470.78 L386.00,470.42 L386.93,470.05 L387.87,469.67 L388.80,469.30 M388.80,469.30 L388.77,470.30 L388.73,471.31 L388.70,472.31 L388.66,473.31 L388.63,474.31 L388.59,475.32 L388.55,476.32 L388.51,477.32 L388.47,478.32 L388.43,479.33 L388.38,480.33 L388.33,481.33 L388.28,482.33 L388.23,483.33 L388.17,484.33 L388.10,485.33 L388.03,486.33 L387.95,487.33 L387.87,488.33 L387.77,489.33 L387.67,490.33 L387.56,491.32 L387.45,492.32 L387.32,493.31 L387.20,494.31 L387.07,495.30 L386.93,496.30 L386.80,497.29 L386.66,498.28 L386.52,499.28 L386.39,500.27 L386.25,501.27 L386.12,502.26 L385.99,503.26 L385.86,504.25 L385.73,505.25 L385.60,506.25 L385.47,507.24 L385.34,508.24 L385.20,509.23 L385.06,510.22 L384.92,511.22 L384.77,512.21 L384.61,513.20 L384.44,514.19 L384.27,515.18 L384.09,516.17 L383.89,517.15 L383.69,518.14 L383.47,519.12 L383.25,520.10 L383.01,521.07 L382.76,522.05 L382.50,523.02 L382.22,523.98 L381.92,524.94 L381.62,525.90 L381.29,526.85 L380.95,527.80 L380.60,528.74 L380.23,529.68 L379.84,530.61 L379.43,531.53 L379.01,532.44 L378.57,533.35 L378.12,534.24 L377.64,535.13 L377.15,536.01 L376.64,536.88 L376.11,537.73 L375.57,538.57 L375.00,539.40 L374.41,540.21 L373.80,541.00 L373.17,541.78 L372.52,542.53 L371.85,543.26 L371.15,543.97 L370.43,544.66 L369.68,545.31 L368.92,545.95 L368.13,546.56 L367.33,547.15 L366.50,547.72 L365.67,548.27 L364.82,548.80 L363.96,549.31 L363.09,549.81 L362.21,550.29 L361.32,550.76 L360.42,551.21 L359.51,551.65 L358.60,552.07 L357.68,552.48 L356.75,552.87 L355.82,553.25 L354.88,553.62 L353.94,553.98 L352.99,554.33 L352.03,554.66 L351.08,554.99 L350.12,555.30 L349.16,555.60 L348.19,555.89 L347.23,556.18 L346.26,556.45 L345.29,556.72 L344.31,556.98 L343.34,557.23 L342.37,557.47 L341.39,557.70 L340.41,557.93 L339.43,558.15 L338.45,558.37 L337.47,558.57 L336.48,558.78 L335.50,558.97 L334.51,559.17 L333.53,559.36 L332.54,559.54 L331.55,559.72 L330.56,559.90 L329.58,560.07 L328.59,560.24 L327.60,560.41 L326.61,560.57 L325.62,560.73 L324.63,560.89 L323.64,561.05 L322.64,561.21 L321.65,561.36 L320.66,561.51 L319.67,561.66 L318.68,561.80 L317.68,561.94 L316.69,562.09 L315.70,562.23 L314.70,562.36 L313.71,562.50 L312.71,562.63 L311.72,562.77 L310.72,562.90 L309.73,563.03 L308.74,563.15 L307.74,563.28 L306.74,563.40 L305.75,563.53 L304.75,563.65 L303.76,563.76 L302.76,563.88 L301.76,563.99 L300.77,564.10 L299.77,564.20 L298.77,564.30 L297.77,564.40 L296.78,564.50 L295.78,564.59 L294.78,564.67 L293.78,564.76 L292.78,564.84 L291.78,564.92 L290.78,565.00 L289.78,565.07 L288.78,565.15 L287.78,565.22 L286.78,565.29 L285.78,565.35 L284.78,565.42 L283.78,565.48 L282.78,565.54 L281.77,565.60 L280.77,565.66 L279.77,565.72 L278.77,565.78 L277.77,565.84 L276.77,565.90 L275.76,565.95 L274.76,566.01 L273.76,566.07 L272.76,566.12 L271.76,566.18 L270.75,566.24 L269.75,566.29 L268.75,566.35 L267.75,566.41 L266.75,566.47 L265.75,566.53 L264.74,566.59 L263.74,566.65 L262.74,566.72 L261.74,566.78 L260.74,566.85 L259.74,566.92 L258.74,566.99 L257.74,567.07 L256.74,567.14 L255.74,567.22 L254.74,567.30 L253.74,567.38 L252.74,567.47 L251.74,567.56 L250.74,567.65 L249.74,567.74 L248.74,567.83 L247.74,567.93 L246.75,568.02 L245.75,568.12 L244.75,568.22 L243.75,568.32 L242.75,568.42 L241.76,568.53 L240.76,568.63 L239.76,568.73 L238.76,568.84 L237.77,568.94 L236.77,569.05 L235.77,569.16 L234.77,569.26 L233.78,569.37 L232.78,569.47 L231.78,569.58 L230.78,569.68 L229.78,569.79 L228.79,569.89 L227.79,570.00 L226.79,570.10 L225.79,570.20 L224.80,570.30 L223.80,570.40 L222.80,570.50 L221.80,570.59 L220.80,570.69 L219.80,570.78 L218.80,570.88 L217.81,570.97 L216.81,571.06 L215.81,571.15 L214.81,571.24 L213.81,571.33 L212.81,571.41 L211.81,571.50 L210.81,571.58 L209.81,571.67 L208.81,571.75 L207.81,571.84 L206.81,571.92 L205.81,572.00 L204.81,572.08 L203.81,572.16 L202.81,572.24 L201.81,572.32 L200.81,572.40 L199.81,572.48 L198.81,572.56 L197.81,572.64 L196.81,572.72 L195.81,572.80 L194.81,572.88 L193.81,572.96 L192.81,573.03 L191.81,573.11 L190.81,573.19 L189.81,573.27 L188.81,573.35 L187.81,573.43 L186.81,573.51 L185.81,573.59 L184.81,573.66 L183.81,573.74 L182.81,573.82 L181.81,573.89 L180.81,573.97 L179.81,574.05 L178.81,574.12 L177.81,574.19 L176.81,574.27 L175.81,574.34 L174.81,574.41 L173.81,574.48 L172.81,574.55 L171.81,574.62 L170.81,574.68 L169.81,574.75 L168.80,574.81 L167.80,574.88 L166.80,574.94 L165.80,575.00 L164.80,575.05 L163.80,575.11 L162.80,575.16 L161.80,575.21 L160.80,575.26 L159.79,575.31 L158.79,575.36 L157.79,575.40 L156.79,575.45 L155.79,575.49 L154.78,575.53 L153.78,575.56 L152.78,575.60 L151.77,575.63 L150.77,575.66 L149.76,575.69 L148.76,575.72 L147.75,575.74 L146.74,575.76 L145.73,575.79 L144.73,575.81 L143.72,575.83 L142.71,575.86 L141.71,575.89 L140.70,575.93 L139.69,575.97 L138.69,576.02 L137.69,576.08 L136.68,576.14 L135.68,576.22 L134.69,576.31 L133.69,576.41 L132.70,576.52 L131.70,576.65 L130.71,576.79 L129.73,576.96 L128.75,577.14 L127.77,577.34 L126.80,577.55 L125.83,577.80 L124.87,578.06 L123.92,578.35 L122.97,578.66 L122.03,579.00 L121.11,579.36 L120.19,579.75 L119.27,580.15 L118.36,580.57 L117.46,581.00 L116.56,581.45 L115.67,581.91 L114.78,582.38 L113.90,582.86 L113.01,583.34 L112.13,583.82 L111.26,584.32 L110.38,584.81 L109.51,585.31 L108.63,585.81 L107.76,586.31 L106.89,586.81 L106.02,587.30 L105.14,587.80 L104.27,588.30 L103.40,588.80" fill="none" stroke="#0000FF" stroke-width="2.0" stroke-linejoin="round" stroke-linecap="round"/>
<path d="M103.40,624.30 L103.46,623.30 L103.51,622.29 L103.57,621.29 L103.62,620.29 L103.68,619.29 L103.73,618.28 L103.79,617.28 L103.84,616.28 L103.90,615.27 L103.95,614.27 L104.00,613.27 L104.05,612.26 L104.10,611.26 L104.15,610.26 L104.20,609.25 L104.24,608.25 L104.29,607.25 L104.33,606.24 L104.37,605.24 L104.42,604.24 L104.46,603.23 L104.50,602.23 L104.54,601.23 L104.59,600.22 L104.63,599.22 L104.68,598.21 L104.73,597.21 L104.79,596.21 L104.84,595.21 L104.90,594.20 L104.96,593.20 L105.03,592.20 L105.10,591.20 L105.18,590.20 L105.26,589.20 L105.35,588.20 L105.44,587.20 L105.54,586.20 L105.64,585.20 L105.75,584.20 L105.86,583.20 L105.98,582.20 L106.10,581.21 L106.23,580.21 L106.36,579.22 L106.49,578.22 L106.64,577.23 L106.78,576.23 L106.92,575.24 L107.07,574.25 L107.22,573.25 L107.36,572.26 L107.51,571.27 L107.65,570.27 L107.78,569.28 L107.92,568.28 L108.05,567.29 L108.19,566.29 L108.32,565.29 L108.45,564.30 L108.59,563.30 L108.72,562.31 L108.86,561.31 L109.00,560.32 L109.14,559.32 L109.28,558.33 L109.43,557.34 L109.58,556.34 L109.73,555.35 L109.88,554.36 L110.04,553.37 L110.20,552.38 L110.36,551.38 L110.52,550.39 L110.68,549.40 L110.84,548.41 L111.01,547.42 L111.17,546.43 L111.34,545.44 L111.51,544.45 L111.67,543.46 L111.84,542.47 L112.01,541.48 L112.17,540.48 L112.34,539.49 L112.51,538.50 L112.67,537.51 L112.84,536.52 L113.01,535.53 L113.18,534.54 L113.35,533.55 L113.52,532.56 L113.69,531.57 L113.86,530.58 L114.04,529.59 L114.21,528.60 L114.39,527.62 L114.57,526.63 L114.75,525.64 L114.93,524.65 L115.12,523.67 L115.32,522.68 L115.51,521.70 L115.72,520.71 L115.93,519.73 L116.15,518.75 L116.37,517.77 L116.60,516.80 L116.84,515.82 L117.09,514.85 L117.34,513.88 L117.60,512.91 L117.86,511.94 L118.12,510.97 L118.38,510.00 L118.64,509.03 L118.90,508.05 L119.16,507.08 L119.42,506.11 L119.68,505.14 L119.94,504.17 L120.20,503.20 L120.47,502.23 L120.74,501.26 L121.04,500.31 L121.34,499.35 L121.67,498.41 L122.02,497.47 L122.39,496.54 L122.78,495.62 L123.19,494.71 L123.63,493.81 L124.08,492.92 L124.56,492.04 L125.05,491.17 L125.56,490.31 L126.10,489.46 L126.64,488.62 L127.21,487.80 L127.79,486.98 L128.39,486.17 L129.01,485.38 L129.64,484.59 L130.28,483.82 L130.93,483.06 L131.60,482.31 L132.28,481.56 L132.97,480.83 L133.68,480.11 L134.39,479.39 L135.11,478.69 L135.84,477.99 L136.58,477.30 L137.32,476.62 L138.07,475.95 L138.83,475.28 L139.60,474.63 L140.38,473.98 L141.16,473.35 L141.95,472.72 L142.75,472.10 L143.55,471.50 L144.36,470.91 L145.19,470.33 L146.02,469.76 L146.85,469.21 L147.70,468.68 L148.56,468.16 L149.43,467.67 L150.30,467.20 L151.19,466.75 L152.10,466.34 L153.01,465.95 L153.94,465.59 L154.87,465.25 L155.82,464.94 L156.78,464.65 L157.74,464.38 L158.71,464.13 L159.69,463.89 L160.66,463.66 L161.64,463.43 L162.63,463.22 L163.61,463.01 L164.60,462.81 L165.59,462.62 L166.58,462.43 L167.57,462.25 L168.56,462.07 L169.55,461.89 L170.54,461.72 L171.53,461.55 L172.53,461.39 L173.52,461.23 L174.51,461.07 L175.51,460.91 L176.50,460.76 L177.49,460.61 L178.49,460.46 L179.48,460.31 L180.47,460.17 L181.47,460.02 L182.46,459.88 L183.46,459.74 L184.45,459.60 L185.45,459.46 L186.44,459.32 L187.44,459.18 L188.43,459.04 L189.43,458.90 L190.42,458.76 L191.42,458.63 L192.41,458.49 L193.41,458.35 L194.40,458.22 L195.40,458.08 L196.39,457.95 L197.39,457.81 L198.38,457.68 L199.38,457.55 L200.37,457.42 L201.37,457.29 L202.37,457.16 L203.36,457.03 L204.36,456.91 L205.36,456.78 L206.35,456.66 L207.35,456.54 L208.35,456.42 L209.35,456.30 L210.34,456.19 L211.34,456.07 L212.34,455.96 L213.34,455.85 L214.34,455.74 L215.34,455.64 L216.33,455.53 L217.33,455.43 L218.33,455.33 L219.33,455.24 L220.33,455.14 L221.33,455.05 L222.33,454.96 L223.34,454.88 L224.34,454.79 L225.34,454.71 L226.34,454.63 L227.34,454.55 L228.34,454.48 L229.34,454.41 L230.35,454.34 L231.35,454.27 L232.35,454.20 L233.35,454.14 L234.36,454.08 L235.36,454.02 L236.36,453.97 L237.37,453.92 L238.37,453.87 L239.37,453.82 L240.38,453.78 L241.38,453.73 L242.38,453.69 L243.39,453.66 L244.39,453.62 L245.39,453.59 L246.40,453.56 L247.40,453.53 L248.41,453.51 L249.41,453.49 L250.41,453.47 L251.42,453.45 L252.42,453.43 L253.43,453.42 L254.43,453.40 L255.43,453.39 L256.44,453.39 L257.44,453.38 L258.45,453.37 L259.45,453.37 L260.46,453.37 L261.46,453.37 L262.47,453.37 L263.47,453.37 L264.48,453.37 L265.48,453.38 L266.49,453.38 L267.49,453.39 L268.50,453.40 L269.50,453.41 L270.51,453.42 L271.51,453.43 L272.52,453.44 L273.52,453.46 L274.53,453.47 L275.53,453.48 L276.54,453.49 L277.54,453.50 L278.55,453.51 L279.55,453.52 L280.56,453.53 L281.56,453.53 L282.57,453.54 L283.57,453.54 L284.57,453.54 L285.58,453.54 L286.58,453.53 L287.59,453.52 L288.59,453.51 L289.60,453.50 L290.60,453.48 L291.60,453.46 L292.61,453.43 L293.61,453.40 L294.61,453.36 L295.62,453.32 L296.62,453.28 L297.62,453.23 L298.62,453.17 L299.62,453.11 L300.63,453.05 L301.63,452.98 L302.63,452.91 L303.63,452.83 L304.63,452.76 L305.63,452.68 L306.63,452.59 L307.63,452.51 L308.64,452.42 L309.64,452.34 L310.64,452.25 L311.64,452.16 L312.64,452.07 L313.64,451.98 L314.64,451.90 L315.64,451.81 L316.64,451.72 L317.65,451.64 L318.65,451.56 L319.65,451.48 L320.65,451.40 L321.65,451.32 L322.65,451.24 L323.65,451.15 L324.65,451.07 L325.65,450.98 L326.65,450.89 L327.65,450.79 L328.65,450.69 L329.65,450.59 L330.65,450.48 L331.65,450.36 L332.64,450.23 L333.64,450.10 L334.63,449.97 L335.63,449.82 L336.62,449.68 L337.61,449.52 L338.60,449.37 L339.60,449.20 L340.59,449.04 L341.58,448.86 L342.57,448.69 L343.55,448.51 L344.54,448.32 L345.53,448.14 L346.52,447.94 L347.50,447.75 L348.49,447.55 L349.48,447.35 L350.46,447.14 L351.45,446.94 L352.43,446.72 L353.41,446.51 L354.39,446.28 L355.37,446.06 L356.35,445.82 L357.33,445.59 L358.30,445.34 L359.27,445.09 L360.25,444.84 L361.22,444.57 L362.18,444.30 L363.15,444.03 L364.11,443.74 L365.07,443.45 L366.03,443.14 L366.99,442.83 L367.94,442.52 L368.89,442.19 L369.83,441.85 L370.78,441.51 L371.72,441.15 L372.65,440.79 L373.58,440.41 L374.51,440.03 L375.44,439.64 L376.35,439.23 L377.27,438.82 L378.18,438.40 L379.09,437.96 L379.99,437.52 L380.88,437.07 L381.77,436.61 L382.66,436.14 L383.54,435.66 L384.42,435.17 L385.30,434.69 L386.18,434.19 L387.05,433.70 L387.93,433.20 L388.80,432.70 M388.80,432.70 L388.78,433.70 L388.76,434.71 L388.74,435.71 L388.72,436.71 L388.69,437.72 L388.67,438.72 L388.65,439.72 L388.62,440.72 L388.59,441.73 L388.56,442.73 L388.53,443.73 L388.49,444.73 L388.46,445.74 L388.42,446.74 L388.37,447.74 L388.32,448.74 L388.27,449.74 L388.22,450.75 L388.16,451.75 L388.10,452.75 L388.04,453.75 L387.98,454.75 L387.91,455.75 L387.84,456.75 L387.77,457.75 L387.70,458.75 L387.63,459.75 L387.55,460.75 L387.47,461.75 L387.39,462.75 L387.31,463.75 L387.23,464.75 L387.15,465.75 L387.06,466.75 L386.98,467.75 L386.89,468.75 L386.79,469.75 L386.70,470.75 L386.60,471.75 L386.50,472.75 L386.40,473.74 L386.30,474.74 L386.19,475.74 L386.08,476.74 L385.96,477.73 L385.85,478.73 L385.73,479.72 L385.60,480.72 L385.48,481.72 L385.35,482.71 L385.22,483.70 L385.08,484.70 L384.95,485.69 L384.81,486.69 L384.67,487.68 L384.52,488.67 L384.38,489.66 L384.23,490.66 L384.08,491.65 L383.92,492.64 L383.77,493.63 L383.62,494.62 L383.46,495.61 L383.31,496.60 L383.16,497.60 L383.01,498.59 L382.86,499.58 L382.71,500.57 L382.57,501.56 L382.43,502.56 L382.29,503.55 L382.16,504.55 L382.02,505.54 L381.89,506.53 L381.75,507.53 L381.62,508.52 L381.49,509.52 L381.35,510.51 L381.21,511.51 L381.07,512.50 L380.92,513.49 L380.78,514.48 L380.62,515.48 L380.46,516.47 L380.30,517.46 L380.13,518.44 L379.95,519.43 L379.77,520.42 L379.58,521.40 L379.38,522.39 L379.18,523.37 L378.97,524.35 L378.75,525.33 L378.53,526.30 L378.29,527.28 L378.05,528.25 L377.79,529.22 L377.53,530.18 L377.27,531.15 L376.99,532.11 L376.71,533.08 L376.42,534.04 L376.13,535.00 L375.83,535.96 L375.53,536.92 L375.23,537.87 L374.93,538.83 L374.63,539.79 L374.32,540.75 L374.02,541.71 L373.72,542.67 L373.41,543.63 L373.11,544.59 L372.80,545.54 L372.49,546.50 L372.17,547.46 L371.85,548.41 L371.53,549.36 L371.19,550.31 L370.85,551.26 L370.51,552.20 L370.15,553.15 L369.79,554.08 L369.41,555.02 L369.02,555.94 L368.61,556.86 L368.19,557.77 L367.75,558.67 L367.29,559.55 L366.80,560.43 L366.30,561.29 L365.76,562.13 L365.21,562.96 L364.62,563.76 L364.02,564.56 L363.39,565.33 L362.74,566.09 L362.06,566.83 L361.37,567.55 L360.66,568.25 L359.93,568.93 L359.18,569.60 L358.41,570.24 L357.63,570.87 L356.83,571.47 L356.02,572.06 L355.19,572.63 L354.35,573.17 L353.50,573.70 L352.64,574.21 L351.76,574.70 L350.88,575.17 L349.98,575.62 L349.08,576.06 L348.17,576.49 L347.25,576.90 L346.33,577.31 L345.41,577.71 L344.48,578.10 L343.55,578.49 L342.62,578.88 L341.69,579.26 L340.76,579.65 L339.83,580.02 L338.90,580.40 L337.96,580.77 L337.03,581.14 L336.09,581.50 L335.15,581.86 L334.21,582.21 L333.27,582.56 L332.33,582.91 L331.39,583.25 L330.44,583.59 L329.49,583.92 L328.55,584.24 L327.59,584.56 L326.64,584.88 L325.69,585.19 L324.73,585.49 L323.77,585.79 L322.82,586.09 L321.86,586.38 L320.89,586.66 L319.93,586.94 L318.97,587.22 L318.00,587.48 L317.03,587.75 L316.06,588.01 L315.09,588.27 L314.12,588.52 L313.15,588.76 L312.18,589.00 L311.20,589.24 L310.23,589.47 L309.25,589.70 L308.27,589.93 L307.29,590.15 L306.31,590.37 L305.33,590.59 L304.35,590.80 L303.37,591.01 L302.39,591.21 L301.41,591.42 L300.42,591.62 L299.44,591.82 L298.46,592.01 L297.47,592.21 L296.49,592.40 L295.50,592.59 L294.52,592.78 L293.53,592.97 L292.55,593.15 L291.56,593.34 L290.57,593.52 L289.59,593.70 L288.60,593.88 L287.61,594.06 L286.63,594.23 L285.64,594.41 L284.65,594.58 L283.66,594.76 L282.68,594.93 L281.69,595.10 L280.70,595.28 L279.71,595.45 L278.72,595.62 L277.73,595.79 L276.75,595.96 L275.76,596.13 L274.77,596.30 L273.78,596.48 L272.79,596.65 L271.80,596.82 L270.81,596.99 L269.83,597.16 L268.84,597.33 L267.85,597.51 L266.86,597.68 L265.87,597.86 L264.89,598.03 L263.90,598.21 L262.91,598.39 L261.92,598.57 L260.94,598.75 L259.95,598.93 L258.97,599.11 L257.98,599.30 L256.99,599.49 L256.01,599.67 L255.02,599.86 L254.04,600.06 L253.05,600.25 L252.07,600.44 L251.09,600.64 L250.10,600.84 L249.12,601.04 L248.14,601.24 L247.15,601.44 L246.17,601.64 L245.19,601.84 L244.21,602.04 L243.22,602.25 L242.24,602.45 L241.26,602.65 L240.28,602.85 L239.29,603.06 L238.31,603.26 L237.33,603.46 L236.34,603.66 L235.36,603.86 L234.38,604.06 L233.40,604.26 L232.41,604.45 L231.43,604.65 L230.44,604.84 L229.46,605.04 L228.48,605.23 L227.49,605.42 L226.51,605.60 L225.52,605.79 L224.53,605.97 L223.55,606.15 L222.56,606.33 L221.57,606.51 L220.59,606.68 L219.60,606.85 L218.61,607.02 L217.62,607.19 L216.63,607.35 L215.64,607.51 L214.65,607.67 L213.66,607.83 L212.67,607.99 L211.68,608.14 L210.69,608.30 L209.69,608.45 L208.70,608.60 L207.71,608.74 L206.72,608.89 L205.73,609.03 L204.73,609.18 L203.74,609.32 L202.75,609.46 L201.75,609.60 L200.76,609.73 L199.76,609.87 L198.77,610.01 L197.77,610.14 L196.78,610.27 L195.78,610.40 L194.79,610.53 L193.79,610.66 L192.80,610.79 L191.80,610.92 L190.81,611.05 L189.81,611.17 L188.82,611.30 L187.82,611.42 L186.82,611.54 L185.83,611.67 L184.83,611.79 L183.84,611.91 L182.84,612.02 L181.84,612.14 L180.85,612.26 L179.85,612.37 L178.85,612.48 L177.85,612.59 L176.86,612.70 L175.86,612.80 L174.86,612.91 L173.86,613.01 L172.86,613.11 L171.87,613.21 L170.87,613.30 L169.87,613.40 L168.87,613.49 L167.87,613.58 L166.87,613.66 L165.87,613.74 L164.87,613.83 L163.87,613.90 L162.87,613.98 L161.87,614.05 L160.87,614.12 L159.87,614.18 L158.87,614.25 L157.87,614.31 L156.87,614.37 L155.87,614.42 L154.87,614.48 L153.86,614.53 L152.86,614.58 L151.86,614.63 L150.86,614.68 L149.86,614.73 L148.86,614.78 L147.85,614.83 L146.85,614.88 L145.85,614.93 L144.85,614.98 L143.84,615.04 L142.84,615.09 L141.84,615.15 L140.84,615.20 L139.83,615.26 L138.83,615.32 L137.83,615.38 L136.82,615.44 L135.82,615.50 L134.82,615.56 L133.81,615.62 L132.81,615.69 L131.80,615.75 L130.80,615.82 L129.79,615.89 L128.79,615.96 L127.78,616.04 L126.78,616.13 L125.78,616.23 L124.79,616.34 L123.79,616.47 L122.80,616.61 L121.82,616.77 L120.84,616.96 L119.86,617.16 L118.90,617.39 L117.93,617.64 L116.98,617.92 L116.03,618.23 L115.09,618.56 L114.16,618.91 L113.23,619.28 L112.31,619.68 L111.40,620.09 L110.50,620.52 L109.60,620.96 L108.70,621.41 L107.81,621.88 L106.93,622.35 L106.04,622.83 L105.16,623.32 L104.28,623.81 L103.40,624.30" fill="none" stroke="#0E960E" stroke-width="2.0" stroke-linejoin="round" stroke-linecap="round"/>
<path d="M103.68,653.90v-5M151.24,653.90v-5M198.79,653.90v-5M246.35,653.90v-5M293.91,653.90v-5M341.46,653.90v-5M389.02,653.90v-5M127.46,653.90v-2.8M175.01,653.90v-2.8M222.57,653.90v-2.8M270.13,653.90v-2.8M317.69,653.90v-2.8M365.24,653.90v-2.8M412.80,653.90v-2.8M79.90,636.60h5M79.90,602.01h5M79.90,567.42h5M79.90,532.82h5M79.90,498.23h5M79.90,463.64h5M79.90,429.04h5M79.90,394.45h5M79.90,619.31h2.8M79.90,584.71h2.8M79.90,550.12h2.8M79.90,515.53h2.8M79.90,480.93h2.8M79.90,446.34h2.8M79.90,411.75h2.8" stroke="#000" stroke-width="1.6" fill="none"/>
<rect x="79.90" y="385.80" width="332.90" height="268.10" fill="none" stroke="#000" stroke-width="1.8"/>
<text x="103.68" y="673.80" font-size="18.2" text-anchor="middle" fill="#000000" font-weight="bold" >0.0</text>
<text x="151.24" y="673.80" font-size="18.2" text-anchor="middle" fill="#000000" font-weight="bold" >0.5</text>
<text x="198.79" y="673.80" font-size="18.2" text-anchor="middle" fill="#000000" font-weight="bold" >1.0</text>
<text x="246.35" y="673.80" font-size="18.2" text-anchor="middle" fill="#000000" font-weight="bold" >1.5</text>
<text x="293.91" y="673.80" font-size="18.2" text-anchor="middle" fill="#000000" font-weight="bold" >2.0</text>
<text x="341.46" y="673.80" font-size="18.2" text-anchor="middle" fill="#000000" font-weight="bold" >2.5</text>
<text x="389.02" y="673.80" font-size="18.2" text-anchor="middle" fill="#000000" font-weight="bold" >3.0</text>
<text x="73.80" y="642.60" font-size="18.2" text-anchor="end" fill="#000000" font-weight="bold" >-6</text>
<text x="73.80" y="608.01" font-size="18.2" text-anchor="end" fill="#000000" font-weight="bold" >-4</text>
<text x="73.80" y="573.42" font-size="18.2" text-anchor="end" fill="#000000" font-weight="bold" >-2</text>
<text x="73.80" y="538.82" font-size="18.2" text-anchor="end" fill="#000000" font-weight="bold" >0</text>
<text x="73.80" y="504.23" font-size="18.2" text-anchor="end" fill="#000000" font-weight="bold" >2</text>
<text x="73.80" y="469.64" font-size="18.2" text-anchor="end" fill="#000000" font-weight="bold" >4</text>
<text x="73.80" y="435.04" font-size="18.2" text-anchor="end" fill="#000000" font-weight="bold" >6</text>
<text x="73.80" y="400.45" font-size="18.2" text-anchor="end" fill="#000000" font-weight="bold" >8</text>
<text x="246.30" y="703.90" font-size="19.8" text-anchor="middle" fill="#000000" font-weight="bold" >Potential / V</text>
<text transform="translate(42.3,606.1) rotate(-90)" font-size="20" font-weight="bold">Current density / A g<tspan font-size="12.5" dy="-8">-1</tspan></text>
<text x="20.00" y="401.00" font-size="44" text-anchor="start" fill="#000000" font-weight="bold" >d</text>
<line x1="91.6" y1="404.5" x2="120.89999999999999" y2="404.5" stroke="#000000" stroke-width="1.8"/>
<text x="127.19999999999999" y="409.7" font-size="13.7" font-weight="bold">5 mv s<tspan font-size="9" dy="-6">-1</tspan></text>
<line x1="190.6" y1="404.5" x2="219.9" y2="404.5" stroke="#FF0000" stroke-width="1.8"/>
<text x="226.2" y="409.7" font-size="13.7" font-weight="bold">20 mv s<tspan font-size="9" dy="-6">-1</tspan></text>
<line x1="91.6" y1="422.7" x2="120.89999999999999" y2="422.7" stroke="#0000FF" stroke-width="1.8"/>
<text x="127.19999999999999" y="427.9" font-size="13.7" font-weight="bold">50 mv s<tspan font-size="9" dy="-6">-1</tspan></text>
<line x1="190.6" y1="422.7" x2="219.9" y2="422.7" stroke="#0E960E" stroke-width="1.8"/>
<text x="226.2" y="427.9" font-size="13.7" font-weight="bold">100 mv s<tspan font-size="9" dy="-6">-1</tspan></text>
<path d="M528.70,629.50 L528.94,628.53 L529.19,627.55 L529.44,626.58 L529.70,625.61 L529.96,624.64 L530.23,623.67 L530.50,622.71 L530.80,621.75 L531.10,620.80 L531.41,619.85 L531.74,618.90 L532.08,617.96 L532.44,617.03 L532.80,616.10 L533.18,615.17 L533.57,614.25 L533.97,613.33 L534.38,612.41 L534.80,611.50 L535.23,610.60 L535.66,609.69 L536.11,608.79 L536.56,607.89 L537.01,607.00 L537.47,606.10 L537.94,605.21 L538.40,604.32 L538.87,603.43 L539.34,602.54 L539.81,601.66 L540.29,600.77 L540.76,599.88 L541.23,598.99 L541.69,598.10 L542.16,597.21 L542.62,596.32 L543.08,595.42 L543.54,594.53 L543.99,593.63 L544.44,592.74 L544.89,591.84 L545.34,590.94 L545.78,590.04 L546.22,589.13 L546.66,588.23 L547.10,587.33 L547.54,586.42 L547.98,585.52 L548.42,584.62 L548.86,583.71 L549.30,582.81 L549.75,581.91 L550.19,581.01 L550.65,580.12 L551.10,579.22 L551.56,578.33 L552.02,577.44 L552.48,576.55 L552.95,575.66 L553.42,574.77 L553.89,573.88 L554.37,573.00 L554.84,572.11 L555.32,571.23 L555.80,570.34 L556.27,569.46 L556.76,568.58 L557.24,567.70 L557.72,566.82 L558.20,565.94 L558.69,565.05 L559.17,564.17 L559.65,563.29 L560.14,562.41 L560.62,561.53 L561.11,560.66 L561.60,559.78 L562.09,558.90 L562.58,558.02 L563.07,557.15 L563.56,556.27 L564.05,555.40 L564.55,554.52 L565.05,553.65 L565.55,552.78 L566.05,551.91 L566.55,551.04 L567.06,550.17 L567.57,549.31 L568.08,548.44 L568.59,547.58 L569.11,546.71 L569.62,545.85 L570.14,544.99 L570.66,544.13 L571.18,543.28 L571.71,542.42 L572.23,541.56 L572.75,540.70 L573.28,539.85 L573.81,538.99 L574.33,538.14 L574.86,537.28 L575.38,536.42 L575.91,535.57 L576.44,534.71 L576.97,533.86 L577.49,533.00 L578.02,532.15 L578.55,531.29 L579.08,530.44 L579.61,529.59 L580.14,528.73 L580.66,527.88 L581.19,527.02 L581.72,526.17 L582.25,525.32 L582.78,524.46 L583.31,523.61 L583.84,522.75 L584.37,521.90 L584.90,521.05 L585.43,520.19 L585.96,519.34 L586.49,518.49 L587.02,517.63 L587.55,516.78 L588.08,515.93 L588.62,515.08 L589.15,514.23 L589.68,513.38 L590.22,512.52 L590.75,511.67 L591.29,510.82 L591.82,509.98 L592.36,509.13 L592.90,508.28 L593.44,507.43 L593.97,506.58 L594.51,505.73 L595.05,504.88 L595.59,504.04 L596.13,503.19 L596.67,502.34 L597.21,501.49 L597.74,500.64 L598.28,499.80 L598.82,498.95 L599.36,498.10 L599.90,497.25 L600.44,496.41 L600.98,495.56 L601.52,494.71 L602.06,493.87 L602.60,493.02 L603.14,492.17 L603.69,491.33 L604.23,490.48 L604.77,489.64 L605.32,488.79 L605.86,487.95 L606.41,487.11 L606.96,486.27 L607.51,485.43 L608.06,484.58 L608.61,483.75 L609.16,482.91 L609.72,482.07 L610.27,481.23 L610.83,480.40 L611.38,479.56 L611.94,478.72 L612.50,477.89 L613.06,477.05 L613.62,476.22 L614.18,475.38 L614.73,474.55 L615.29,473.71 L615.85,472.88 L616.41,472.04 L616.96,471.21 L617.52,470.37 L618.07,469.53 L618.63,468.69 L619.18,467.86 L619.74,467.02 L620.29,466.18 L620.85,465.34 L621.40,464.51 L621.96,463.67 L622.52,462.83 L623.07,462.00 L623.63,461.16 L624.19,460.33 L624.76,459.49 L625.32,458.66 L625.88,457.83 L626.45,457.00 L627.02,456.17 L627.59,455.35 L628.17,454.52 L628.74,453.70 L629.32,452.88 L629.91,452.06 L630.49,451.25 L631.08,450.43 L631.67,449.62 L632.27,448.81 L632.87,448.00 L633.47,447.20 L634.08,446.40 L634.69,445.60 L635.30,444.81 L635.92,444.02 L636.55,443.23 L637.17,442.45 L637.81,441.67 L638.44,440.89 L639.09,440.12 L639.73,439.35 L640.39,438.59 L641.04,437.83 L641.70,437.07 L642.37,436.32 L643.04,435.57 L643.72,434.83 L644.40,434.09 L645.09,433.36 L645.78,432.63 L646.47,431.90 L647.17,431.18 L647.88,430.46 L648.59,429.75 L649.30,429.04 L650.02,428.33 L650.74,427.63 L651.46,426.93 L652.19,426.24 L652.92,425.54 L653.65,424.85 L654.39,424.17 L655.13,423.49 L655.87,422.81 L656.62,422.14 L657.38,421.48 L658.14,420.82 L658.90,420.17 L659.67,419.53 L660.45,418.89 L661.24,418.27 L662.03,417.65 L662.83,417.04 L663.63,416.45 L664.45,415.86 L665.27,415.28 L666.09,414.72 L666.93,414.16 L667.77,413.62 L668.61,413.08 L669.47,412.56 L670.33,412.05 L671.20,411.56 L672.08,411.07 L672.96,410.60 L673.85,410.13 L674.74,409.68 L675.64,409.23 L676.55,408.79 L677.46,408.37 L678.37,407.95 L679.28,407.53 L680.20,407.13 L681.13,406.73 L682.05,406.33 L682.98,405.94 L683.91,405.55 L684.84,405.17 L685.77,404.78 L686.70,404.40 M686.70,404.40 L686.91,405.39 L687.11,406.37 L687.32,407.36 L687.52,408.34 L687.73,409.33 L687.93,410.32 L688.14,411.30 L688.35,412.29 L688.56,413.27 L688.76,414.26 L688.97,415.24 L689.19,416.23 L689.40,417.21 L689.62,418.20 L689.84,419.18 L690.06,420.16 L690.28,421.15 L690.51,422.13 L690.74,423.11 L690.98,424.08 L691.22,425.06 L691.47,426.04 L691.72,427.01 L691.98,427.99 L692.24,428.96 L692.51,429.93 L692.79,430.89 L693.07,431.86 L693.36,432.82 L693.66,433.78 L693.97,434.74 L694.28,435.70 L694.59,436.65 L694.92,437.61 L695.25,438.56 L695.59,439.51 L695.93,440.45 L696.28,441.40 L696.63,442.34 L696.99,443.28 L697.36,444.21 L697.73,445.15 L698.11,446.08 L698.49,447.02 L698.88,447.95 L699.26,448.88 L699.65,449.80 L700.05,450.73 L700.45,451.66 L700.84,452.58 L701.24,453.51 L701.64,454.43 L702.05,455.36 L702.45,456.28 L702.85,457.21 L703.26,458.13 L703.67,459.05 L704.08,459.97 L704.49,460.89 L704.91,461.80 L705.33,462.72 L705.75,463.64 L706.17,464.55 L706.60,465.46 L707.03,466.37 L707.47,467.27 L707.91,468.18 L708.36,469.08 L708.81,469.98 L709.27,470.87 L709.73,471.77 L710.20,472.66 L710.67,473.55 L711.15,474.43 L711.63,475.32 L712.11,476.20 L712.60,477.08 L713.09,477.96 L713.58,478.84 L714.07,479.72 L714.56,480.60 L715.06,481.48 L715.55,482.36 L716.04,483.23 L716.54,484.11 L717.03,484.99 L717.52,485.87 L718.01,486.75 L718.51,487.63 L719.00,488.50 L719.49,489.38 L719.99,490.26 L720.48,491.14 L720.98,492.01 L721.48,492.89 L721.98,493.76 L722.48,494.64 L722.98,495.51 L723.48,496.38 L723.99,497.25 L724.50,498.12 L725.01,498.99 L725.53,499.85 L726.04,500.72 L726.56,501.58 L727.09,502.44 L727.61,503.30 L728.13,504.16 L728.66,505.02 L729.19,505.87 L729.71,506.73 L730.24,507.59 L730.76,508.45 L731.29,509.31 L731.81,510.17 L732.33,511.03 L732.85,511.90 L733.36,512.76 L733.87,513.63 L734.38,514.49 L734.89,515.36 L735.39,516.24 L735.89,517.11 L736.39,517.98 L736.89,518.86 L737.39,519.73 L737.89,520.60 L738.39,521.48 L738.89,522.35 L739.39,523.22 L739.90,524.09 L740.41,524.95 L740.92,525.82 L741.44,526.68 L741.96,527.54 L742.48,528.40 L743.00,529.26 L743.52,530.12 L744.04,530.98 L744.56,531.85 L745.07,532.71 L745.57,533.58 L746.07,534.45 L746.57,535.32 L747.06,536.20 L747.54,537.08 L748.02,537.97 L748.50,538.85 L748.97,539.74 L749.44,540.63 L749.91,541.52 L750.38,542.41 L750.85,543.30 L751.33,544.18 L751.80,545.07 L752.28,545.95 L752.77,546.84 L753.25,547.71 L753.75,548.59 L754.25,549.46 L754.75,550.33 L755.26,551.20 L755.77,552.07 L756.29,552.93 L756.81,553.80 L757.33,554.66 L757.86,555.51 L758.38,556.37 L758.92,557.23 L759.45,558.08 L759.98,558.93 L760.52,559.79 L761.06,560.64 L761.59,561.49 L762.13,562.34 L762.67,563.19 L763.22,564.04 L763.76,564.89 L764.30,565.73 L764.85,566.58 L765.40,567.42 L765.95,568.27 L766.50,569.11 L767.06,569.95 L767.61,570.79 L768.17,571.63 L768.74,572.46 L769.30,573.29 L769.87,574.13 L770.44,574.96 L771.01,575.79 L771.58,576.61 L772.15,577.44 L772.72,578.27 L773.29,579.10 L773.86,579.93 L774.43,580.76 L775.00,581.59 L775.56,582.43 L776.12,583.26 L776.68,584.10 L777.23,584.94 L777.78,585.79 L778.33,586.63 L778.87,587.48 L779.41,588.33 L779.95,589.18 L780.49,590.03 L781.03,590.89 L781.57,591.74 L782.11,592.59 L782.65,593.44 L783.19,594.29 L783.73,595.14 L784.28,595.99 L784.82,596.83 L785.38,597.67 L785.93,598.51 L786.50,599.35 L787.06,600.18 L787.63,601.01 L788.21,601.84 L788.79,602.66 L789.38,603.48 L789.97,604.29 L790.57,605.10 L791.18,605.90 L791.79,606.69 L792.42,607.48 L793.05,608.27 L793.68,609.04 L794.33,609.81 L794.99,610.58 L795.65,611.33 L796.32,612.08 L796.99,612.82 L797.68,613.56 L798.37,614.29 L799.07,615.01 L799.78,615.72 L800.49,616.43 L801.21,617.13 L801.94,617.83 L802.67,618.52 L803.41,619.21 L804.15,619.89 L804.89,620.57 L805.64,621.24 L806.39,621.92 L807.14,622.59 L807.89,623.26 L808.64,623.93 L809.40,624.60 L810.15,625.27 L810.90,625.94 L811.66,626.60 L812.42,627.27 L813.17,627.94 L813.93,628.60 L814.69,629.27 L815.44,629.93 L816.20,630.60" fill="none" stroke="#000000" stroke-width="2.0" stroke-linejoin="round" stroke-linecap="round"/>
<path d="M528.70,628.00 L528.92,627.02 L529.15,626.03 L529.37,625.05 L529.60,624.07 L529.82,623.09 L530.05,622.11 L530.28,621.12 L530.51,620.14 L530.74,619.16 L530.97,618.18 L531.20,617.20 L531.44,616.22 L531.68,615.24 L531.92,614.26 L532.16,613.29 L532.41,612.31 L532.66,611.33 L532.91,610.36 L533.16,609.38 L533.41,608.41 L533.67,607.43 L533.92,606.46 L534.17,605.48 L534.41,604.50 L534.66,603.53 L534.90,602.55 L535.14,601.57 L535.37,600.59 L535.60,599.61 L535.82,598.63 L536.04,597.64 L536.26,596.66 L536.47,595.68 L536.69,594.69 L536.90,593.71 L537.11,592.72 L537.32,591.73 L537.53,590.75 L537.73,589.76 L537.94,588.78 L538.15,587.79 L538.36,586.81 L538.57,585.82 L538.78,584.83 L538.99,583.85 L539.21,582.86 L539.42,581.88 L539.63,580.89 L539.85,579.91 L540.07,578.93 L540.29,577.94 L540.51,576.96 L540.73,575.98 L540.96,574.99 L541.18,574.01 L541.41,573.03 L541.64,572.05 L541.87,571.07 L542.10,570.09 L542.34,569.11 L542.57,568.13 L542.80,567.15 L543.04,566.17 L543.28,565.19 L543.52,564.21 L543.76,563.23 L544.00,562.25 L544.24,561.27 L544.49,560.30 L544.73,559.32 L544.98,558.34 L545.22,557.36 L545.47,556.39 L545.72,555.41 L545.97,554.43 L546.22,553.46 L546.47,552.48 L546.72,551.50 L546.97,550.53 L547.22,549.55 L547.47,548.58 L547.73,547.60 L547.98,546.62 L548.24,545.65 L548.49,544.67 L548.75,543.70 L549.00,542.72 L549.26,541.75 L549.51,540.77 L549.77,539.80 L550.03,538.82 L550.28,537.85 L550.54,536.87 L550.80,535.90 L551.06,534.93 L551.31,533.95 L551.57,532.98 L551.83,532.00 L552.09,531.03 L552.34,530.05 L552.60,529.08 L552.86,528.10 L553.12,527.13 L553.37,526.15 L553.63,525.18 L553.89,524.20 L554.14,523.23 L554.40,522.25 L554.65,521.28 L554.91,520.30 L555.16,519.33 L555.42,518.35 L555.67,517.38 L555.92,516.40 L556.18,515.42 L556.43,514.45 L556.68,513.47 L556.93,512.50 L557.19,511.52 L557.44,510.55 L557.69,509.57 L557.94,508.59 L558.20,507.62 L558.45,506.64 L558.70,505.67 L558.95,504.69 L559.21,503.72 L559.46,502.74 L559.71,501.76 L559.97,500.79 L560.22,499.81 L560.48,498.84 L560.74,497.86 L560.99,496.89 L561.25,495.92 L561.51,494.94 L561.76,493.97 L562.02,492.99 L562.28,492.02 L562.55,491.05 L562.81,490.07 L563.07,489.10 L563.33,488.13 L563.60,487.16 L563.86,486.18 L564.13,485.21 L564.40,484.24 L564.67,483.27 L564.94,482.30 L565.21,481.33 L565.49,480.36 L565.76,479.39 L566.04,478.42 L566.31,477.45 L566.59,476.48 L566.87,475.51 L567.15,474.54 L567.43,473.58 L567.72,472.61 L568.00,471.64 L568.29,470.68 L568.57,469.71 L568.86,468.74 L569.15,467.78 L569.44,466.81 L569.74,465.85 L570.03,464.88 L570.33,463.92 L570.62,462.96 L570.92,461.99 L571.22,461.03 L571.52,460.07 L571.83,459.11 L572.13,458.15 L572.44,457.19 L572.74,456.23 L573.05,455.27 L573.36,454.31 L573.67,453.35 L573.99,452.39 L574.30,451.43 L574.62,450.47 L574.94,449.52 L575.26,448.56 L575.59,447.61 L575.91,446.65 L576.24,445.70 L576.57,444.75 L576.91,443.80 L577.24,442.85 L577.58,441.90 L577.93,440.95 L578.27,440.00 L578.62,439.06 L578.97,438.11 L579.32,437.17 L579.68,436.22 L580.04,435.28 L580.41,434.34 L580.78,433.41 L581.15,432.47 L581.53,431.54 L581.91,430.60 L582.29,429.67 L582.68,428.74 L583.07,427.81 L583.47,426.88 L583.87,425.96 L584.27,425.04 L584.68,424.12 L585.09,423.20 L585.51,422.28 L585.94,421.37 L586.36,420.45 L586.80,419.54 L587.23,418.64 L587.68,417.73 L588.12,416.83 L588.58,415.93 L589.03,415.03 L589.50,414.14 L589.96,413.25 L590.44,412.35 L590.91,411.47 L591.39,410.58 L591.87,409.69 L592.36,408.81 L592.84,407.93 L593.33,407.04 L593.82,406.16 L594.31,405.28 L594.80,404.40 M594.80,404.40 L594.92,405.40 L595.05,406.40 L595.18,407.39 L595.30,408.39 L595.43,409.39 L595.55,410.39 L595.68,411.39 L595.81,412.39 L595.93,413.38 L596.06,414.38 L596.19,415.38 L596.32,416.38 L596.45,417.38 L596.58,418.37 L596.71,419.37 L596.84,420.37 L596.97,421.36 L597.11,422.36 L597.24,423.36 L597.38,424.36 L597.52,425.35 L597.65,426.35 L597.79,427.35 L597.94,428.34 L598.08,429.34 L598.22,430.33 L598.37,431.33 L598.52,432.32 L598.67,433.32 L598.82,434.31 L598.97,435.31 L599.12,436.30 L599.28,437.30 L599.44,438.29 L599.60,439.28 L599.76,440.28 L599.93,441.27 L600.09,442.26 L600.26,443.25 L600.44,444.24 L600.61,445.23 L600.79,446.22 L600.97,447.21 L601.15,448.20 L601.34,449.19 L601.52,450.18 L601.71,451.17 L601.91,452.15 L602.10,453.14 L602.30,454.13 L602.50,455.11 L602.70,456.10 L602.91,457.08 L603.11,458.07 L603.32,459.05 L603.53,460.04 L603.74,461.02 L603.95,462.00 L604.17,462.99 L604.39,463.97 L604.61,464.95 L604.83,465.93 L605.05,466.92 L605.27,467.90 L605.49,468.88 L605.72,469.86 L605.95,470.84 L606.17,471.82 L606.40,472.80 L606.63,473.78 L606.86,474.76 L607.10,475.74 L607.33,476.72 L607.56,477.69 L607.80,478.67 L608.03,479.65 L608.27,480.63 L608.51,481.61 L608.75,482.58 L608.99,483.56 L609.23,484.54 L609.48,485.51 L609.72,486.49 L609.97,487.46 L610.21,488.44 L610.46,489.42 L610.71,490.39 L610.96,491.36 L611.21,492.34 L611.47,493.31 L611.72,494.28 L611.98,495.26 L612.24,496.23 L612.50,497.20 L612.76,498.17 L613.02,499.14 L613.28,500.12 L613.55,501.09 L613.81,502.06 L614.08,503.02 L614.35,503.99 L614.62,504.96 L614.89,505.93 L615.17,506.90 L615.44,507.87 L615.72,508.84 L615.99,509.80 L616.27,510.77 L616.55,511.74 L616.82,512.70 L617.10,513.67 L617.38,514.64 L617.66,515.60 L617.94,516.57 L618.22,517.54 L618.50,518.50 L618.78,519.47 L619.06,520.44 L619.34,521.40 L619.62,522.37 L619.90,523.34 L620.18,524.30 L620.46,525.27 L620.74,526.24 L621.02,527.20 L621.30,528.17 L621.57,529.14 L621.85,530.11 L622.13,531.07 L622.40,532.04 L622.68,533.01 L622.96,533.98 L623.23,534.94 L623.51,535.91 L623.79,536.88 L624.06,537.85 L624.34,538.82 L624.62,539.78 L624.89,540.75 L625.17,541.72 L625.45,542.69 L625.73,543.65 L626.00,544.62 L626.28,545.59 L626.56,546.56 L626.84,547.52 L627.12,548.49 L627.40,549.46 L627.67,550.42 L627.95,551.39 L628.24,552.36 L628.52,553.32 L628.80,554.29 L629.08,555.26 L629.36,556.22 L629.65,557.19 L629.93,558.15 L630.22,559.12 L630.50,560.08 L630.79,561.05 L631.08,562.01 L631.37,562.98 L631.66,563.94 L631.95,564.90 L632.24,565.87 L632.53,566.83 L632.82,567.79 L633.12,568.75 L633.41,569.71 L633.71,570.67 L634.01,571.64 L634.31,572.60 L634.61,573.56 L634.91,574.52 L635.21,575.47 L635.52,576.43 L635.82,577.39 L636.13,578.35 L636.44,579.31 L636.75,580.26 L637.06,581.22 L637.37,582.17 L637.69,583.13 L638.01,584.08 L638.32,585.04 L638.64,585.99 L638.97,586.94 L639.29,587.89 L639.62,588.85 L639.94,589.80 L640.27,590.75 L640.60,591.70 L640.94,592.64 L641.27,593.59 L641.61,594.54 L641.94,595.49 L642.28,596.43 L642.62,597.38 L642.97,598.33 L643.31,599.27 L643.66,600.22 L644.00,601.16 L644.35,602.10 L644.70,603.05 L645.05,603.99 L645.40,604.93 L645.76,605.87 L646.11,606.81 L646.47,607.76 L646.83,608.70 L647.18,609.64 L647.54,610.58 L647.90,611.52 L648.26,612.46 L648.62,613.39 L648.99,614.33 L649.35,615.27 L649.71,616.21 L650.08,617.15 L650.44,618.09 L650.81,619.02 L651.18,619.96 L651.54,620.90 L651.91,621.83 L652.28,622.77 L652.65,623.71 L653.01,624.65 L653.38,625.58 L653.75,626.52 L654.12,627.45 L654.49,628.39 L654.86,629.33 L655.23,630.26 L655.60,631.20" fill="none" stroke="#FF0000" stroke-width="2.0" stroke-linejoin="round" stroke-linecap="round"/>
<path d="M528.70,628.00 L528.71,626.99 L528.72,625.98 L528.73,624.97 L528.74,623.97 L528.75,622.96 L528.77,621.95 L528.79,620.94 L528.81,619.93 L528.83,618.93 L528.86,617.92 L528.89,616.91 L528.93,615.91 L528.97,614.90 L529.01,613.89 L529.06,612.89 L529.12,611.88 L529.19,610.88 L529.26,609.87 L529.33,608.87 L529.42,607.87 L529.51,606.87 L529.60,605.86 L529.70,604.86 L529.81,603.86 L529.92,602.86 L530.04,601.86 L530.16,600.86 L530.29,599.86 L530.41,598.86 L530.55,597.87 L530.68,596.87 L530.82,595.87 L530.97,594.87 L531.11,593.87 L531.26,592.87 L531.41,591.88 L531.56,590.88 L531.71,589.88 L531.87,588.89 L532.02,587.89 L532.18,586.89 L532.33,585.89 L532.49,584.90 L532.65,583.90 L532.80,582.90 L532.96,581.91 L533.12,580.91 L533.27,579.91 L533.42,578.91 L533.57,577.92 L533.72,576.92 L533.87,575.92 L534.02,574.92 L534.17,573.93 L534.31,572.93 L534.46,571.93 L534.60,570.93 L534.74,569.93 L534.88,568.93 L535.02,567.94 L535.16,566.94 L535.30,565.94 L535.44,564.94 L535.57,563.94 L535.71,562.94 L535.84,561.94 L535.98,560.94 L536.11,559.94 L536.24,558.94 L536.38,557.95 L536.51,556.95 L536.64,555.95 L536.77,554.95 L536.90,553.95 L537.03,552.95 L537.16,551.95 L537.28,550.95 L537.41,549.95 L537.54,548.95 L537.67,547.95 L537.79,546.95 L537.92,545.95 L538.05,544.95 L538.17,543.95 L538.30,542.95 L538.42,541.95 L538.55,540.95 L538.67,539.95 L538.80,538.95 L538.92,537.95 L539.05,536.95 L539.18,535.95 L539.30,534.95 L539.43,533.95 L539.55,532.95 L539.68,531.95 L539.80,530.96 L539.93,529.96 L540.06,528.96 L540.18,527.96 L540.31,526.96 L540.44,525.96 L540.56,524.96 L540.69,523.96 L540.82,522.96 L540.95,521.96 L541.08,520.96 L541.21,519.96 L541.34,518.96 L541.47,517.97 L541.60,516.97 L541.74,515.97 L541.87,514.97 L542.00,513.97 L542.14,512.97 L542.27,511.97 L542.41,510.97 L542.54,509.98 L542.68,508.98 L542.82,507.98 L542.95,506.98 L543.09,505.98 L543.23,504.99 L543.37,503.99 L543.51,502.99 L543.65,501.99 L543.79,500.99 L543.93,500.00 L544.07,499.00 L544.21,498.00 L544.35,497.00 L544.49,496.01 L544.64,495.01 L544.78,494.01 L544.92,493.01 L545.07,492.02 L545.21,491.02 L545.36,490.02 L545.50,489.03 L545.65,488.03 L545.80,487.03 L545.94,486.03 L546.09,485.04 L546.24,484.04 L546.39,483.04 L546.53,482.05 L546.68,481.05 L546.83,480.05 L546.98,479.06 L547.13,478.06 L547.28,477.06 L547.43,476.07 L547.58,475.07 L547.73,474.08 L547.89,473.08 L548.04,472.08 L548.19,471.09 L548.34,470.09 L548.50,469.09 L548.65,468.10 L548.80,467.10 L548.96,466.11 L549.11,465.11 L549.27,464.11 L549.42,463.12 L549.57,462.12 L549.73,461.13 L549.89,460.13 L550.04,459.13 L550.20,458.14 L550.35,457.14 L550.51,456.15 L550.67,455.15 L550.83,454.16 L550.98,453.16 L551.14,452.16 L551.30,451.17 L551.46,450.17 L551.62,449.18 L551.77,448.18 L551.93,447.19 L552.09,446.19 L552.25,445.20 L552.41,444.20 L552.57,443.21 L552.73,442.21 L552.89,441.22 L553.05,440.22 L553.21,439.22 L553.37,438.23 L553.53,437.23 L553.69,436.24 L553.85,435.24 L554.02,434.25 L554.18,433.25 L554.34,432.26 L554.50,431.26 L554.66,430.27 L554.82,429.27 L554.99,428.28 L555.15,427.28 L555.31,426.29 L555.47,425.29 L555.64,424.30 L555.80,423.30 L555.96,422.31 L556.12,421.31 L556.29,420.32 L556.45,419.32 L556.61,418.33 L556.78,417.33 L556.94,416.34 L557.10,415.34 L557.27,414.35 L557.43,413.35 L557.59,412.36 L557.76,411.36 L557.92,410.37 L558.08,409.37 L558.25,408.38 L558.41,407.38 L558.57,406.39 L558.74,405.39 L558.90,404.40 M558.90,404.40 L558.98,405.40 L559.06,406.40 L559.14,407.41 L559.22,408.41 L559.30,409.41 L559.39,410.41 L559.47,411.41 L559.55,412.41 L559.63,413.42 L559.71,414.42 L559.79,415.42 L559.87,416.42 L559.96,417.42 L560.04,418.42 L560.12,419.43 L560.20,420.43 L560.29,421.43 L560.37,422.43 L560.46,423.43 L560.54,424.43 L560.62,425.43 L560.71,426.44 L560.79,427.44 L560.88,428.44 L560.97,429.44 L561.05,430.44 L561.14,431.44 L561.23,432.44 L561.31,433.44 L561.40,434.44 L561.49,435.45 L561.58,436.45 L561.67,437.45 L561.76,438.45 L561.85,439.45 L561.95,440.45 L562.04,441.45 L562.13,442.45 L562.22,443.45 L562.32,444.45 L562.41,445.45 L562.51,446.45 L562.61,447.45 L562.70,448.45 L562.80,449.45 L562.90,450.45 L562.99,451.45 L563.09,452.45 L563.19,453.45 L563.29,454.45 L563.39,455.45 L563.49,456.45 L563.59,457.45 L563.69,458.45 L563.79,459.45 L563.89,460.45 L563.99,461.45 L564.09,462.45 L564.19,463.45 L564.29,464.45 L564.39,465.45 L564.48,466.45 L564.58,467.45 L564.68,468.45 L564.78,469.45 L564.88,470.45 L564.98,471.45 L565.08,472.46 L565.18,473.46 L565.27,474.46 L565.37,475.46 L565.47,476.46 L565.56,477.46 L565.66,478.46 L565.75,479.46 L565.85,480.46 L565.94,481.46 L566.04,482.46 L566.13,483.46 L566.23,484.46 L566.32,485.46 L566.42,486.46 L566.51,487.46 L566.61,488.46 L566.71,489.46 L566.81,490.46 L566.91,491.46 L567.01,492.46 L567.11,493.46 L567.22,494.46 L567.32,495.46 L567.43,496.46 L567.54,497.46 L567.65,498.46 L567.76,499.45 L567.88,500.45 L568.00,501.45 L568.12,502.45 L568.24,503.44 L568.37,504.44 L568.50,505.44 L568.63,506.43 L568.76,507.43 L568.89,508.43 L569.03,509.42 L569.16,510.42 L569.30,511.41 L569.44,512.41 L569.59,513.40 L569.73,514.39 L569.88,515.39 L570.02,516.38 L570.17,517.38 L570.32,518.37 L570.47,519.36 L570.63,520.36 L570.78,521.35 L570.93,522.34 L571.09,523.34 L571.25,524.33 L571.41,525.32 L571.56,526.31 L571.72,527.31 L571.88,528.30 L572.05,529.29 L572.21,530.28 L572.37,531.27 L572.53,532.27 L572.70,533.26 L572.86,534.25 L573.03,535.24 L573.19,536.23 L573.36,537.23 L573.52,538.22 L573.69,539.21 L573.86,540.20 L574.02,541.19 L574.19,542.18 L574.35,543.17 L574.52,544.17 L574.69,545.16 L574.85,546.15 L575.02,547.14 L575.18,548.13 L575.35,549.13 L575.51,550.12 L575.67,551.11 L575.84,552.10 L576.00,553.09 L576.16,554.09 L576.32,555.08 L576.48,556.07 L576.65,557.06 L576.81,558.05 L576.97,559.05 L577.12,560.04 L577.28,561.03 L577.44,562.02 L577.60,563.02 L577.76,564.01 L577.92,565.00 L578.07,565.99 L578.23,566.99 L578.38,567.98 L578.54,568.97 L578.70,569.97 L578.85,570.96 L579.01,571.95 L579.16,572.95 L579.31,573.94 L579.47,574.93 L579.62,575.93 L579.77,576.92 L579.93,577.91 L580.08,578.91 L580.23,579.90 L580.38,580.89 L580.53,581.89 L580.68,582.88 L580.83,583.87 L580.99,584.87 L581.14,585.86 L581.29,586.85 L581.43,587.85 L581.58,588.84 L581.73,589.84 L581.88,590.83 L582.03,591.82 L582.18,592.82 L582.33,593.81 L582.48,594.80 L582.62,595.80 L582.77,596.79 L582.92,597.79 L583.06,598.78 L583.21,599.78 L583.36,600.77 L583.50,601.76 L583.65,602.76 L583.80,603.75 L583.94,604.75 L584.09,605.74 L584.23,606.73 L584.38,607.73 L584.53,608.72 L584.67,609.72 L584.82,610.71 L584.96,611.71 L585.11,612.70 L585.25,613.69 L585.39,614.69 L585.54,615.68 L585.68,616.68 L585.83,617.67 L585.97,618.67 L586.12,619.66 L586.26,620.66 L586.40,621.65 L586.55,622.64 L586.69,623.64 L586.84,624.63 L586.98,625.63 L587.12,626.62 L587.27,627.62 L587.41,628.61 L587.56,629.61 L587.70,630.60" fill="none" stroke="#0000FF" stroke-width="2.0" stroke-linejoin="round" stroke-linecap="round"/>
<path d="M528.70,628.00 L541.70,404.40 M541.70,404.40 L541.73,405.41 L541.75,406.41 L541.78,407.42 L541.80,408.43 L541.83,409.44 L541.85,410.44 L541.88,411.45 L541.90,412.46 L541.93,413.46 L541.95,414.47 L541.98,415.48 L542.00,416.49 L542.03,417.49 L542.05,418.50 L542.08,419.51 L542.11,420.51 L542.13,421.52 L542.16,422.53 L542.18,423.54 L542.21,424.54 L542.24,425.55 L542.26,426.56 L542.29,427.56 L542.32,428.57 L542.34,429.58 L542.37,430.59 L542.40,431.59 L542.42,432.60 L542.45,433.61 L542.48,434.61 L542.51,435.62 L542.53,436.63 L542.56,437.64 L542.59,438.64 L542.62,439.65 L542.65,440.66 L542.68,441.66 L542.71,442.67 L542.73,443.68 L542.76,444.68 L542.79,445.69 L542.82,446.70 L542.85,447.71 L542.88,448.71 L542.92,449.72 L542.95,450.73 L542.98,451.73 L543.01,452.74 L543.04,453.75 L543.07,454.75 L543.10,455.76 L543.14,456.77 L543.17,457.77 L543.20,458.78 L543.24,459.79 L543.27,460.79 L543.30,461.80 L543.34,462.81 L543.37,463.81 L543.41,464.82 L543.44,465.83 L543.48,466.83 L543.52,467.84 L543.55,468.85 L543.59,469.85 L543.63,470.86 L543.66,471.87 L543.70,472.87 L543.74,473.88 L543.78,474.89 L543.82,475.89 L543.86,476.90 L543.90,477.90 L543.94,478.91 L543.98,479.92 L544.02,480.92 L544.06,481.93 L544.10,482.94 L544.14,483.94 L544.19,484.95 L544.23,485.96 L544.27,486.96 L544.32,487.97 L544.36,488.97 L544.41,489.98 L544.45,490.99 L544.50,491.99 L544.55,493.00 L544.59,494.00 L544.64,495.01 L544.69,496.02 L544.74,497.02 L544.79,498.03 L544.84,499.03 L544.89,500.04 L544.94,501.04 L544.99,502.05 L545.04,503.06 L545.09,504.06 L545.15,505.07 L545.20,506.07 L545.25,507.08 L545.31,508.08 L545.36,509.09 L545.42,510.10 L545.48,511.10 L545.53,512.11 L545.59,513.11 L545.65,514.12 L545.71,515.12 L545.77,516.13 L545.83,517.13 L545.89,518.14 L545.95,519.14 L546.01,520.15 L546.07,521.15 L546.13,522.16 L546.20,523.16 L546.26,524.17 L546.33,525.17 L546.39,526.18 L546.46,527.18 L546.53,528.19 L546.59,529.19 L546.66,530.20 L546.73,531.20 L546.80,532.21 L546.87,533.21 L546.94,534.22 L547.01,535.22 L547.08,536.23 L547.15,537.23 L547.22,538.24 L547.30,539.24 L547.37,540.25 L547.44,541.25 L547.51,542.25 L547.59,543.26 L547.66,544.26 L547.74,545.27 L547.81,546.27 L547.89,547.28 L547.97,548.28 L548.04,549.29 L548.12,550.29 L548.20,551.29 L548.27,552.30 L548.35,553.30 L548.43,554.31 L548.51,555.31 L548.59,556.32 L548.66,557.32 L548.74,558.32 L548.82,559.33 L548.90,560.33 L548.98,561.34 L549.06,562.34 L549.14,563.34 L549.22,564.35 L549.30,565.35 L549.39,566.36 L549.47,567.36 L549.55,568.36 L549.63,569.37 L549.71,570.37 L549.79,571.38 L549.88,572.38 L549.96,573.38 L550.04,574.39 L550.12,575.39 L550.20,576.40 L550.29,577.40 L550.37,578.40 L550.45,579.41 L550.53,580.41 L550.62,581.42 L550.70,582.42 L550.78,583.42 L550.86,584.43 L550.95,585.43 L551.03,586.44 L551.11,587.44 L551.20,588.44 L551.28,589.45 L551.36,590.45 L551.45,591.45 L551.53,592.46 L551.61,593.46 L551.69,594.47 L551.78,595.47 L551.86,596.47 L551.94,597.48 L552.03,598.48 L552.11,599.48 L552.19,600.49 L552.28,601.49 L552.36,602.50 L552.44,603.50 L552.53,604.50 L552.61,605.51 L552.69,606.51 L552.78,607.51 L552.86,608.52 L552.94,609.52 L553.03,610.53 L553.11,611.53 L553.19,612.53 L553.28,613.54 L553.36,614.54 L553.45,615.54 L553.53,616.55 L553.61,617.55 L553.70,618.56 L553.78,619.56 L553.86,620.56 L553.95,621.57 L554.03,622.57 L554.11,623.57 L554.20,624.58 L554.28,625.58 L554.37,626.59 L554.45,627.59 L554.53,628.59 L554.62,629.60 L554.70,630.60" fill="none" stroke="#0E960E" stroke-width="2.0" stroke-linejoin="round" stroke-linecap="round"/>
<path d="M528.30,630.60 L528.31,629.59 L528.32,628.59 L528.33,627.58 L528.34,626.58 L528.35,625.57 L528.36,624.56 L528.37,623.56 L528.38,622.55 L528.39,621.55 L528.40,620.54 L528.41,619.53 L528.42,618.53 L528.43,617.52 L528.44,616.52 L528.45,615.51 L528.46,614.50 L528.48,613.50 L528.49,612.49 L528.50,611.49 L528.51,610.48 L528.52,609.47 L528.54,608.47 L528.55,607.46 L528.56,606.46 L528.57,605.45 L528.59,604.44 L528.60,603.44 L528.62,602.43 L528.63,601.43 L528.65,600.42 L528.66,599.41 L528.68,598.41 L528.69,597.40 L528.71,596.40 L528.72,595.39 L528.74,594.39 L528.76,593.38 L528.78,592.37 L528.80,591.37 L528.81,590.36 L528.83,589.36 L528.85,588.35 L528.87,587.34 L528.89,586.34 L528.91,585.33 L528.93,584.33 L528.95,583.32 L528.97,582.32 L529.00,581.31 L529.02,580.30 L529.04,579.30 L529.06,578.29 L529.09,577.29 L529.11,576.28 L529.13,575.28 L529.16,574.27 L529.18,573.26 L529.21,572.26 L529.23,571.25 L529.26,570.25 L529.28,569.24 L529.31,568.24 L529.34,567.23 L529.36,566.23 L529.39,565.22 L529.42,564.21 L529.45,563.21 L529.47,562.20 L529.50,561.20 L529.53,560.19 L529.56,559.19 L529.59,558.18 L529.62,557.18 L529.65,556.17 L529.68,555.16 L529.71,554.16 L529.74,553.15 L529.77,552.15 L529.80,551.14 L529.84,550.14 L529.87,549.13 L529.90,548.13 L529.93,547.12 L529.97,546.12 L530.00,545.11 L530.03,544.10 L530.07,543.10 L530.10,542.09 L530.13,541.09 L530.17,540.08 L530.20,539.08 L530.24,538.07 L530.27,537.07 L530.31,536.06 L530.35,535.06 L530.38,534.05 L530.42,533.05 L530.46,532.04 L530.49,531.03 L530.53,530.03 L530.57,529.02 L530.60,528.02 L530.64,527.01 L530.68,526.01 L530.72,525.00 L530.76,524.00 L530.80,522.99 L530.84,521.99 L530.88,520.98 L530.92,519.98 L530.95,518.97 L530.99,517.97 L531.04,516.96 L531.08,515.96 L531.12,514.95 L531.16,513.95 L531.20,512.94 L531.24,511.94 L531.28,510.93 L531.32,509.92 L531.37,508.92 L531.41,507.91 L531.45,506.91 L531.49,505.90 L531.54,504.90 L531.58,503.89 L531.62,502.89 L531.67,501.88 L531.71,500.88 L531.75,499.87 L531.80,498.87 L531.84,497.86 L531.89,496.86 L531.93,495.85 L531.98,494.85 L532.02,493.84 L532.07,492.84 L532.11,491.83 L532.16,490.83 L532.20,489.82 L532.25,488.82 L532.29,487.81 L532.34,486.81 L532.39,485.80 L532.43,484.80 L532.48,483.79 L532.53,482.79 L532.57,481.78 L532.62,480.78 L532.67,479.77 L532.71,478.77 L532.76,477.76 L532.81,476.76 L532.86,475.75 L532.91,474.75 L532.95,473.74 L533.00,472.74 L533.05,471.73 L533.10,470.73 L533.15,469.72 L533.20,468.72 L533.25,467.71 L533.29,466.71 L533.34,465.70 L533.39,464.70 L533.44,463.69 L533.49,462.69 L533.54,461.68 L533.59,460.68 L533.64,459.67 L533.69,458.67 L533.74,457.66 L533.79,456.66 L533.84,455.65 L533.89,454.65 L533.94,453.64 L533.99,452.64 L534.04,451.63 L534.10,450.63 L534.15,449.62 L534.20,448.62 L534.25,447.61 L534.30,446.61 L534.35,445.60 L534.40,444.60 L534.45,443.59 L534.50,442.59 L534.56,441.58 L534.61,440.58 L534.66,439.57 L534.71,438.57 L534.76,437.56 L534.82,436.56 L534.87,435.55 L534.92,434.55 L534.97,433.54 L535.02,432.54 L535.08,431.53 L535.13,430.53 L535.18,429.52 L535.23,428.52 L535.29,427.51 L535.34,426.51 L535.39,425.50 L535.44,424.50 L535.50,423.49 L535.55,422.49 L535.60,421.48 L535.65,420.48 L535.71,419.47 L535.76,418.47 L535.81,417.46 L535.86,416.46 L535.92,415.45 L535.97,414.45 L536.02,413.44 L536.08,412.44 L536.13,411.43 L536.18,410.43 L536.24,409.42 L536.29,408.42 L536.34,407.41 L536.39,406.41 L536.45,405.40 L536.50,404.40 M536.50,404.40 L536.52,405.41 L536.54,406.41 L536.56,407.42 L536.58,408.42 L536.60,409.43 L536.62,410.43 L536.63,411.44 L536.65,412.44 L536.67,413.45 L536.69,414.45 L536.71,415.46 L536.73,416.46 L536.75,417.47 L536.77,418.47 L536.79,419.48 L536.81,420.48 L536.83,421.49 L536.85,422.49 L536.87,423.50 L536.89,424.50 L536.91,425.51 L536.93,426.51 L536.95,427.52 L536.97,428.52 L536.99,429.53 L537.01,430.53 L537.03,431.54 L537.05,432.54 L537.07,433.55 L537.09,434.55 L537.11,435.56 L537.13,436.56 L537.16,437.57 L537.18,438.57 L537.20,439.58 L537.22,440.58 L537.24,441.59 L537.26,442.59 L537.29,443.60 L537.31,444.60 L537.33,445.61 L537.35,446.61 L537.37,447.62 L537.40,448.62 L537.42,449.63 L537.44,450.63 L537.46,451.64 L537.49,452.64 L537.51,453.65 L537.53,454.65 L537.56,455.66 L537.58,456.66 L537.61,457.67 L537.63,458.67 L537.66,459.68 L537.68,460.68 L537.70,461.69 L537.73,462.69 L537.75,463.70 L537.78,464.70 L537.81,465.71 L537.83,466.71 L537.86,467.72 L537.88,468.72 L537.91,469.73 L537.94,470.73 L537.96,471.74 L537.99,472.74 L538.02,473.74 L538.05,474.75 L538.07,475.75 L538.10,476.76 L538.13,477.76 L538.16,478.77 L538.19,479.77 L538.22,480.78 L538.25,481.78 L538.28,482.79 L538.31,483.79 L538.34,484.80 L538.37,485.80 L538.40,486.81 L538.43,487.81 L538.46,488.82 L538.49,489.82 L538.53,490.82 L538.56,491.83 L538.59,492.83 L538.62,493.84 L538.66,494.84 L538.69,495.85 L538.72,496.85 L538.76,497.86 L538.79,498.86 L538.83,499.87 L538.86,500.87 L538.90,501.87 L538.93,502.88 L538.97,503.88 L539.01,504.89 L539.04,505.89 L539.08,506.90 L539.12,507.90 L539.16,508.91 L539.19,509.91 L539.23,510.91 L539.27,511.92 L539.31,512.92 L539.35,513.93 L539.39,514.93 L539.43,515.94 L539.47,516.94 L539.51,517.94 L539.56,518.95 L539.60,519.95 L539.64,520.96 L539.68,521.96 L539.73,522.97 L539.77,523.97 L539.81,524.97 L539.86,525.98 L539.90,526.98 L539.95,527.99 L539.99,528.99 L540.04,530.00 L540.09,531.00 L540.13,532.00 L540.18,533.01 L540.23,534.01 L540.27,535.02 L540.32,536.02 L540.37,537.02 L540.42,538.03 L540.46,539.03 L540.51,540.04 L540.56,541.04 L540.61,542.04 L540.66,543.05 L540.71,544.05 L540.76,545.06 L540.81,546.06 L540.86,547.06 L540.91,548.07 L540.95,549.07 L541.00,550.08 L541.05,551.08 L541.11,552.08 L541.16,553.09 L541.21,554.09 L541.26,555.09 L541.31,556.10 L541.36,557.10 L541.41,558.11 L541.46,559.11 L541.51,560.11 L541.56,561.12 L541.61,562.12 L541.66,563.13 L541.71,564.13 L541.76,565.13 L541.81,566.14 L541.86,567.14 L541.91,568.15 L541.96,569.15 L542.01,570.15 L542.06,571.16 L542.11,572.16 L542.16,573.17 L542.21,574.17 L542.26,575.17 L542.31,576.18 L542.36,577.18 L542.41,578.19 L542.46,579.19 L542.51,580.19 L542.56,581.20 L542.61,582.20 L542.66,583.21 L542.70,584.21 L542.75,585.21 L542.80,586.22 L542.85,587.22 L542.89,588.23 L542.94,589.23 L542.99,590.23 L543.04,591.24 L543.08,592.24 L543.13,593.25 L543.18,594.25 L543.22,595.25 L543.27,596.26 L543.32,597.26 L543.36,598.27 L543.41,599.27 L543.45,600.27 L543.50,601.28 L543.55,602.28 L543.59,603.29 L543.64,604.29 L543.68,605.30 L543.73,606.30 L543.77,607.30 L543.82,608.31 L543.86,609.31 L543.91,610.32 L543.95,611.32 L544.00,612.32 L544.04,613.33 L544.09,614.33 L544.13,615.34 L544.18,616.34 L544.22,617.35 L544.27,618.35 L544.31,619.35 L544.36,620.36 L544.40,621.36 L544.45,622.37 L544.49,623.37 L544.53,624.37 L544.58,625.38 L544.62,626.38 L544.67,627.39 L544.71,628.39 L544.76,629.40 L544.80,630.40" fill="none" stroke="#FF00FF" stroke-width="2.0" stroke-linejoin="round" stroke-linecap="round"/>
<path d="M528.30,596.10 L532.70,404.40 M532.70,404.40 L532.70,405.41 L532.70,406.41 L532.71,407.42 L532.71,408.42 L532.71,409.43 L532.71,410.43 L532.72,411.44 L532.72,412.45 L532.72,413.45 L532.72,414.46 L532.73,415.46 L532.73,416.47 L532.73,417.47 L532.74,418.48 L532.74,419.49 L532.74,420.49 L532.74,421.50 L532.75,422.50 L532.75,423.51 L532.75,424.51 L532.76,425.52 L532.76,426.52 L532.76,427.53 L532.77,428.54 L532.77,429.54 L532.77,430.55 L532.78,431.55 L532.78,432.56 L532.78,433.56 L532.79,434.57 L532.79,435.58 L532.80,436.58 L532.80,437.59 L532.80,438.59 L532.81,439.60 L532.81,440.60 L532.82,441.61 L532.82,442.61 L532.83,443.62 L532.83,444.63 L532.84,445.63 L532.84,446.64 L532.85,447.64 L532.85,448.65 L532.86,449.65 L532.86,450.66 L532.87,451.67 L532.88,452.67 L532.88,453.68 L532.89,454.68 L532.90,455.69 L532.90,456.69 L532.91,457.70 L532.92,458.70 L532.92,459.71 L532.93,460.72 L532.94,461.72 L532.95,462.73 L532.95,463.73 L532.96,464.74 L532.97,465.74 L532.98,466.75 L532.99,467.75 L533.00,468.76 L533.01,469.77 L533.02,470.77 L533.03,471.78 L533.04,472.78 L533.05,473.79 L533.06,474.79 L533.07,475.80 L533.08,476.80 L533.09,477.81 L533.10,478.82 L533.11,479.82 L533.12,480.83 L533.13,481.83 L533.15,482.84 L533.16,483.84 L533.17,484.85 L533.18,485.85 L533.20,486.86 L533.21,487.86 L533.22,488.87 L533.24,489.88 L533.25,490.88 L533.27,491.89 L533.28,492.89 L533.30,493.90 L533.31,494.90 L533.33,495.91 L533.34,496.91 L533.36,497.92 L533.38,498.92 L533.39,499.93 L533.41,500.93 L533.43,501.94 L533.45,502.95 L533.46,503.95 L533.48,504.96 L533.50,505.96 L533.52,506.97 L533.54,507.97 L533.56,508.98 L533.58,509.98 L533.60,510.99 L533.62,511.99 L533.64,513.00 L533.66,514.00 L533.69,515.01 L533.71,516.01 L533.73,517.02 L533.75,518.03 L533.78,519.03 L533.80,520.04 L533.82,521.04 L533.85,522.05 L533.87,523.05 L533.90,524.06 L533.92,525.06 L533.95,526.07 L533.98,527.07 L534.00,528.08 L534.03,529.08 L534.06,530.09 L534.08,531.09 L534.11,532.10 L534.14,533.10 L534.17,534.11 L534.20,535.11 L534.22,536.12 L534.25,537.12 L534.28,538.13 L534.31,539.13 L534.34,540.14 L534.37,541.14 L534.40,542.15 L534.43,543.15 L534.46,544.16 L534.49,545.17 L534.52,546.17 L534.55,547.18 L534.59,548.18 L534.62,549.19 L534.65,550.19 L534.68,551.20 L534.71,552.20 L534.74,553.21 L534.77,554.21 L534.81,555.22 L534.84,556.22 L534.87,557.23 L534.90,558.23 L534.93,559.24 L534.97,560.24 L535.00,561.25 L535.03,562.25 L535.06,563.26 L535.10,564.26 L535.13,565.27 L535.16,566.27 L535.19,567.28 L535.23,568.28 L535.26,569.29 L535.29,570.29 L535.32,571.30 L535.35,572.30 L535.39,573.31 L535.42,574.31 L535.45,575.32 L535.48,576.32 L535.52,577.33 L535.55,578.33 L535.58,579.34 L535.61,580.34 L535.64,581.35 L535.67,582.35 L535.71,583.36 L535.74,584.36 L535.77,585.37 L535.80,586.37 L535.83,587.38 L535.86,588.38 L535.89,589.39 L535.92,590.39 L535.95,591.40 L535.98,592.40 L536.01,593.41 L536.04,594.41 L536.07,595.42 L536.10,596.43 L536.13,597.43 L536.16,598.44 L536.19,599.44 L536.22,600.45 L536.25,601.45 L536.28,602.46 L536.31,603.46 L536.34,604.47 L536.37,605.47 L536.40,606.48 L536.43,607.48 L536.46,608.49 L536.49,609.49 L536.52,610.50 L536.55,611.50 L536.58,612.51 L536.61,613.51 L536.64,614.52 L536.67,615.52 L536.69,616.53 L536.72,617.53 L536.75,618.54 L536.78,619.54 L536.81,620.55 L536.84,621.55 L536.87,622.56 L536.90,623.56 L536.93,624.57 L536.96,625.57 L536.98,626.58 L537.01,627.58 L537.04,628.59 L537.07,629.59 L537.10,630.60" fill="none" stroke="#FF8000" stroke-width="2.0" stroke-linejoin="round" stroke-linecap="round"/>
<path d="M528.65,653.60v-5M581.47,653.60v-5M634.30,653.60v-5M687.12,653.60v-5M739.95,653.60v-5M792.77,653.60v-5M845.60,653.60v-5M555.06,653.60v-2.8M607.89,653.60v-2.8M660.71,653.60v-2.8M713.54,653.60v-2.8M766.36,653.60v-2.8M819.19,653.60v-2.8M512.80,634.42h5M512.80,596.06h5M512.80,557.71h5M512.80,519.35h5M512.80,480.99h5M512.80,442.64h5M512.80,404.28h5M512.80,615.24h2.8M512.80,576.89h2.8M512.80,538.53h2.8M512.80,500.17h2.8M512.80,461.81h2.8M512.80,423.46h2.8" stroke="#000" stroke-width="1.6" fill="none"/>
<rect x="512.80" y="385.10" width="332.80" height="268.50" fill="none" stroke="#000" stroke-width="1.8"/>
<text x="528.65" y="673.00" font-size="17.5" text-anchor="middle" fill="#000000" font-weight="bold" >0</text>
<text x="581.47" y="673.00" font-size="17.5" text-anchor="middle" fill="#000000" font-weight="bold" >100</text>
<text x="634.30" y="673.00" font-size="17.5" text-anchor="middle" fill="#000000" font-weight="bold" >200</text>
<text x="687.12" y="673.00" font-size="17.5" text-anchor="middle" fill="#000000" font-weight="bold" >300</text>
<text x="739.95" y="673.00" font-size="17.5" text-anchor="middle" fill="#000000" font-weight="bold" >400</text>
<text x="792.77" y="673.00" font-size="17.5" text-anchor="middle" fill="#000000" font-weight="bold" >500</text>
<text x="845.60" y="673.00" font-size="17.5" text-anchor="middle" fill="#000000" font-weight="bold" >600</text>
<text x="506.50" y="640.22" font-size="17.5" text-anchor="end" fill="#000000" font-weight="bold" >0.0</text>
<text x="506.50" y="601.86" font-size="17.5" text-anchor="end" fill="#000000" font-weight="bold" >0.5</text>
<text x="506.50" y="563.51" font-size="17.5" text-anchor="end" fill="#000000" font-weight="bold" >1.0</text>
<text x="506.50" y="525.15" font-size="17.5" text-anchor="end" fill="#000000" font-weight="bold" >1.5</text>
<text x="506.50" y="486.79" font-size="17.5" text-anchor="end" fill="#000000" font-weight="bold" >2.0</text>
<text x="506.50" y="448.44" font-size="17.5" text-anchor="end" fill="#000000" font-weight="bold" >2.5</text>
<text x="506.50" y="410.08" font-size="17.5" text-anchor="end" fill="#000000" font-weight="bold" >3.0</text>
<text x="679.20" y="703.50" font-size="19.5" text-anchor="middle" fill="#000000" font-weight="bold" >Time/s</text>
<text transform="translate(468.4,566.3) rotate(-90)" font-size="19.5" font-weight="bold">Potential / V</text>
<text x="451.90" y="401.20" font-size="44" text-anchor="start" fill="#000000" font-weight="bold" >e</text>
<line x1="754.4" y1="410.7" x2="780.5" y2="410.7" stroke="#000000" stroke-width="1.8"/>
<text x="790.6" y="415.2" font-size="12.5" font-weight="bold" word-spacing="0.8" xml:space="preserve">0.5 A g<tspan font-size="8.5" dy="-5.5">-1</tspan></text>
<line x1="754.4" y1="428.1" x2="780.5" y2="428.1" stroke="#FF0000" stroke-width="1.8"/>
<text x="790.6" y="432.6" font-size="12.5" font-weight="bold" word-spacing="0.8" xml:space="preserve">1  A g<tspan font-size="8.5" dy="-5.5">-1</tspan></text>
<line x1="754.4" y1="445.5" x2="780.5" y2="445.5" stroke="#0000FF" stroke-width="1.8"/>
<text x="790.6" y="450.0" font-size="12.5" font-weight="bold" word-spacing="0.8" xml:space="preserve">2  A g<tspan font-size="8.5" dy="-5.5">-1</tspan></text>
<line x1="754.4" y1="462.2" x2="780.5" y2="462.2" stroke="#0E960E" stroke-width="1.8"/>
<text x="790.6" y="466.7" font-size="12.5" font-weight="bold" word-spacing="0.8" xml:space="preserve">4  A g<tspan font-size="8.5" dy="-5.5">-1</tspan></text>
<line x1="754.4" y1="479.6" x2="780.5" y2="479.6" stroke="#FF00FF" stroke-width="1.8"/>
<text x="790.6" y="484.1" font-size="12.5" font-weight="bold" word-spacing="0.8" xml:space="preserve">6  A g<tspan font-size="8.5" dy="-5.5">-1</tspan></text>
<line x1="754.4" y1="497.1" x2="780.5" y2="497.1" stroke="#FF8000" stroke-width="1.8"/>
<text x="790.6" y="501.6" font-size="12.5" font-weight="bold" word-spacing="0.8" xml:space="preserve">10 A g<tspan font-size="8.5" dy="-5.5">-1</tspan></text>
<circle cx="953.80" cy="431.00" r="3.75" fill="url(#fr)"/>
<circle cx="960.51" cy="431.06" r="3.75" fill="url(#fr)"/>
<circle cx="967.22" cy="431.16" r="3.75" fill="url(#fr)"/>
<circle cx="973.93" cy="431.29" r="3.75" fill="url(#fr)"/>
<circle cx="980.64" cy="431.43" r="3.75" fill="url(#fr)"/>
<circle cx="987.35" cy="431.58" r="3.75" fill="url(#fr)"/>
<circle cx="994.06" cy="431.74" r="3.75" fill="url(#fr)"/>
<circle cx="1000.77" cy="431.90" r="3.75" fill="url(#fr)"/>
<circle cx="1007.48" cy="432.08" r="3.75" fill="url(#fr)"/>
<circle cx="1014.19" cy="432.26" r="3.75" fill="url(#fr)"/>
<circle cx="1020.90" cy="432.45" r="3.75" fill="url(#fr)"/>
<circle cx="1027.61" cy="432.65" r="3.75" fill="url(#fr)"/>
<circle cx="1034.32" cy="432.85" r="3.75" fill="url(#fr)"/>
<circle cx="1041.03" cy="433.05" r="3.75" fill="url(#fr)"/>
<circle cx="1047.74" cy="433.26" r="3.75" fill="url(#fr)"/>
<circle cx="1054.45" cy="433.48" r="3.75" fill="url(#fr)"/>
<circle cx="1061.16" cy="433.70" r="3.75" fill="url(#fr)"/>
<circle cx="1067.87" cy="433.92" r="3.75" fill="url(#fr)"/>
<circle cx="1074.58" cy="434.15" r="3.75" fill="url(#fr)"/>
<circle cx="1081.29" cy="434.38" r="3.75" fill="url(#fr)"/>
<circle cx="1088.00" cy="434.62" r="3.75" fill="url(#fr)"/>
<circle cx="1094.71" cy="434.86" r="3.75" fill="url(#fr)"/>
<circle cx="1101.42" cy="435.10" r="3.75" fill="url(#fr)"/>
<circle cx="1108.13" cy="435.35" r="3.75" fill="url(#fr)"/>
<circle cx="1114.84" cy="435.60" r="3.75" fill="url(#fr)"/>
<circle cx="1121.55" cy="435.85" r="3.75" fill="url(#fr)"/>
<circle cx="1128.26" cy="436.10" r="3.75" fill="url(#fr)"/>
<circle cx="1134.97" cy="436.36" r="3.75" fill="url(#fr)"/>
<circle cx="1141.68" cy="436.62" r="3.75" fill="url(#fr)"/>
<circle cx="1148.39" cy="436.89" r="3.75" fill="url(#fr)"/>
<circle cx="1155.10" cy="437.15" r="3.75" fill="url(#fr)"/>
<circle cx="1161.81" cy="437.42" r="3.75" fill="url(#fr)"/>
<circle cx="1168.52" cy="437.70" r="3.75" fill="url(#fr)"/>
<circle cx="1175.23" cy="437.97" r="3.75" fill="url(#fr)"/>
<circle cx="1181.94" cy="438.25" r="3.75" fill="url(#fr)"/>
<circle cx="1188.65" cy="438.53" r="3.75" fill="url(#fr)"/>
<circle cx="1195.36" cy="438.81" r="3.75" fill="url(#fr)"/>
<circle cx="1202.07" cy="439.09" r="3.75" fill="url(#fr)"/>
<circle cx="1208.78" cy="439.38" r="3.75" fill="url(#fr)"/>
<circle cx="1215.49" cy="439.67" r="3.75" fill="url(#fr)"/>
<circle cx="1222.20" cy="439.96" r="3.75" fill="url(#fr)"/>
<circle cx="1228.91" cy="440.26" r="3.75" fill="url(#fr)"/>
<circle cx="1235.62" cy="440.55" r="3.75" fill="url(#fr)"/>
<circle cx="1242.33" cy="440.85" r="3.75" fill="url(#fr)"/>
<circle cx="1249.04" cy="441.15" r="3.75" fill="url(#fr)"/>
<circle cx="1255.75" cy="441.45" r="3.75" fill="url(#fr)"/>
<circle cx="1262.46" cy="441.76" r="3.75" fill="url(#fr)"/>
<circle cx="1269.17" cy="442.06" r="3.75" fill="url(#fr)"/>
<circle cx="1275.88" cy="442.37" r="3.75" fill="url(#fr)"/>
<circle cx="1282.59" cy="442.68" r="3.75" fill="url(#fr)"/>
<circle cx="957.00" cy="431.02" r="3.75" fill="url(#fg)"/>
<circle cx="963.65" cy="431.15" r="3.75" fill="url(#fg)"/>
<circle cx="970.31" cy="431.31" r="3.75" fill="url(#fg)"/>
<circle cx="976.96" cy="431.49" r="3.75" fill="url(#fg)"/>
<circle cx="983.61" cy="431.70" r="3.75" fill="url(#fg)"/>
<circle cx="990.26" cy="431.91" r="3.75" fill="url(#fg)"/>
<circle cx="996.92" cy="432.14" r="3.75" fill="url(#fg)"/>
<circle cx="1003.57" cy="432.39" r="3.75" fill="url(#fg)"/>
<circle cx="1010.22" cy="432.64" r="3.75" fill="url(#fg)"/>
<circle cx="1016.88" cy="432.90" r="3.75" fill="url(#fg)"/>
<circle cx="1023.53" cy="433.17" r="3.75" fill="url(#fg)"/>
<circle cx="1030.18" cy="433.45" r="3.75" fill="url(#fg)"/>
<circle cx="1036.84" cy="433.73" r="3.75" fill="url(#fg)"/>
<circle cx="1043.49" cy="434.02" r="3.75" fill="url(#fg)"/>
<circle cx="1050.14" cy="434.32" r="3.75" fill="url(#fg)"/>
<circle cx="1056.80" cy="434.63" r="3.75" fill="url(#fg)"/>
<circle cx="1063.45" cy="434.94" r="3.75" fill="url(#fg)"/>
<circle cx="1070.10" cy="435.25" r="3.75" fill="url(#fg)"/>
<circle cx="1076.75" cy="435.58" r="3.75" fill="url(#fg)"/>
<circle cx="1083.41" cy="435.90" r="3.75" fill="url(#fg)"/>
<circle cx="1090.06" cy="436.24" r="3.75" fill="url(#fg)"/>
<circle cx="1096.71" cy="436.58" r="3.75" fill="url(#fg)"/>
<circle cx="1103.37" cy="436.92" r="3.75" fill="url(#fg)"/>
<circle cx="1110.02" cy="437.27" r="3.75" fill="url(#fg)"/>
<circle cx="1116.67" cy="437.62" r="3.75" fill="url(#fg)"/>
<circle cx="1123.33" cy="437.97" r="3.75" fill="url(#fg)"/>
<circle cx="1129.98" cy="438.33" r="3.75" fill="url(#fg)"/>
<circle cx="1136.63" cy="438.70" r="3.75" fill="url(#fg)"/>
<circle cx="1143.28" cy="439.07" r="3.75" fill="url(#fg)"/>
<circle cx="1149.94" cy="439.44" r="3.75" fill="url(#fg)"/>
<circle cx="1156.59" cy="439.82" r="3.75" fill="url(#fg)"/>
<circle cx="1163.24" cy="440.20" r="3.75" fill="url(#fg)"/>
<circle cx="1169.90" cy="440.58" r="3.75" fill="url(#fg)"/>
<circle cx="1176.55" cy="440.97" r="3.75" fill="url(#fg)"/>
<circle cx="1183.20" cy="441.36" r="3.75" fill="url(#fg)"/>
<circle cx="1189.86" cy="441.75" r="3.75" fill="url(#fg)"/>
<circle cx="1196.51" cy="442.15" r="3.75" fill="url(#fg)"/>
<circle cx="1203.16" cy="442.55" r="3.75" fill="url(#fg)"/>
<circle cx="1209.81" cy="442.96" r="3.75" fill="url(#fg)"/>
<circle cx="1216.47" cy="443.36" r="3.75" fill="url(#fg)"/>
<circle cx="1223.12" cy="443.77" r="3.75" fill="url(#fg)"/>
<circle cx="1229.77" cy="444.19" r="3.75" fill="url(#fg)"/>
<circle cx="1236.43" cy="444.60" r="3.75" fill="url(#fg)"/>
<circle cx="1243.08" cy="445.02" r="3.75" fill="url(#fg)"/>
<circle cx="1249.73" cy="445.45" r="3.75" fill="url(#fg)"/>
<circle cx="1256.38" cy="445.87" r="3.75" fill="url(#fg)"/>
<circle cx="1263.04" cy="446.30" r="3.75" fill="url(#fg)"/>
<circle cx="1269.69" cy="446.73" r="3.75" fill="url(#fg)"/>
<circle cx="1276.34" cy="447.16" r="3.75" fill="url(#fg)"/>
<circle cx="1283.00" cy="447.60" r="3.75" fill="url(#fg)"/>
<rect x="940" y="420" width="11.2" height="20" fill="#fff"/>
<rect x="1285.4" y="430" width="10" height="25" fill="#fff"/>
<path d="M952.00,656.00v-5M1018.50,656.00v-5M1085.00,656.00v-5M1151.50,656.00v-5M1218.00,656.00v-5M1284.50,656.00v-5M985.25,656.00v-2.8M1051.75,656.00v-2.8M1118.25,656.00v-2.8M1184.75,656.00v-2.8M1251.25,656.00v-2.8M952.00,656.00h5M952.00,610.84h5M952.00,565.67h5M952.00,520.51h5M952.00,475.35h5M952.00,430.19h5M952.00,385.02h5M952.00,633.42h2.8M952.00,588.26h2.8M952.00,543.09h2.8M952.00,497.93h2.8M952.00,452.77h2.8M952.00,407.60h2.8" stroke="#000" stroke-width="1.6" fill="none"/>
<rect x="952.00" y="385.70" width="332.50" height="270.30" fill="none" stroke="#000" stroke-width="1.8"/>
<text x="952.00" y="675.50" font-size="16" text-anchor="middle" fill="#000000" font-weight="bold" >0</text>
<text x="1018.50" y="675.50" font-size="16" text-anchor="middle" fill="#000000" font-weight="bold" >2,000</text>
<text x="1085.00" y="675.50" font-size="16" text-anchor="middle" fill="#000000" font-weight="bold" >4,000</text>
<text x="1151.50" y="675.50" font-size="16" text-anchor="middle" fill="#000000" font-weight="bold" >6,000</text>
<text x="1218.00" y="675.50" font-size="16" text-anchor="middle" fill="#000000" font-weight="bold" >8,000</text>
<text x="1284.50" y="675.50" font-size="16" text-anchor="middle" fill="#000000" font-weight="bold" >10,000</text>
<text x="945.30" y="661.30" font-size="16" text-anchor="end" fill="#000000" font-weight="bold" >0</text>
<text x="945.30" y="616.20" font-size="16" text-anchor="end" fill="#000000" font-weight="bold" >20</text>
<text x="945.30" y="571.10" font-size="16" text-anchor="end" fill="#000000" font-weight="bold" >40</text>
<text x="945.30" y="526.00" font-size="16" text-anchor="end" fill="#000000" font-weight="bold" >60</text>
<text x="945.30" y="480.90" font-size="16" text-anchor="end" fill="#000000" font-weight="bold" >80</text>
<text x="945.30" y="435.80" font-size="16" text-anchor="end" fill="#000000" font-weight="bold" >100</text>
<text x="945.30" y="390.70" font-size="16" text-anchor="end" fill="#000000" font-weight="bold" >120</text>
<text x="1118.3" y="702.7" font-size="19.5" text-anchor="middle" font-weight="bold" textLength="106.5" lengthAdjust="spacingAndGlyphs">Cycle Number</text>
<text transform="translate(914.6,612.2) rotate(-90)" font-size="20" font-weight="bold" textLength="201.5" lengthAdjust="spacingAndGlyphs">Capacitance Retention / %</text>
<text x="897.30" y="403.00" font-size="44" text-anchor="start" fill="#000000" font-weight="bold" >f</text>
<text x="1128.5" y="422.6" font-size="12.6" font-weight="bold" fill="#FF0000" textLength="97" lengthAdjust="spacingAndGlyphs">1M BMIMBF<tspan font-size="7.5" dy="3.5">4</tspan><tspan dy="-3.5">/AN</tspan></text>
<text x="1239.20" y="423.00" font-size="13.8" text-anchor="start" fill="#FF0000" font-weight="bold" >94.6%</text>
<text x="1165.4" y="467.2" font-size="12.6" font-weight="bold" textLength="59.5" lengthAdjust="spacingAndGlyphs">1M Na<tspan font-size="7.5" dy="3.5">2</tspan><tspan dy="-3.5">SO</tspan><tspan font-size="7.5" dy="3.5">4</tspan></text>
<text x="1239.80" y="467.20" font-size="13.8" text-anchor="start" fill="#000000" font-weight="bold" >92.4%</text>
</svg></body></html>
